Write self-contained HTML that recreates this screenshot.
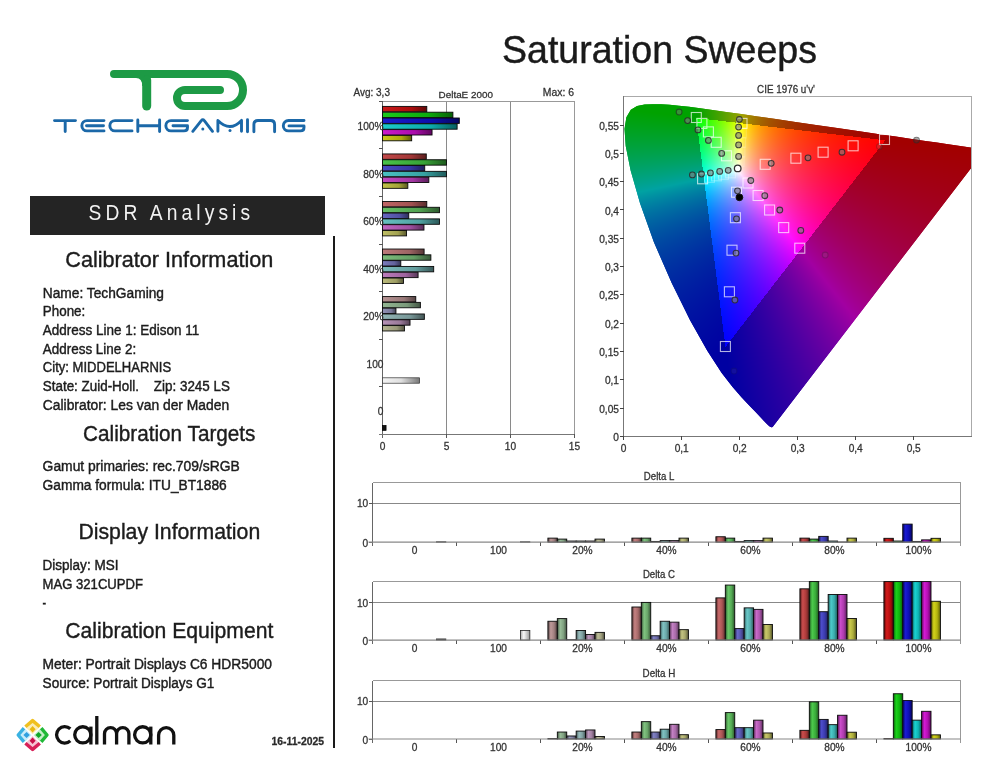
<!DOCTYPE html>
<html><head><meta charset="utf-8"><title>Saturation Sweeps</title>
<style>
html,body{margin:0;padding:0;background:#fff;}
body{width:994px;height:768px;position:relative;overflow:hidden;}
#cie{position:absolute;left:0;top:0;}
svg{position:absolute;left:0;top:0;}
text{font-family:"Liberation Sans",sans-serif;}
</style></head>
<body>
<svg id="fb" width="994" height="768" viewBox="0 0 994 768" style="position:absolute;left:0;top:0"><defs><clipPath id="fbclip"><polygon points="772.6,426.9 772.4,427.1 772.0,427.3 771.3,427.3 770.0,426.7 768.5,425.5 766.4,423.5 763.5,420.5 759.8,416.5 755.1,411.6 749.0,405.2 741.6,397.4 732.6,387.0 721.7,372.9 707.3,350.8 690.2,320.6 671.7,283.0 653.9,242.3 640.0,203.3 630.6,170.4 625.7,145.9 624.5,128.9 626.4,117.2 630.8,109.7 637.1,105.9 644.6,104.5 652.7,104.2 661.0,104.3 669.7,104.8 679.0,105.7 689.1,106.8 700.2,108.3 712.5,109.9 726.1,111.9 741.2,114.0 757.8,116.4 775.9,119.1 795.4,121.9 816.0,124.9 837.2,128.0 857.7,131.0 877.7,134.0 895.8,136.6 911.8,138.9 925.4,140.9 936.9,142.6 946.5,144.0 961.9,146.2 972.0,147.7 978.0,148.6 983.2,149.3 985.3,149.6"/></clipPath><linearGradient id="fb0" gradientUnits="userSpaceOnUse" x1="624" y1="0" x2="972" y2="0"><stop offset="0.0000" stop-color="#00a200"/><stop offset="0.0460" stop-color="#00a200"/><stop offset="0.0920" stop-color="#00a200"/><stop offset="0.1379" stop-color="#00a200"/><stop offset="0.1839" stop-color="#00a200"/><stop offset="0.2299" stop-color="#1ba200"/><stop offset="0.2759" stop-color="#4aa200"/><stop offset="0.3218" stop-color="#82a200"/><stop offset="0.3678" stop-color="#a28400"/><stop offset="0.4138" stop-color="#a25e00"/><stop offset="0.4598" stop-color="#a24500"/><stop offset="0.5057" stop-color="#a23300"/><stop offset="0.5517" stop-color="#a22600"/><stop offset="0.5977" stop-color="#a21d00"/><stop offset="0.6437" stop-color="#a21500"/><stop offset="0.6897" stop-color="#a20e00"/><stop offset="0.7356" stop-color="#a20900"/><stop offset="0.7816" stop-color="#a20500"/><stop offset="0.8276" stop-color="#a20100"/><stop offset="0.8736" stop-color="#a20000"/><stop offset="0.9195" stop-color="#a20000"/><stop offset="0.9655" stop-color="#a20000"/><stop offset="1.0000" stop-color="#a20000"/></linearGradient><linearGradient id="fb1" gradientUnits="userSpaceOnUse" x1="624" y1="0" x2="972" y2="0"><stop offset="0.0000" stop-color="#00a200"/><stop offset="0.0460" stop-color="#00a200"/><stop offset="0.0920" stop-color="#00a200"/><stop offset="0.1379" stop-color="#00a200"/><stop offset="0.1839" stop-color="#00a200"/><stop offset="0.2299" stop-color="#1aa200"/><stop offset="0.2759" stop-color="#4aa200"/><stop offset="0.3218" stop-color="#83a200"/><stop offset="0.3678" stop-color="#a28300"/><stop offset="0.4138" stop-color="#a25c00"/><stop offset="0.4598" stop-color="#a24400"/><stop offset="0.5057" stop-color="#a23200"/><stop offset="0.5517" stop-color="#a22500"/><stop offset="0.5977" stop-color="#a21c00"/><stop offset="0.6437" stop-color="#a21400"/><stop offset="0.6897" stop-color="#a20d00"/><stop offset="0.7356" stop-color="#a20800"/><stop offset="0.7816" stop-color="#a20400"/><stop offset="0.8276" stop-color="#a20000"/><stop offset="0.8736" stop-color="#a20000"/><stop offset="0.9195" stop-color="#a20000"/><stop offset="0.9655" stop-color="#a20000"/><stop offset="1.0000" stop-color="#a20000"/></linearGradient><linearGradient id="fb2" gradientUnits="userSpaceOnUse" x1="624" y1="0" x2="972" y2="0"><stop offset="0.0000" stop-color="#00a200"/><stop offset="0.0460" stop-color="#00a200"/><stop offset="0.0920" stop-color="#00a200"/><stop offset="0.1379" stop-color="#00a200"/><stop offset="0.1839" stop-color="#00a200"/><stop offset="0.2299" stop-color="#19a200"/><stop offset="0.2759" stop-color="#4aa200"/><stop offset="0.3218" stop-color="#84a200"/><stop offset="0.3678" stop-color="#a28200"/><stop offset="0.4138" stop-color="#a25b00"/><stop offset="0.4598" stop-color="#a24200"/><stop offset="0.5057" stop-color="#a23100"/><stop offset="0.5517" stop-color="#a22400"/><stop offset="0.5977" stop-color="#a21b00"/><stop offset="0.6437" stop-color="#a21300"/><stop offset="0.6897" stop-color="#a20d00"/><stop offset="0.7356" stop-color="#a20800"/><stop offset="0.7816" stop-color="#a20300"/><stop offset="0.8276" stop-color="#a20000"/><stop offset="0.8736" stop-color="#a20000"/><stop offset="0.9195" stop-color="#a20000"/><stop offset="0.9655" stop-color="#a20000"/><stop offset="1.0000" stop-color="#a20000"/></linearGradient><linearGradient id="fb3" gradientUnits="userSpaceOnUse" x1="624" y1="0" x2="972" y2="0"><stop offset="0.0000" stop-color="#00a200"/><stop offset="0.0460" stop-color="#00a200"/><stop offset="0.0920" stop-color="#00a200"/><stop offset="0.1379" stop-color="#00a200"/><stop offset="0.1839" stop-color="#00a200"/><stop offset="0.2299" stop-color="#18a200"/><stop offset="0.2759" stop-color="#49a200"/><stop offset="0.3218" stop-color="#84a200"/><stop offset="0.3678" stop-color="#a28000"/><stop offset="0.4138" stop-color="#a25a00"/><stop offset="0.4598" stop-color="#a24100"/><stop offset="0.5057" stop-color="#a23000"/><stop offset="0.5517" stop-color="#a22300"/><stop offset="0.5977" stop-color="#a21a00"/><stop offset="0.6437" stop-color="#a21200"/><stop offset="0.6897" stop-color="#a20c00"/><stop offset="0.7356" stop-color="#a20700"/><stop offset="0.7816" stop-color="#a20200"/><stop offset="0.8276" stop-color="#a20000"/><stop offset="0.8736" stop-color="#a20000"/><stop offset="0.9195" stop-color="#a20000"/><stop offset="0.9655" stop-color="#a20000"/><stop offset="1.0000" stop-color="#a20000"/></linearGradient><linearGradient id="fb4" gradientUnits="userSpaceOnUse" x1="624" y1="0" x2="972" y2="0"><stop offset="0.0000" stop-color="#00a206"/><stop offset="0.0460" stop-color="#00a204"/><stop offset="0.0920" stop-color="#00a201"/><stop offset="0.1379" stop-color="#00a200"/><stop offset="0.1839" stop-color="#00a200"/><stop offset="0.2299" stop-color="#17a200"/><stop offset="0.2759" stop-color="#49a200"/><stop offset="0.3218" stop-color="#85a200"/><stop offset="0.3678" stop-color="#a27f00"/><stop offset="0.4138" stop-color="#a25800"/><stop offset="0.4598" stop-color="#a24000"/><stop offset="0.5057" stop-color="#a22f00"/><stop offset="0.5517" stop-color="#a22200"/><stop offset="0.5977" stop-color="#a21900"/><stop offset="0.6437" stop-color="#a21100"/><stop offset="0.6897" stop-color="#a20b00"/><stop offset="0.7356" stop-color="#a20600"/><stop offset="0.7816" stop-color="#a20200"/><stop offset="0.8276" stop-color="#a20000"/><stop offset="0.8736" stop-color="#a20000"/><stop offset="0.9195" stop-color="#a20000"/><stop offset="0.9655" stop-color="#a20000"/><stop offset="1.0000" stop-color="#a20000"/></linearGradient><linearGradient id="fb5" gradientUnits="userSpaceOnUse" x1="624" y1="0" x2="972" y2="0"><stop offset="0.0000" stop-color="#00a20c"/><stop offset="0.0460" stop-color="#00a20a"/><stop offset="0.0920" stop-color="#00a208"/><stop offset="0.1379" stop-color="#00a205"/><stop offset="0.1839" stop-color="#00a202"/><stop offset="0.2299" stop-color="#16a200"/><stop offset="0.2759" stop-color="#49a200"/><stop offset="0.3218" stop-color="#86a200"/><stop offset="0.3678" stop-color="#a27e00"/><stop offset="0.4138" stop-color="#a25700"/><stop offset="0.4598" stop-color="#a23f00"/><stop offset="0.5057" stop-color="#a22e00"/><stop offset="0.5517" stop-color="#a22100"/><stop offset="0.5977" stop-color="#a21800"/><stop offset="0.6437" stop-color="#a21000"/><stop offset="0.6897" stop-color="#a20a00"/><stop offset="0.7356" stop-color="#a20500"/><stop offset="0.7816" stop-color="#a20100"/><stop offset="0.8276" stop-color="#a20000"/><stop offset="0.8736" stop-color="#a20000"/><stop offset="0.9195" stop-color="#a20000"/><stop offset="0.9655" stop-color="#a20000"/><stop offset="1.0000" stop-color="#a20000"/></linearGradient><linearGradient id="fb6" gradientUnits="userSpaceOnUse" x1="624" y1="0" x2="972" y2="0"><stop offset="0.0000" stop-color="#00a212"/><stop offset="0.0460" stop-color="#00a211"/><stop offset="0.0920" stop-color="#00a20e"/><stop offset="0.1379" stop-color="#00a20c"/><stop offset="0.1839" stop-color="#00a209"/><stop offset="0.2090" stop-color="#00a208"/><stop offset="0.2090" stop-color="#00ff0c"/><stop offset="0.2299" stop-color="#20ff0a"/><stop offset="0.2759" stop-color="#72ff04"/><stop offset="0.3062" stop-color="#b1ff00"/><stop offset="0.3062" stop-color="#70a200"/><stop offset="0.3218" stop-color="#87a200"/><stop offset="0.3678" stop-color="#a27c00"/><stop offset="0.4138" stop-color="#a25600"/><stop offset="0.4598" stop-color="#a23d00"/><stop offset="0.5057" stop-color="#a22c00"/><stop offset="0.5517" stop-color="#a22000"/><stop offset="0.5977" stop-color="#a21700"/><stop offset="0.6437" stop-color="#a20f00"/><stop offset="0.6897" stop-color="#a20900"/><stop offset="0.7356" stop-color="#a20400"/><stop offset="0.7816" stop-color="#a20000"/><stop offset="0.8276" stop-color="#a20000"/><stop offset="0.8736" stop-color="#a20000"/><stop offset="0.9195" stop-color="#a20000"/><stop offset="0.9655" stop-color="#a20000"/><stop offset="1.0000" stop-color="#a20000"/></linearGradient><linearGradient id="fb7" gradientUnits="userSpaceOnUse" x1="624" y1="0" x2="972" y2="0"><stop offset="0.0000" stop-color="#00a219"/><stop offset="0.0460" stop-color="#00a217"/><stop offset="0.0920" stop-color="#00a216"/><stop offset="0.1379" stop-color="#00a214"/><stop offset="0.1839" stop-color="#00a211"/><stop offset="0.2104" stop-color="#00a210"/><stop offset="0.2104" stop-color="#00ff19"/><stop offset="0.2299" stop-color="#1fff18"/><stop offset="0.2759" stop-color="#72ff13"/><stop offset="0.3218" stop-color="#d5ff0d"/><stop offset="0.3678" stop-color="#ffc104"/><stop offset="0.4030" stop-color="#ff9000"/><stop offset="0.4031" stop-color="#a25c00"/><stop offset="0.4138" stop-color="#a25400"/><stop offset="0.4598" stop-color="#a23c00"/><stop offset="0.5057" stop-color="#a22b00"/><stop offset="0.5517" stop-color="#a21f00"/><stop offset="0.5977" stop-color="#a21600"/><stop offset="0.6437" stop-color="#a20e00"/><stop offset="0.6897" stop-color="#a20900"/><stop offset="0.7356" stop-color="#a20400"/><stop offset="0.7816" stop-color="#a20000"/><stop offset="0.8276" stop-color="#a20000"/><stop offset="0.8736" stop-color="#a20000"/><stop offset="0.9195" stop-color="#a20000"/><stop offset="0.9655" stop-color="#a20000"/><stop offset="1.0000" stop-color="#a20000"/></linearGradient><linearGradient id="fb8" gradientUnits="userSpaceOnUse" x1="624" y1="0" x2="972" y2="0"><stop offset="0.0000" stop-color="#00a21f"/><stop offset="0.0460" stop-color="#00a21e"/><stop offset="0.0920" stop-color="#00a21d"/><stop offset="0.1379" stop-color="#00a21b"/><stop offset="0.1839" stop-color="#00a21a"/><stop offset="0.2119" stop-color="#00a219"/><stop offset="0.2119" stop-color="#00ff27"/><stop offset="0.2299" stop-color="#1dff26"/><stop offset="0.2759" stop-color="#71ff22"/><stop offset="0.3218" stop-color="#d7ff1e"/><stop offset="0.3678" stop-color="#ffbf12"/><stop offset="0.4138" stop-color="#ff8309"/><stop offset="0.4598" stop-color="#ff5d03"/><stop offset="0.4999" stop-color="#ff4500"/><stop offset="0.4999" stop-color="#a22c00"/><stop offset="0.5057" stop-color="#a22a00"/><stop offset="0.5517" stop-color="#a21e00"/><stop offset="0.5977" stop-color="#a21500"/><stop offset="0.6437" stop-color="#a20e00"/><stop offset="0.6897" stop-color="#a20800"/><stop offset="0.7356" stop-color="#a20300"/><stop offset="0.7816" stop-color="#a20000"/><stop offset="0.8276" stop-color="#a20000"/><stop offset="0.8736" stop-color="#a20000"/><stop offset="0.9195" stop-color="#a20000"/><stop offset="0.9655" stop-color="#a20000"/><stop offset="1.0000" stop-color="#a20000"/></linearGradient><linearGradient id="fb9" gradientUnits="userSpaceOnUse" x1="624" y1="0" x2="972" y2="0"><stop offset="0.0000" stop-color="#00a226"/><stop offset="0.0460" stop-color="#00a225"/><stop offset="0.0920" stop-color="#00a224"/><stop offset="0.1379" stop-color="#00a223"/><stop offset="0.1839" stop-color="#00a222"/><stop offset="0.2134" stop-color="#00a222"/><stop offset="0.2134" stop-color="#00ff35"/><stop offset="0.2299" stop-color="#1bff34"/><stop offset="0.2759" stop-color="#71ff32"/><stop offset="0.3218" stop-color="#d8ff2f"/><stop offset="0.3678" stop-color="#ffbc20"/><stop offset="0.4138" stop-color="#ff8014"/><stop offset="0.4598" stop-color="#ff5b0c"/><stop offset="0.5057" stop-color="#ff4106"/><stop offset="0.5517" stop-color="#ff2e02"/><stop offset="0.5968" stop-color="#ff2000"/><stop offset="0.5968" stop-color="#a21400"/><stop offset="0.5977" stop-color="#a21400"/><stop offset="0.6437" stop-color="#a20d00"/><stop offset="0.6897" stop-color="#a20700"/><stop offset="0.7356" stop-color="#a20200"/><stop offset="0.7816" stop-color="#a20000"/><stop offset="0.8276" stop-color="#a20000"/><stop offset="0.8736" stop-color="#a20000"/><stop offset="0.9195" stop-color="#a20000"/><stop offset="0.9655" stop-color="#a20000"/><stop offset="1.0000" stop-color="#a20000"/></linearGradient><linearGradient id="fb10" gradientUnits="userSpaceOnUse" x1="624" y1="0" x2="972" y2="0"><stop offset="0.0000" stop-color="#00a22c"/><stop offset="0.0460" stop-color="#00a22c"/><stop offset="0.0920" stop-color="#00a22c"/><stop offset="0.1379" stop-color="#00a22b"/><stop offset="0.1839" stop-color="#00a22b"/><stop offset="0.2148" stop-color="#00a22b"/><stop offset="0.2148" stop-color="#00ff44"/><stop offset="0.2299" stop-color="#19ff43"/><stop offset="0.2759" stop-color="#70ff43"/><stop offset="0.3218" stop-color="#d9ff41"/><stop offset="0.3678" stop-color="#ffba2f"/><stop offset="0.4138" stop-color="#ff7e1f"/><stop offset="0.4598" stop-color="#ff5815"/><stop offset="0.5057" stop-color="#ff3f0e"/><stop offset="0.5517" stop-color="#ff2c09"/><stop offset="0.5977" stop-color="#ff1e05"/><stop offset="0.6437" stop-color="#ff1302"/><stop offset="0.6897" stop-color="#ff0a00"/><stop offset="0.6937" stop-color="#ff0900"/><stop offset="0.6937" stop-color="#a20600"/><stop offset="0.7356" stop-color="#a20100"/><stop offset="0.7816" stop-color="#a20000"/><stop offset="0.8276" stop-color="#a20000"/><stop offset="0.8736" stop-color="#a20000"/><stop offset="0.9195" stop-color="#a20000"/><stop offset="0.9655" stop-color="#a20000"/><stop offset="1.0000" stop-color="#a20000"/></linearGradient><linearGradient id="fb11" gradientUnits="userSpaceOnUse" x1="624" y1="0" x2="972" y2="0"><stop offset="0.0000" stop-color="#00a233"/><stop offset="0.0460" stop-color="#00a233"/><stop offset="0.0920" stop-color="#00a234"/><stop offset="0.1379" stop-color="#00a234"/><stop offset="0.1839" stop-color="#00a234"/><stop offset="0.2163" stop-color="#00a234"/><stop offset="0.2163" stop-color="#00ff53"/><stop offset="0.2299" stop-color="#17ff53"/><stop offset="0.2759" stop-color="#6fff54"/><stop offset="0.3218" stop-color="#dbff54"/><stop offset="0.3678" stop-color="#ffb83d"/><stop offset="0.4138" stop-color="#ff7c2a"/><stop offset="0.4598" stop-color="#ff561e"/><stop offset="0.5057" stop-color="#ff3d15"/><stop offset="0.5517" stop-color="#ff2a0f"/><stop offset="0.5977" stop-color="#ff1c0b"/><stop offset="0.6437" stop-color="#ff1107"/><stop offset="0.6897" stop-color="#ff0804"/><stop offset="0.7356" stop-color="#ff0102"/><stop offset="0.7468" stop-color="#ff0001"/><stop offset="0.7468" stop-color="#a20001"/><stop offset="0.7816" stop-color="#a20000"/><stop offset="0.8276" stop-color="#a20000"/><stop offset="0.8736" stop-color="#a20000"/><stop offset="0.9195" stop-color="#a20000"/><stop offset="0.9655" stop-color="#a20000"/><stop offset="1.0000" stop-color="#a20000"/></linearGradient><linearGradient id="fb12" gradientUnits="userSpaceOnUse" x1="624" y1="0" x2="972" y2="0"><stop offset="0.0000" stop-color="#00a23a"/><stop offset="0.0460" stop-color="#00a23b"/><stop offset="0.0920" stop-color="#00a23c"/><stop offset="0.1379" stop-color="#00a23d"/><stop offset="0.1839" stop-color="#00a23e"/><stop offset="0.2178" stop-color="#00a23e"/><stop offset="0.2178" stop-color="#00ff63"/><stop offset="0.2299" stop-color="#15ff63"/><stop offset="0.2759" stop-color="#6fff65"/><stop offset="0.3218" stop-color="#ddff68"/><stop offset="0.3678" stop-color="#ffb54c"/><stop offset="0.4138" stop-color="#ff7935"/><stop offset="0.4598" stop-color="#ff5427"/><stop offset="0.5057" stop-color="#ff3b1d"/><stop offset="0.5517" stop-color="#ff2916"/><stop offset="0.5977" stop-color="#ff1b10"/><stop offset="0.6437" stop-color="#ff100c"/><stop offset="0.6897" stop-color="#ff0709"/><stop offset="0.7356" stop-color="#ff0006"/><stop offset="0.7379" stop-color="#ff0006"/><stop offset="0.7379" stop-color="#a20004"/><stop offset="0.7816" stop-color="#a20002"/><stop offset="0.8276" stop-color="#a20001"/><stop offset="0.8736" stop-color="#a20000"/><stop offset="0.9195" stop-color="#a20000"/><stop offset="0.9655" stop-color="#a20000"/><stop offset="1.0000" stop-color="#a20000"/></linearGradient><linearGradient id="fb13" gradientUnits="userSpaceOnUse" x1="624" y1="0" x2="972" y2="0"><stop offset="0.0000" stop-color="#00a242"/><stop offset="0.0460" stop-color="#00a243"/><stop offset="0.0920" stop-color="#00a244"/><stop offset="0.1379" stop-color="#00a246"/><stop offset="0.1839" stop-color="#00a247"/><stop offset="0.2192" stop-color="#00a249"/><stop offset="0.2192" stop-color="#00ff73"/><stop offset="0.2299" stop-color="#12ff74"/><stop offset="0.2759" stop-color="#6eff78"/><stop offset="0.3218" stop-color="#deff7d"/><stop offset="0.3678" stop-color="#ffb25c"/><stop offset="0.4138" stop-color="#ff7741"/><stop offset="0.4598" stop-color="#ff5230"/><stop offset="0.5057" stop-color="#ff3925"/><stop offset="0.5517" stop-color="#ff271c"/><stop offset="0.5977" stop-color="#ff1916"/><stop offset="0.6437" stop-color="#ff0e11"/><stop offset="0.6897" stop-color="#ff060d"/><stop offset="0.7291" stop-color="#ff000b"/><stop offset="0.7291" stop-color="#a20007"/><stop offset="0.7356" stop-color="#a20006"/><stop offset="0.7816" stop-color="#a20005"/><stop offset="0.8276" stop-color="#a20003"/><stop offset="0.8736" stop-color="#a20002"/><stop offset="0.9195" stop-color="#a20001"/><stop offset="0.9655" stop-color="#a20000"/><stop offset="1.0000" stop-color="#a20000"/></linearGradient><linearGradient id="fb14" gradientUnits="userSpaceOnUse" x1="624" y1="0" x2="972" y2="0"><stop offset="0.0000" stop-color="#00a249"/><stop offset="0.0460" stop-color="#00a24b"/><stop offset="0.0920" stop-color="#00a24c"/><stop offset="0.1379" stop-color="#00a24f"/><stop offset="0.1839" stop-color="#00a251"/><stop offset="0.2207" stop-color="#00a254"/><stop offset="0.2207" stop-color="#00ff84"/><stop offset="0.2299" stop-color="#10ff85"/><stop offset="0.2759" stop-color="#6dff8b"/><stop offset="0.3218" stop-color="#e0ff92"/><stop offset="0.3678" stop-color="#ffb06b"/><stop offset="0.4138" stop-color="#ff744c"/><stop offset="0.4598" stop-color="#ff5039"/><stop offset="0.5057" stop-color="#ff372c"/><stop offset="0.5517" stop-color="#ff2523"/><stop offset="0.5977" stop-color="#ff171c"/><stop offset="0.6437" stop-color="#ff0d16"/><stop offset="0.6897" stop-color="#ff0412"/><stop offset="0.7202" stop-color="#ff0010"/><stop offset="0.7202" stop-color="#a2000a"/><stop offset="0.7356" stop-color="#a20009"/><stop offset="0.7816" stop-color="#a20007"/><stop offset="0.8276" stop-color="#a20005"/><stop offset="0.8736" stop-color="#a20004"/><stop offset="0.9195" stop-color="#a20003"/><stop offset="0.9655" stop-color="#a20002"/><stop offset="1.0000" stop-color="#a20001"/></linearGradient><linearGradient id="fb15" gradientUnits="userSpaceOnUse" x1="624" y1="0" x2="972" y2="0"><stop offset="0.0000" stop-color="#00a251"/><stop offset="0.0460" stop-color="#00a253"/><stop offset="0.0920" stop-color="#00a255"/><stop offset="0.1379" stop-color="#00a258"/><stop offset="0.1839" stop-color="#00a25c"/><stop offset="0.2222" stop-color="#00a25f"/><stop offset="0.2222" stop-color="#00ff96"/><stop offset="0.2299" stop-color="#0eff97"/><stop offset="0.2759" stop-color="#6cff9f"/><stop offset="0.3218" stop-color="#e2ffa9"/><stop offset="0.3678" stop-color="#ffad7b"/><stop offset="0.4138" stop-color="#ff7258"/><stop offset="0.4598" stop-color="#ff4d43"/><stop offset="0.5057" stop-color="#ff3534"/><stop offset="0.5517" stop-color="#ff232a"/><stop offset="0.5977" stop-color="#ff1622"/><stop offset="0.6437" stop-color="#ff0b1c"/><stop offset="0.6897" stop-color="#ff0317"/><stop offset="0.7113" stop-color="#ff0015"/><stop offset="0.7113" stop-color="#a2000d"/><stop offset="0.7356" stop-color="#a2000c"/><stop offset="0.7816" stop-color="#a20009"/><stop offset="0.8276" stop-color="#a20008"/><stop offset="0.8736" stop-color="#a20006"/><stop offset="0.9195" stop-color="#a20005"/><stop offset="0.9655" stop-color="#a20004"/><stop offset="1.0000" stop-color="#a20003"/></linearGradient><linearGradient id="fb16" gradientUnits="userSpaceOnUse" x1="624" y1="0" x2="972" y2="0"><stop offset="0.0000" stop-color="#00a258"/><stop offset="0.0460" stop-color="#00a25b"/><stop offset="0.0920" stop-color="#00a25e"/><stop offset="0.1379" stop-color="#00a262"/><stop offset="0.1839" stop-color="#00a266"/><stop offset="0.2236" stop-color="#00a26b"/><stop offset="0.2237" stop-color="#00ffa9"/><stop offset="0.2299" stop-color="#0bffaa"/><stop offset="0.2759" stop-color="#6cffb4"/><stop offset="0.3218" stop-color="#e4ffc0"/><stop offset="0.3678" stop-color="#ffaa8b"/><stop offset="0.4138" stop-color="#ff6f64"/><stop offset="0.4598" stop-color="#ff4b4c"/><stop offset="0.5057" stop-color="#ff333c"/><stop offset="0.5517" stop-color="#ff2130"/><stop offset="0.5977" stop-color="#ff1428"/><stop offset="0.6437" stop-color="#ff0a21"/><stop offset="0.6897" stop-color="#ff021b"/><stop offset="0.7024" stop-color="#ff001a"/><stop offset="0.7024" stop-color="#a20010"/><stop offset="0.7356" stop-color="#a2000e"/><stop offset="0.7816" stop-color="#a2000c"/><stop offset="0.8276" stop-color="#a2000a"/><stop offset="0.8736" stop-color="#a20008"/><stop offset="0.9195" stop-color="#a20007"/><stop offset="0.9655" stop-color="#a20005"/><stop offset="1.0000" stop-color="#a20004"/></linearGradient><linearGradient id="fb17" gradientUnits="userSpaceOnUse" x1="624" y1="0" x2="972" y2="0"><stop offset="0.0000" stop-color="#00a260"/><stop offset="0.0460" stop-color="#00a264"/><stop offset="0.0920" stop-color="#00a268"/><stop offset="0.1379" stop-color="#00a26c"/><stop offset="0.1839" stop-color="#00a271"/><stop offset="0.2251" stop-color="#00a277"/><stop offset="0.2251" stop-color="#00ffbc"/><stop offset="0.2299" stop-color="#09ffbd"/><stop offset="0.2759" stop-color="#6bffc9"/><stop offset="0.3218" stop-color="#e6ffd9"/><stop offset="0.3678" stop-color="#ffa79c"/><stop offset="0.4138" stop-color="#ff6d70"/><stop offset="0.4598" stop-color="#ff4956"/><stop offset="0.5057" stop-color="#ff3144"/><stop offset="0.5517" stop-color="#ff1f37"/><stop offset="0.5977" stop-color="#ff122e"/><stop offset="0.6437" stop-color="#ff0826"/><stop offset="0.6897" stop-color="#ff0020"/><stop offset="0.6935" stop-color="#ff0020"/><stop offset="0.6935" stop-color="#a20014"/><stop offset="0.7356" stop-color="#a20011"/><stop offset="0.7816" stop-color="#a2000e"/><stop offset="0.8276" stop-color="#a2000c"/><stop offset="0.8736" stop-color="#a2000a"/><stop offset="0.9195" stop-color="#a20009"/><stop offset="0.9655" stop-color="#a20007"/><stop offset="1.0000" stop-color="#a20006"/></linearGradient><linearGradient id="fb18" gradientUnits="userSpaceOnUse" x1="624" y1="0" x2="972" y2="0"><stop offset="0.0000" stop-color="#00a269"/><stop offset="0.0460" stop-color="#00a26c"/><stop offset="0.0920" stop-color="#00a271"/><stop offset="0.1379" stop-color="#00a277"/><stop offset="0.1839" stop-color="#00a27d"/><stop offset="0.2266" stop-color="#00a284"/><stop offset="0.2266" stop-color="#00ffd0"/><stop offset="0.2299" stop-color="#06ffd1"/><stop offset="0.2759" stop-color="#6affe0"/><stop offset="0.3218" stop-color="#e8fff3"/><stop offset="0.3678" stop-color="#ffa5ad"/><stop offset="0.4138" stop-color="#ff6a7d"/><stop offset="0.4598" stop-color="#ff4660"/><stop offset="0.5057" stop-color="#ff2f4c"/><stop offset="0.5517" stop-color="#ff1e3e"/><stop offset="0.5977" stop-color="#ff1134"/><stop offset="0.6437" stop-color="#ff072b"/><stop offset="0.6846" stop-color="#ff0026"/><stop offset="0.6846" stop-color="#a20018"/><stop offset="0.6897" stop-color="#a20017"/><stop offset="0.7356" stop-color="#a20014"/><stop offset="0.7816" stop-color="#a20011"/><stop offset="0.8276" stop-color="#a2000f"/><stop offset="0.8736" stop-color="#a2000c"/><stop offset="0.9195" stop-color="#a2000b"/><stop offset="0.9655" stop-color="#a20009"/><stop offset="1.0000" stop-color="#a20008"/></linearGradient><linearGradient id="fb19" gradientUnits="userSpaceOnUse" x1="624" y1="0" x2="972" y2="0"><stop offset="0.0000" stop-color="#00a271"/><stop offset="0.0460" stop-color="#00a275"/><stop offset="0.0920" stop-color="#00a27b"/><stop offset="0.1379" stop-color="#00a281"/><stop offset="0.1839" stop-color="#00a289"/><stop offset="0.2281" stop-color="#00a292"/><stop offset="0.2281" stop-color="#00ffe5"/><stop offset="0.2299" stop-color="#03ffe6"/><stop offset="0.2759" stop-color="#69fff8"/><stop offset="0.3218" stop-color="#dcf0ff"/><stop offset="0.3678" stop-color="#ffa2be"/><stop offset="0.4138" stop-color="#ff6789"/><stop offset="0.4598" stop-color="#ff4469"/><stop offset="0.5057" stop-color="#ff2d54"/><stop offset="0.5517" stop-color="#ff1c45"/><stop offset="0.5977" stop-color="#ff0f3a"/><stop offset="0.6437" stop-color="#ff0531"/><stop offset="0.6757" stop-color="#ff002c"/><stop offset="0.6757" stop-color="#a2001c"/><stop offset="0.6897" stop-color="#a2001a"/><stop offset="0.7356" stop-color="#a20017"/><stop offset="0.7816" stop-color="#a20013"/><stop offset="0.8276" stop-color="#a20011"/><stop offset="0.8736" stop-color="#a2000f"/><stop offset="0.9195" stop-color="#a2000d"/><stop offset="0.9655" stop-color="#a2000b"/><stop offset="1.0000" stop-color="#a2000a"/></linearGradient><linearGradient id="fb20" gradientUnits="userSpaceOnUse" x1="624" y1="0" x2="972" y2="0"><stop offset="0.0000" stop-color="#00a27a"/><stop offset="0.0460" stop-color="#00a27f"/><stop offset="0.0920" stop-color="#00a285"/><stop offset="0.1379" stop-color="#00a28c"/><stop offset="0.1839" stop-color="#00a295"/><stop offset="0.2295" stop-color="#00a2a0"/><stop offset="0.2295" stop-color="#00fffc"/><stop offset="0.2299" stop-color="#00fffc"/><stop offset="0.2759" stop-color="#61eeff"/><stop offset="0.3218" stop-color="#c9d9ff"/><stop offset="0.3678" stop-color="#ff9fcf"/><stop offset="0.4138" stop-color="#ff6596"/><stop offset="0.4598" stop-color="#ff4273"/><stop offset="0.5057" stop-color="#ff2a5c"/><stop offset="0.5517" stop-color="#ff1a4c"/><stop offset="0.5977" stop-color="#ff0d40"/><stop offset="0.6437" stop-color="#ff0436"/><stop offset="0.6668" stop-color="#ff0032"/><stop offset="0.6669" stop-color="#a20020"/><stop offset="0.6897" stop-color="#a2001d"/><stop offset="0.7356" stop-color="#a20019"/><stop offset="0.7816" stop-color="#a20016"/><stop offset="0.8276" stop-color="#a20013"/><stop offset="0.8736" stop-color="#a20011"/><stop offset="0.9195" stop-color="#a2000f"/><stop offset="0.9655" stop-color="#a2000d"/><stop offset="1.0000" stop-color="#a2000c"/></linearGradient><linearGradient id="fb21" gradientUnits="userSpaceOnUse" x1="624" y1="0" x2="972" y2="0"><stop offset="0.0000" stop-color="#00a282"/><stop offset="0.0460" stop-color="#00a288"/><stop offset="0.0920" stop-color="#00a290"/><stop offset="0.1379" stop-color="#00a298"/><stop offset="0.1839" stop-color="#00a1a2"/><stop offset="0.2299" stop-color="#0096a2"/><stop offset="0.2310" stop-color="#0095a2"/><stop offset="0.2310" stop-color="#00ecff"/><stop offset="0.2759" stop-color="#58d9ff"/><stop offset="0.3218" stop-color="#b9c5ff"/><stop offset="0.3678" stop-color="#ff9be1"/><stop offset="0.4138" stop-color="#ff62a3"/><stop offset="0.4598" stop-color="#ff3f7e"/><stop offset="0.5057" stop-color="#ff2865"/><stop offset="0.5517" stop-color="#ff1853"/><stop offset="0.5977" stop-color="#ff0c46"/><stop offset="0.6437" stop-color="#ff023c"/><stop offset="0.6580" stop-color="#ff0039"/><stop offset="0.6580" stop-color="#a20024"/><stop offset="0.6897" stop-color="#a20020"/><stop offset="0.7356" stop-color="#a2001c"/><stop offset="0.7816" stop-color="#a20019"/><stop offset="0.8276" stop-color="#a20016"/><stop offset="0.8736" stop-color="#a20013"/><stop offset="0.9195" stop-color="#a20011"/><stop offset="0.9655" stop-color="#a2000f"/><stop offset="1.0000" stop-color="#a2000d"/></linearGradient><linearGradient id="fb22" gradientUnits="userSpaceOnUse" x1="624" y1="0" x2="972" y2="0"><stop offset="0.0000" stop-color="#00a28c"/><stop offset="0.0460" stop-color="#00a292"/><stop offset="0.0920" stop-color="#00a29a"/><stop offset="0.1379" stop-color="#009fa2"/><stop offset="0.1839" stop-color="#0095a2"/><stop offset="0.2299" stop-color="#008aa2"/><stop offset="0.2325" stop-color="#0089a2"/><stop offset="0.2325" stop-color="#00d8ff"/><stop offset="0.2759" stop-color="#50c7ff"/><stop offset="0.3218" stop-color="#aab4ff"/><stop offset="0.3678" stop-color="#ff98f4"/><stop offset="0.4138" stop-color="#ff5fb0"/><stop offset="0.4598" stop-color="#ff3d88"/><stop offset="0.5057" stop-color="#ff266d"/><stop offset="0.5517" stop-color="#ff165a"/><stop offset="0.5977" stop-color="#ff0a4c"/><stop offset="0.6437" stop-color="#ff0041"/><stop offset="0.6491" stop-color="#ff0040"/><stop offset="0.6491" stop-color="#a20028"/><stop offset="0.6897" stop-color="#a20023"/><stop offset="0.7356" stop-color="#a2001f"/><stop offset="0.7816" stop-color="#a2001b"/><stop offset="0.8276" stop-color="#a20018"/><stop offset="0.8736" stop-color="#a20015"/><stop offset="0.9195" stop-color="#a20013"/><stop offset="0.9655" stop-color="#a20011"/><stop offset="1.0000" stop-color="#a2000f"/></linearGradient><linearGradient id="fb23" gradientUnits="userSpaceOnUse" x1="624" y1="0" x2="972" y2="0"><stop offset="0.0000" stop-color="#00a295"/><stop offset="0.0460" stop-color="#00a29c"/><stop offset="0.0920" stop-color="#009ea2"/><stop offset="0.1379" stop-color="#0094a2"/><stop offset="0.1839" stop-color="#008aa2"/><stop offset="0.2299" stop-color="#007fa2"/><stop offset="0.2339" stop-color="#007ea2"/><stop offset="0.2339" stop-color="#00c7ff"/><stop offset="0.2759" stop-color="#49b7ff"/><stop offset="0.3218" stop-color="#9da4ff"/><stop offset="0.3678" stop-color="#f791ff"/><stop offset="0.4138" stop-color="#ff5cbe"/><stop offset="0.4598" stop-color="#ff3a92"/><stop offset="0.5057" stop-color="#ff2476"/><stop offset="0.5517" stop-color="#ff1461"/><stop offset="0.5977" stop-color="#ff0852"/><stop offset="0.6402" stop-color="#ff0047"/><stop offset="0.6402" stop-color="#a2002d"/><stop offset="0.6437" stop-color="#a2002d"/><stop offset="0.6897" stop-color="#a20027"/><stop offset="0.7356" stop-color="#a20022"/><stop offset="0.7816" stop-color="#a2001e"/><stop offset="0.8276" stop-color="#a2001a"/><stop offset="0.8736" stop-color="#a20017"/><stop offset="0.9195" stop-color="#a20015"/><stop offset="0.9655" stop-color="#a20013"/><stop offset="1.0000" stop-color="#a20011"/></linearGradient><linearGradient id="fb24" gradientUnits="userSpaceOnUse" x1="624" y1="0" x2="972" y2="0"><stop offset="0.0000" stop-color="#00a29f"/><stop offset="0.0460" stop-color="#009ca2"/><stop offset="0.0920" stop-color="#0093a2"/><stop offset="0.1379" stop-color="#008aa2"/><stop offset="0.1839" stop-color="#0080a2"/><stop offset="0.2299" stop-color="#0076a2"/><stop offset="0.2354" stop-color="#0075a2"/><stop offset="0.2354" stop-color="#00b8ff"/><stop offset="0.2759" stop-color="#42a9ff"/><stop offset="0.3218" stop-color="#9297ff"/><stop offset="0.3678" stop-color="#e684ff"/><stop offset="0.4138" stop-color="#ff59cb"/><stop offset="0.4598" stop-color="#ff389d"/><stop offset="0.5057" stop-color="#ff227e"/><stop offset="0.5517" stop-color="#ff1269"/><stop offset="0.5977" stop-color="#ff0658"/><stop offset="0.6313" stop-color="#ff004f"/><stop offset="0.6313" stop-color="#a20032"/><stop offset="0.6437" stop-color="#a20030"/><stop offset="0.6897" stop-color="#a2002a"/><stop offset="0.7356" stop-color="#a20025"/><stop offset="0.7816" stop-color="#a20020"/><stop offset="0.8276" stop-color="#a2001d"/><stop offset="0.8736" stop-color="#a20019"/><stop offset="0.9195" stop-color="#a20017"/><stop offset="0.9655" stop-color="#a20014"/><stop offset="1.0000" stop-color="#a20013"/></linearGradient><linearGradient id="fb25" gradientUnits="userSpaceOnUse" x1="624" y1="0" x2="972" y2="0"><stop offset="0.0000" stop-color="#009ba2"/><stop offset="0.0460" stop-color="#0093a2"/><stop offset="0.0920" stop-color="#008aa2"/><stop offset="0.1379" stop-color="#0081a2"/><stop offset="0.1839" stop-color="#0077a2"/><stop offset="0.2299" stop-color="#006da2"/><stop offset="0.2369" stop-color="#006ca2"/><stop offset="0.2369" stop-color="#00aaff"/><stop offset="0.2759" stop-color="#3d9cff"/><stop offset="0.3218" stop-color="#888bff"/><stop offset="0.3678" stop-color="#d778ff"/><stop offset="0.4138" stop-color="#ff56d9"/><stop offset="0.4598" stop-color="#ff35a8"/><stop offset="0.5057" stop-color="#ff1f87"/><stop offset="0.5517" stop-color="#ff1070"/><stop offset="0.5977" stop-color="#ff055f"/><stop offset="0.6224" stop-color="#ff0057"/><stop offset="0.6224" stop-color="#a20037"/><stop offset="0.6437" stop-color="#a20034"/><stop offset="0.6897" stop-color="#a2002d"/><stop offset="0.7356" stop-color="#a20027"/><stop offset="0.7816" stop-color="#a20023"/><stop offset="0.8276" stop-color="#a2001f"/><stop offset="0.8736" stop-color="#a2001c"/><stop offset="0.9195" stop-color="#a20019"/><stop offset="0.9655" stop-color="#a20016"/><stop offset="1.0000" stop-color="#a20015"/></linearGradient><linearGradient id="fb26" gradientUnits="userSpaceOnUse" x1="624" y1="0" x2="972" y2="0"><stop offset="0.0000" stop-color="#0092a2"/><stop offset="0.0460" stop-color="#008aa2"/><stop offset="0.0920" stop-color="#0082a2"/><stop offset="0.1379" stop-color="#0079a2"/><stop offset="0.1839" stop-color="#006fa2"/><stop offset="0.2299" stop-color="#0066a2"/><stop offset="0.2383" stop-color="#0064a2"/><stop offset="0.2383" stop-color="#009eff"/><stop offset="0.2759" stop-color="#3790ff"/><stop offset="0.3218" stop-color="#7f80ff"/><stop offset="0.3678" stop-color="#ca6eff"/><stop offset="0.4138" stop-color="#ff53e7"/><stop offset="0.4598" stop-color="#ff33b2"/><stop offset="0.5057" stop-color="#ff1d90"/><stop offset="0.5517" stop-color="#ff0e77"/><stop offset="0.5977" stop-color="#ff0365"/><stop offset="0.6135" stop-color="#ff0060"/><stop offset="0.6135" stop-color="#a2003d"/><stop offset="0.6437" stop-color="#a20037"/><stop offset="0.6897" stop-color="#a20030"/><stop offset="0.7356" stop-color="#a2002a"/><stop offset="0.7816" stop-color="#a20025"/><stop offset="0.8276" stop-color="#a20021"/><stop offset="0.8736" stop-color="#a2001e"/><stop offset="0.9195" stop-color="#a2001b"/><stop offset="0.9655" stop-color="#a20018"/><stop offset="1.0000" stop-color="#a20017"/></linearGradient><linearGradient id="fb27" gradientUnits="userSpaceOnUse" x1="624" y1="0" x2="972" y2="0"><stop offset="0.0000" stop-color="#008aa2"/><stop offset="0.0460" stop-color="#0082a2"/><stop offset="0.0920" stop-color="#007aa2"/><stop offset="0.1379" stop-color="#0071a2"/><stop offset="0.1839" stop-color="#0068a2"/><stop offset="0.2299" stop-color="#005fa2"/><stop offset="0.2398" stop-color="#005da2"/><stop offset="0.2398" stop-color="#0092ff"/><stop offset="0.2759" stop-color="#3386ff"/><stop offset="0.3218" stop-color="#7776ff"/><stop offset="0.3678" stop-color="#be65ff"/><stop offset="0.4138" stop-color="#ff50f5"/><stop offset="0.4598" stop-color="#ff30bd"/><stop offset="0.5057" stop-color="#ff1b99"/><stop offset="0.5517" stop-color="#ff0c7f"/><stop offset="0.5977" stop-color="#ff016c"/><stop offset="0.6046" stop-color="#ff0069"/><stop offset="0.6046" stop-color="#a20043"/><stop offset="0.6437" stop-color="#a2003b"/><stop offset="0.6897" stop-color="#a20033"/><stop offset="0.7356" stop-color="#a2002d"/><stop offset="0.7816" stop-color="#a20028"/><stop offset="0.8276" stop-color="#a20024"/><stop offset="0.8736" stop-color="#a20020"/><stop offset="0.9195" stop-color="#a2001d"/><stop offset="0.9655" stop-color="#a2001a"/><stop offset="1.0000" stop-color="#a20018"/></linearGradient><linearGradient id="fb28" gradientUnits="userSpaceOnUse" x1="624" y1="0" x2="972" y2="0"><stop offset="0.0000" stop-color="#0082a2"/><stop offset="0.0460" stop-color="#007ba2"/><stop offset="0.0920" stop-color="#0073a2"/><stop offset="0.1379" stop-color="#006aa2"/><stop offset="0.1839" stop-color="#0062a2"/><stop offset="0.2299" stop-color="#0058a2"/><stop offset="0.2413" stop-color="#0056a2"/><stop offset="0.2413" stop-color="#0088ff"/><stop offset="0.2759" stop-color="#2e7dff"/><stop offset="0.3218" stop-color="#6f6dff"/><stop offset="0.3678" stop-color="#b35dff"/><stop offset="0.4138" stop-color="#f94bff"/><stop offset="0.4598" stop-color="#ff2dc8"/><stop offset="0.5057" stop-color="#ff19a2"/><stop offset="0.5517" stop-color="#ff0a86"/><stop offset="0.5958" stop-color="#ff0073"/><stop offset="0.5958" stop-color="#a20049"/><stop offset="0.5977" stop-color="#a20048"/><stop offset="0.6437" stop-color="#a2003e"/><stop offset="0.6897" stop-color="#a20036"/><stop offset="0.7356" stop-color="#a20030"/><stop offset="0.7816" stop-color="#a2002b"/><stop offset="0.8276" stop-color="#a20026"/><stop offset="0.8736" stop-color="#a20022"/><stop offset="0.9195" stop-color="#a2001f"/><stop offset="0.9655" stop-color="#a2001c"/><stop offset="1.0000" stop-color="#a2001a"/></linearGradient><linearGradient id="fb29" gradientUnits="userSpaceOnUse" x1="624" y1="0" x2="972" y2="0"><stop offset="0.0000" stop-color="#007ca2"/><stop offset="0.0460" stop-color="#0074a2"/><stop offset="0.0920" stop-color="#006ca2"/><stop offset="0.1379" stop-color="#0064a2"/><stop offset="0.1839" stop-color="#005ca2"/><stop offset="0.2299" stop-color="#0053a2"/><stop offset="0.2427" stop-color="#0050a2"/><stop offset="0.2427" stop-color="#007eff"/><stop offset="0.2759" stop-color="#2a74ff"/><stop offset="0.3218" stop-color="#6865ff"/><stop offset="0.3678" stop-color="#a955ff"/><stop offset="0.4138" stop-color="#ec44ff"/><stop offset="0.4598" stop-color="#ff2bd4"/><stop offset="0.5057" stop-color="#ff16ab"/><stop offset="0.5517" stop-color="#ff088e"/><stop offset="0.5869" stop-color="#ff007d"/><stop offset="0.5869" stop-color="#a2004f"/><stop offset="0.5977" stop-color="#a2004c"/><stop offset="0.6437" stop-color="#a20042"/><stop offset="0.6897" stop-color="#a2003a"/><stop offset="0.7356" stop-color="#a20033"/><stop offset="0.7816" stop-color="#a2002d"/><stop offset="0.8276" stop-color="#a20029"/><stop offset="0.8736" stop-color="#a20025"/><stop offset="0.9195" stop-color="#a20021"/><stop offset="0.9655" stop-color="#a2001e"/><stop offset="1.0000" stop-color="#a2001c"/></linearGradient><linearGradient id="fb30" gradientUnits="userSpaceOnUse" x1="624" y1="0" x2="972" y2="0"><stop offset="0.0000" stop-color="#0075a2"/><stop offset="0.0460" stop-color="#006ea2"/><stop offset="0.0920" stop-color="#0066a2"/><stop offset="0.1379" stop-color="#005ea2"/><stop offset="0.1839" stop-color="#0056a2"/><stop offset="0.2299" stop-color="#004da2"/><stop offset="0.2442" stop-color="#004ba2"/><stop offset="0.2442" stop-color="#0076ff"/><stop offset="0.2759" stop-color="#276cff"/><stop offset="0.3218" stop-color="#625dff"/><stop offset="0.3678" stop-color="#9f4eff"/><stop offset="0.4138" stop-color="#df3eff"/><stop offset="0.4598" stop-color="#ff28df"/><stop offset="0.5057" stop-color="#ff14b4"/><stop offset="0.5517" stop-color="#ff0696"/><stop offset="0.5780" stop-color="#ff0088"/><stop offset="0.5780" stop-color="#a20056"/><stop offset="0.5977" stop-color="#a20051"/><stop offset="0.6437" stop-color="#a20046"/><stop offset="0.6897" stop-color="#a2003d"/><stop offset="0.7356" stop-color="#a20036"/><stop offset="0.7816" stop-color="#a20030"/><stop offset="0.8276" stop-color="#a2002b"/><stop offset="0.8736" stop-color="#a20027"/><stop offset="0.9195" stop-color="#a20023"/><stop offset="0.9655" stop-color="#a20020"/><stop offset="1.0000" stop-color="#a2001e"/></linearGradient><linearGradient id="fb31" gradientUnits="userSpaceOnUse" x1="624" y1="0" x2="972" y2="0"><stop offset="0.0000" stop-color="#006fa2"/><stop offset="0.0460" stop-color="#0068a2"/><stop offset="0.0920" stop-color="#0061a2"/><stop offset="0.1379" stop-color="#0059a2"/><stop offset="0.1839" stop-color="#0051a2"/><stop offset="0.2299" stop-color="#0048a2"/><stop offset="0.2457" stop-color="#0045a2"/><stop offset="0.2457" stop-color="#006eff"/><stop offset="0.2759" stop-color="#2465ff"/><stop offset="0.3218" stop-color="#5c56ff"/><stop offset="0.3678" stop-color="#9748ff"/><stop offset="0.4138" stop-color="#d438ff"/><stop offset="0.4598" stop-color="#ff25eb"/><stop offset="0.5057" stop-color="#ff11bd"/><stop offset="0.5517" stop-color="#ff049d"/><stop offset="0.5691" stop-color="#ff0094"/><stop offset="0.5691" stop-color="#a2005e"/><stop offset="0.5977" stop-color="#a20055"/><stop offset="0.6437" stop-color="#a20049"/><stop offset="0.6897" stop-color="#a20040"/><stop offset="0.7356" stop-color="#a20039"/><stop offset="0.7816" stop-color="#a20033"/><stop offset="0.8276" stop-color="#a2002e"/><stop offset="0.8736" stop-color="#a20029"/><stop offset="0.9195" stop-color="#a20025"/><stop offset="0.9655" stop-color="#a20022"/><stop offset="1.0000" stop-color="#a20020"/></linearGradient><linearGradient id="fb32" gradientUnits="userSpaceOnUse" x1="624" y1="0" x2="972" y2="0"><stop offset="0.0000" stop-color="#006aa2"/><stop offset="0.0460" stop-color="#0063a2"/><stop offset="0.0920" stop-color="#005ba2"/><stop offset="0.1379" stop-color="#0054a2"/><stop offset="0.1839" stop-color="#004ca2"/><stop offset="0.2299" stop-color="#0044a2"/><stop offset="0.2471" stop-color="#0041a2"/><stop offset="0.2472" stop-color="#0066ff"/><stop offset="0.2759" stop-color="#205eff"/><stop offset="0.3218" stop-color="#5750ff"/><stop offset="0.3678" stop-color="#8f42ff"/><stop offset="0.4138" stop-color="#ca33ff"/><stop offset="0.4598" stop-color="#ff22f6"/><stop offset="0.5057" stop-color="#ff0fc7"/><stop offset="0.5517" stop-color="#ff02a5"/><stop offset="0.5602" stop-color="#ff00a0"/><stop offset="0.5602" stop-color="#a20066"/><stop offset="0.5977" stop-color="#a20059"/><stop offset="0.6437" stop-color="#a2004d"/><stop offset="0.6897" stop-color="#a20044"/><stop offset="0.7356" stop-color="#a2003c"/><stop offset="0.7816" stop-color="#a20035"/><stop offset="0.8276" stop-color="#a20030"/><stop offset="0.8736" stop-color="#a2002b"/><stop offset="0.9195" stop-color="#a20027"/><stop offset="0.9655" stop-color="#a20024"/><stop offset="1.0000" stop-color="#a20022"/></linearGradient><linearGradient id="fb33" gradientUnits="userSpaceOnUse" x1="624" y1="0" x2="972" y2="0"><stop offset="0.0000" stop-color="#0065a2"/><stop offset="0.0460" stop-color="#005ea2"/><stop offset="0.0920" stop-color="#0057a2"/><stop offset="0.1379" stop-color="#004fa2"/><stop offset="0.1839" stop-color="#0048a2"/><stop offset="0.2299" stop-color="#0040a2"/><stop offset="0.2486" stop-color="#003ca2"/><stop offset="0.2486" stop-color="#005fff"/><stop offset="0.2759" stop-color="#1e57ff"/><stop offset="0.3218" stop-color="#524aff"/><stop offset="0.3678" stop-color="#883cff"/><stop offset="0.4138" stop-color="#c02eff"/><stop offset="0.4598" stop-color="#fb1fff"/><stop offset="0.5057" stop-color="#ff0dd0"/><stop offset="0.5513" stop-color="#ff00ad"/><stop offset="0.5513" stop-color="#a2006e"/><stop offset="0.5517" stop-color="#a2006e"/><stop offset="0.5977" stop-color="#a2005d"/><stop offset="0.6437" stop-color="#a20051"/><stop offset="0.6897" stop-color="#a20047"/><stop offset="0.7356" stop-color="#a2003f"/><stop offset="0.7816" stop-color="#a20038"/><stop offset="0.8276" stop-color="#a20033"/><stop offset="0.8736" stop-color="#a2002e"/><stop offset="0.9195" stop-color="#a2002a"/><stop offset="0.9655" stop-color="#a20026"/><stop offset="1.0000" stop-color="#a20024"/></linearGradient><linearGradient id="fb34" gradientUnits="userSpaceOnUse" x1="624" y1="0" x2="972" y2="0"><stop offset="0.0000" stop-color="#0060a2"/><stop offset="0.0460" stop-color="#0059a2"/><stop offset="0.0920" stop-color="#0052a2"/><stop offset="0.1379" stop-color="#004ba2"/><stop offset="0.1839" stop-color="#0043a2"/><stop offset="0.2299" stop-color="#003ca2"/><stop offset="0.2501" stop-color="#0038a2"/><stop offset="0.2501" stop-color="#0059ff"/><stop offset="0.2759" stop-color="#1b52ff"/><stop offset="0.3218" stop-color="#4d45ff"/><stop offset="0.3678" stop-color="#8237ff"/><stop offset="0.4138" stop-color="#b829ff"/><stop offset="0.4598" stop-color="#ef1bff"/><stop offset="0.5057" stop-color="#ff0ada"/><stop offset="0.5424" stop-color="#ff00bc"/><stop offset="0.5424" stop-color="#a20077"/><stop offset="0.5517" stop-color="#a20073"/><stop offset="0.5977" stop-color="#a20062"/><stop offset="0.6437" stop-color="#a20055"/><stop offset="0.6897" stop-color="#a2004a"/><stop offset="0.7356" stop-color="#a20042"/><stop offset="0.7816" stop-color="#a2003b"/><stop offset="0.8276" stop-color="#a20035"/><stop offset="0.8736" stop-color="#a20030"/><stop offset="0.9195" stop-color="#a2002c"/><stop offset="0.9655" stop-color="#a20028"/><stop offset="1.0000" stop-color="#a20025"/></linearGradient><linearGradient id="fb35" gradientUnits="userSpaceOnUse" x1="624" y1="0" x2="972" y2="0"><stop offset="0.0000" stop-color="#005ba2"/><stop offset="0.0460" stop-color="#0055a2"/><stop offset="0.0920" stop-color="#004ea2"/><stop offset="0.1379" stop-color="#0047a2"/><stop offset="0.1839" stop-color="#0040a2"/><stop offset="0.2299" stop-color="#0038a2"/><stop offset="0.2516" stop-color="#0034a2"/><stop offset="0.2516" stop-color="#0053ff"/><stop offset="0.2759" stop-color="#194cff"/><stop offset="0.3218" stop-color="#4940ff"/><stop offset="0.3678" stop-color="#7b32ff"/><stop offset="0.4138" stop-color="#af25ff"/><stop offset="0.4598" stop-color="#e517ff"/><stop offset="0.5057" stop-color="#ff08e3"/><stop offset="0.5335" stop-color="#ff00cb"/><stop offset="0.5336" stop-color="#a20081"/><stop offset="0.5517" stop-color="#a20078"/><stop offset="0.5977" stop-color="#a20066"/><stop offset="0.6437" stop-color="#a20058"/><stop offset="0.6897" stop-color="#a2004e"/><stop offset="0.7356" stop-color="#a20045"/><stop offset="0.7816" stop-color="#a2003e"/><stop offset="0.8276" stop-color="#a20038"/><stop offset="0.8736" stop-color="#a20032"/><stop offset="0.9195" stop-color="#a2002e"/><stop offset="0.9655" stop-color="#a2002a"/><stop offset="1.0000" stop-color="#a20027"/></linearGradient><linearGradient id="fb36" gradientUnits="userSpaceOnUse" x1="624" y1="0" x2="972" y2="0"><stop offset="0.0000" stop-color="#0057a2"/><stop offset="0.0460" stop-color="#0051a2"/><stop offset="0.0920" stop-color="#004aa2"/><stop offset="0.1379" stop-color="#0043a2"/><stop offset="0.1839" stop-color="#003ca2"/><stop offset="0.2299" stop-color="#0035a2"/><stop offset="0.2530" stop-color="#0031a2"/><stop offset="0.2530" stop-color="#004dff"/><stop offset="0.2759" stop-color="#1647ff"/><stop offset="0.3218" stop-color="#453bff"/><stop offset="0.3678" stop-color="#762eff"/><stop offset="0.4138" stop-color="#a821ff"/><stop offset="0.4598" stop-color="#db13ff"/><stop offset="0.5057" stop-color="#ff05ed"/><stop offset="0.5247" stop-color="#ff00db"/><stop offset="0.5247" stop-color="#a2008b"/><stop offset="0.5517" stop-color="#a2007d"/><stop offset="0.5977" stop-color="#a2006a"/><stop offset="0.6437" stop-color="#a2005c"/><stop offset="0.6897" stop-color="#a20051"/><stop offset="0.7356" stop-color="#a20048"/><stop offset="0.7816" stop-color="#a20040"/><stop offset="0.8276" stop-color="#a2003a"/><stop offset="0.8736" stop-color="#a20035"/><stop offset="0.9195" stop-color="#a20030"/><stop offset="0.9655" stop-color="#a2002c"/><stop offset="1.0000" stop-color="#a20029"/></linearGradient><linearGradient id="fb37" gradientUnits="userSpaceOnUse" x1="624" y1="0" x2="972" y2="0"><stop offset="0.0000" stop-color="#0053a2"/><stop offset="0.0460" stop-color="#004da2"/><stop offset="0.0920" stop-color="#0046a2"/><stop offset="0.1379" stop-color="#003fa2"/><stop offset="0.1839" stop-color="#0038a2"/><stop offset="0.2299" stop-color="#0031a2"/><stop offset="0.2545" stop-color="#002da2"/><stop offset="0.2545" stop-color="#0048ff"/><stop offset="0.2759" stop-color="#1442ff"/><stop offset="0.3218" stop-color="#4236ff"/><stop offset="0.3678" stop-color="#702aff"/><stop offset="0.4138" stop-color="#a11dff"/><stop offset="0.4598" stop-color="#d210ff"/><stop offset="0.5057" stop-color="#ff02f7"/><stop offset="0.5158" stop-color="#ff00ed"/><stop offset="0.5158" stop-color="#a20096"/><stop offset="0.5517" stop-color="#a20082"/><stop offset="0.5977" stop-color="#a2006f"/><stop offset="0.6437" stop-color="#a20060"/><stop offset="0.6897" stop-color="#a20054"/><stop offset="0.7356" stop-color="#a2004b"/><stop offset="0.7816" stop-color="#a20043"/><stop offset="0.8276" stop-color="#a2003d"/><stop offset="0.8736" stop-color="#a20037"/><stop offset="0.9195" stop-color="#a20032"/><stop offset="0.9655" stop-color="#a2002e"/><stop offset="1.0000" stop-color="#a2002b"/></linearGradient><linearGradient id="fb38" gradientUnits="userSpaceOnUse" x1="624" y1="0" x2="972" y2="0"><stop offset="0.0000" stop-color="#004fa2"/><stop offset="0.0460" stop-color="#0049a2"/><stop offset="0.0920" stop-color="#0043a2"/><stop offset="0.1379" stop-color="#003ca2"/><stop offset="0.1839" stop-color="#0035a2"/><stop offset="0.2299" stop-color="#002ea2"/><stop offset="0.2560" stop-color="#002aa2"/><stop offset="0.2560" stop-color="#0043ff"/><stop offset="0.2759" stop-color="#123eff"/><stop offset="0.3218" stop-color="#3e32ff"/><stop offset="0.3678" stop-color="#6b26ff"/><stop offset="0.4138" stop-color="#9a1aff"/><stop offset="0.4598" stop-color="#ca0dff"/><stop offset="0.5057" stop-color="#fc00ff"/><stop offset="0.5069" stop-color="#fd00ff"/><stop offset="0.5069" stop-color="#a100a2"/><stop offset="0.5517" stop-color="#a20088"/><stop offset="0.5977" stop-color="#a20073"/><stop offset="0.6437" stop-color="#a20064"/><stop offset="0.6897" stop-color="#a20058"/><stop offset="0.7356" stop-color="#a2004e"/><stop offset="0.7816" stop-color="#a20046"/><stop offset="0.8276" stop-color="#a2003f"/><stop offset="0.8736" stop-color="#a20039"/><stop offset="0.9195" stop-color="#a20034"/><stop offset="0.9655" stop-color="#a20030"/><stop offset="1.0000" stop-color="#a2002d"/></linearGradient><linearGradient id="fb39" gradientUnits="userSpaceOnUse" x1="624" y1="0" x2="972" y2="0"><stop offset="0.0000" stop-color="#004ca2"/><stop offset="0.0460" stop-color="#0046a2"/><stop offset="0.0920" stop-color="#003fa2"/><stop offset="0.1379" stop-color="#0039a2"/><stop offset="0.1839" stop-color="#0032a2"/><stop offset="0.2299" stop-color="#002ba2"/><stop offset="0.2574" stop-color="#0027a2"/><stop offset="0.2574" stop-color="#003eff"/><stop offset="0.2759" stop-color="#103aff"/><stop offset="0.3218" stop-color="#3b2eff"/><stop offset="0.3678" stop-color="#6723ff"/><stop offset="0.4138" stop-color="#9417ff"/><stop offset="0.4598" stop-color="#c20aff"/><stop offset="0.4980" stop-color="#ea00ff"/><stop offset="0.4980" stop-color="#9400a2"/><stop offset="0.5057" stop-color="#9a00a2"/><stop offset="0.5517" stop-color="#a2008d"/><stop offset="0.5977" stop-color="#a20078"/><stop offset="0.6437" stop-color="#a20068"/><stop offset="0.6897" stop-color="#a2005b"/><stop offset="0.7356" stop-color="#a20051"/><stop offset="0.7816" stop-color="#a20049"/><stop offset="0.8276" stop-color="#a20042"/><stop offset="0.8736" stop-color="#a2003c"/><stop offset="0.9195" stop-color="#a20037"/><stop offset="0.9655" stop-color="#a20032"/><stop offset="1.0000" stop-color="#a2002f"/></linearGradient><linearGradient id="fb40" gradientUnits="userSpaceOnUse" x1="624" y1="0" x2="972" y2="0"><stop offset="0.0000" stop-color="#0048a2"/><stop offset="0.0460" stop-color="#0042a2"/><stop offset="0.0920" stop-color="#003ca2"/><stop offset="0.1379" stop-color="#0036a2"/><stop offset="0.1839" stop-color="#002fa2"/><stop offset="0.2299" stop-color="#0029a2"/><stop offset="0.2589" stop-color="#0024a2"/><stop offset="0.2589" stop-color="#003aff"/><stop offset="0.2759" stop-color="#0e36ff"/><stop offset="0.3218" stop-color="#382bff"/><stop offset="0.3678" stop-color="#621fff"/><stop offset="0.4138" stop-color="#8e13ff"/><stop offset="0.4598" stop-color="#bb07ff"/><stop offset="0.4891" stop-color="#d800ff"/><stop offset="0.4891" stop-color="#8900a2"/><stop offset="0.5057" stop-color="#9400a2"/><stop offset="0.5517" stop-color="#a20092"/><stop offset="0.5977" stop-color="#a2007c"/><stop offset="0.6437" stop-color="#a2006c"/><stop offset="0.6897" stop-color="#a2005f"/><stop offset="0.7356" stop-color="#a20054"/><stop offset="0.7816" stop-color="#a2004c"/><stop offset="0.8276" stop-color="#a20044"/><stop offset="0.8736" stop-color="#a2003e"/><stop offset="0.9195" stop-color="#a20039"/><stop offset="0.9655" stop-color="#a20034"/><stop offset="1.0000" stop-color="#a20031"/></linearGradient><linearGradient id="fb41" gradientUnits="userSpaceOnUse" x1="624" y1="0" x2="972" y2="0"><stop offset="0.0000" stop-color="#0045a2"/><stop offset="0.0460" stop-color="#003fa2"/><stop offset="0.0920" stop-color="#0039a2"/><stop offset="0.1379" stop-color="#0033a2"/><stop offset="0.1839" stop-color="#002da2"/><stop offset="0.2299" stop-color="#0026a2"/><stop offset="0.2604" stop-color="#0022a2"/><stop offset="0.2604" stop-color="#0036ff"/><stop offset="0.2759" stop-color="#0d32ff"/><stop offset="0.3218" stop-color="#3527ff"/><stop offset="0.3678" stop-color="#5e1cff"/><stop offset="0.4138" stop-color="#8811ff"/><stop offset="0.4598" stop-color="#b405ff"/><stop offset="0.4802" stop-color="#c800ff"/><stop offset="0.4802" stop-color="#7f00a2"/><stop offset="0.5057" stop-color="#8f00a2"/><stop offset="0.5517" stop-color="#a20098"/><stop offset="0.5977" stop-color="#a20081"/><stop offset="0.6437" stop-color="#a20070"/><stop offset="0.6897" stop-color="#a20062"/><stop offset="0.7356" stop-color="#a20057"/><stop offset="0.7816" stop-color="#a2004e"/><stop offset="0.8276" stop-color="#a20047"/><stop offset="0.8736" stop-color="#a20040"/><stop offset="0.9195" stop-color="#a2003b"/><stop offset="0.9655" stop-color="#a20036"/><stop offset="1.0000" stop-color="#a20033"/></linearGradient><linearGradient id="fb42" gradientUnits="userSpaceOnUse" x1="624" y1="0" x2="972" y2="0"><stop offset="0.0000" stop-color="#0042a2"/><stop offset="0.0460" stop-color="#003ca2"/><stop offset="0.0920" stop-color="#0037a2"/><stop offset="0.1379" stop-color="#0030a2"/><stop offset="0.1839" stop-color="#002aa2"/><stop offset="0.2299" stop-color="#0024a2"/><stop offset="0.2618" stop-color="#001fa2"/><stop offset="0.2618" stop-color="#0032ff"/><stop offset="0.2759" stop-color="#0b2eff"/><stop offset="0.3218" stop-color="#3224ff"/><stop offset="0.3678" stop-color="#5a19ff"/><stop offset="0.4138" stop-color="#830eff"/><stop offset="0.4598" stop-color="#ad02ff"/><stop offset="0.4713" stop-color="#b800ff"/><stop offset="0.4713" stop-color="#7500a2"/><stop offset="0.5057" stop-color="#8a00a2"/><stop offset="0.5517" stop-color="#a2009d"/><stop offset="0.5977" stop-color="#a20086"/><stop offset="0.6437" stop-color="#a20074"/><stop offset="0.6897" stop-color="#a20066"/><stop offset="0.7356" stop-color="#a2005b"/><stop offset="0.7816" stop-color="#a20051"/><stop offset="0.8276" stop-color="#a20049"/><stop offset="0.8736" stop-color="#a20043"/><stop offset="0.9195" stop-color="#a2003d"/><stop offset="0.9655" stop-color="#a20038"/><stop offset="1.0000" stop-color="#a20035"/></linearGradient><linearGradient id="fb43" gradientUnits="userSpaceOnUse" x1="624" y1="0" x2="972" y2="0"><stop offset="0.0000" stop-color="#003fa2"/><stop offset="0.0460" stop-color="#003aa2"/><stop offset="0.0920" stop-color="#0034a2"/><stop offset="0.1379" stop-color="#002ea2"/><stop offset="0.1839" stop-color="#0028a2"/><stop offset="0.2299" stop-color="#0022a2"/><stop offset="0.2633" stop-color="#001da2"/><stop offset="0.2633" stop-color="#002eff"/><stop offset="0.2759" stop-color="#0a2bff"/><stop offset="0.3218" stop-color="#3021ff"/><stop offset="0.3678" stop-color="#5616ff"/><stop offset="0.4138" stop-color="#7e0bff"/><stop offset="0.4598" stop-color="#a700ff"/><stop offset="0.4624" stop-color="#aa00ff"/><stop offset="0.4625" stop-color="#6c00a2"/><stop offset="0.5057" stop-color="#8500a2"/><stop offset="0.5517" stop-color="#a000a2"/><stop offset="0.5977" stop-color="#a2008a"/><stop offset="0.6437" stop-color="#a20078"/><stop offset="0.6897" stop-color="#a20069"/><stop offset="0.7356" stop-color="#a2005e"/><stop offset="0.7816" stop-color="#a20054"/><stop offset="0.8276" stop-color="#a2004c"/><stop offset="0.8736" stop-color="#a20045"/><stop offset="0.9195" stop-color="#a2003f"/><stop offset="0.9655" stop-color="#a2003a"/><stop offset="1.0000" stop-color="#a20037"/></linearGradient><linearGradient id="fb44" gradientUnits="userSpaceOnUse" x1="624" y1="0" x2="972" y2="0"><stop offset="0.0000" stop-color="#003ca2"/><stop offset="0.0460" stop-color="#0037a2"/><stop offset="0.0920" stop-color="#0031a2"/><stop offset="0.1379" stop-color="#002ca2"/><stop offset="0.1839" stop-color="#0026a2"/><stop offset="0.2299" stop-color="#001fa2"/><stop offset="0.2648" stop-color="#001ba2"/><stop offset="0.2648" stop-color="#002aff"/><stop offset="0.2759" stop-color="#0828ff"/><stop offset="0.3218" stop-color="#2d1eff"/><stop offset="0.3678" stop-color="#5314ff"/><stop offset="0.4138" stop-color="#7a09ff"/><stop offset="0.4536" stop-color="#9c00ff"/><stop offset="0.4536" stop-color="#6300a2"/><stop offset="0.4598" stop-color="#6600a2"/><stop offset="0.5057" stop-color="#8000a2"/><stop offset="0.5517" stop-color="#9b00a2"/><stop offset="0.5977" stop-color="#a2008f"/><stop offset="0.6437" stop-color="#a2007c"/><stop offset="0.6897" stop-color="#a2006d"/><stop offset="0.7356" stop-color="#a20061"/><stop offset="0.7816" stop-color="#a20057"/><stop offset="0.8276" stop-color="#a2004f"/><stop offset="0.8736" stop-color="#a20048"/><stop offset="0.9195" stop-color="#a20042"/><stop offset="0.9655" stop-color="#a2003c"/><stop offset="1.0000" stop-color="#a20039"/></linearGradient><linearGradient id="fb45" gradientUnits="userSpaceOnUse" x1="624" y1="0" x2="972" y2="0"><stop offset="0.0000" stop-color="#003aa2"/><stop offset="0.0460" stop-color="#0034a2"/><stop offset="0.0920" stop-color="#002fa2"/><stop offset="0.1379" stop-color="#0029a2"/><stop offset="0.1839" stop-color="#0023a2"/><stop offset="0.2299" stop-color="#001da2"/><stop offset="0.2662" stop-color="#0019a2"/><stop offset="0.2662" stop-color="#0027ff"/><stop offset="0.2759" stop-color="#0725ff"/><stop offset="0.3218" stop-color="#2b1bff"/><stop offset="0.3678" stop-color="#5011ff"/><stop offset="0.4138" stop-color="#7507ff"/><stop offset="0.4447" stop-color="#8f00ff"/><stop offset="0.4447" stop-color="#5b00a2"/><stop offset="0.4598" stop-color="#6300a2"/><stop offset="0.5057" stop-color="#7c00a2"/><stop offset="0.5517" stop-color="#9600a2"/><stop offset="0.5977" stop-color="#a20094"/><stop offset="0.6437" stop-color="#a20080"/><stop offset="0.6897" stop-color="#a20071"/><stop offset="0.7356" stop-color="#a20064"/><stop offset="0.7816" stop-color="#a2005a"/><stop offset="0.8276" stop-color="#a20051"/><stop offset="0.8736" stop-color="#a2004a"/><stop offset="0.9195" stop-color="#a20044"/><stop offset="0.9655" stop-color="#a2003e"/><stop offset="1.0000" stop-color="#a2003b"/></linearGradient><linearGradient id="fb46" gradientUnits="userSpaceOnUse" x1="624" y1="0" x2="972" y2="0"><stop offset="0.0000" stop-color="#0037a2"/><stop offset="0.0460" stop-color="#0032a2"/><stop offset="0.0920" stop-color="#002da2"/><stop offset="0.1379" stop-color="#0027a2"/><stop offset="0.1839" stop-color="#0021a2"/><stop offset="0.2299" stop-color="#001ba2"/><stop offset="0.2677" stop-color="#0017a2"/><stop offset="0.2677" stop-color="#0024ff"/><stop offset="0.2759" stop-color="#0622ff"/><stop offset="0.3218" stop-color="#2918ff"/><stop offset="0.3678" stop-color="#4c0fff"/><stop offset="0.4138" stop-color="#7104ff"/><stop offset="0.4358" stop-color="#8300ff"/><stop offset="0.4358" stop-color="#5300a2"/><stop offset="0.4598" stop-color="#6000a2"/><stop offset="0.5057" stop-color="#7800a2"/><stop offset="0.5517" stop-color="#9100a2"/><stop offset="0.5977" stop-color="#a20099"/><stop offset="0.6437" stop-color="#a20084"/><stop offset="0.6897" stop-color="#a20074"/><stop offset="0.7356" stop-color="#a20067"/><stop offset="0.7816" stop-color="#a2005d"/><stop offset="0.8276" stop-color="#a20054"/><stop offset="0.8736" stop-color="#a2004d"/><stop offset="0.9195" stop-color="#a20046"/><stop offset="0.9655" stop-color="#a20040"/><stop offset="1.0000" stop-color="#a2003d"/></linearGradient><linearGradient id="fb47" gradientUnits="userSpaceOnUse" x1="624" y1="0" x2="972" y2="0"><stop offset="0.0000" stop-color="#0035a2"/><stop offset="0.0460" stop-color="#0030a2"/><stop offset="0.0920" stop-color="#002aa2"/><stop offset="0.1379" stop-color="#0025a2"/><stop offset="0.1839" stop-color="#001fa2"/><stop offset="0.2299" stop-color="#001aa2"/><stop offset="0.2692" stop-color="#0015a2"/><stop offset="0.2692" stop-color="#0021ff"/><stop offset="0.2759" stop-color="#041fff"/><stop offset="0.3218" stop-color="#2616ff"/><stop offset="0.3678" stop-color="#490cff"/><stop offset="0.4138" stop-color="#6d02ff"/><stop offset="0.4269" stop-color="#7700ff"/><stop offset="0.4269" stop-color="#4c00a2"/><stop offset="0.4598" stop-color="#5c00a2"/><stop offset="0.5057" stop-color="#7400a2"/><stop offset="0.5517" stop-color="#8d00a2"/><stop offset="0.5977" stop-color="#a2009e"/><stop offset="0.6437" stop-color="#a20088"/><stop offset="0.6897" stop-color="#a20078"/><stop offset="0.7356" stop-color="#a2006b"/><stop offset="0.7816" stop-color="#a20060"/><stop offset="0.8276" stop-color="#a20057"/><stop offset="0.8736" stop-color="#a2004f"/><stop offset="0.9195" stop-color="#a20048"/><stop offset="0.9655" stop-color="#a20043"/><stop offset="1.0000" stop-color="#a2003f"/></linearGradient><linearGradient id="fb48" gradientUnits="userSpaceOnUse" x1="624" y1="0" x2="972" y2="0"><stop offset="0.0000" stop-color="#0033a2"/><stop offset="0.0460" stop-color="#002ea2"/><stop offset="0.0920" stop-color="#0028a2"/><stop offset="0.1379" stop-color="#0023a2"/><stop offset="0.1839" stop-color="#001da2"/><stop offset="0.2299" stop-color="#0018a2"/><stop offset="0.2706" stop-color="#0013a2"/><stop offset="0.2707" stop-color="#001eff"/><stop offset="0.2759" stop-color="#031dff"/><stop offset="0.3218" stop-color="#2414ff"/><stop offset="0.3678" stop-color="#470aff"/><stop offset="0.4138" stop-color="#6900ff"/><stop offset="0.4180" stop-color="#6d00ff"/><stop offset="0.4180" stop-color="#4500a2"/><stop offset="0.4598" stop-color="#5900a2"/><stop offset="0.5057" stop-color="#7100a2"/><stop offset="0.5517" stop-color="#8800a2"/><stop offset="0.5977" stop-color="#a100a2"/><stop offset="0.6437" stop-color="#a2008d"/><stop offset="0.6897" stop-color="#a2007c"/><stop offset="0.7356" stop-color="#a2006e"/><stop offset="0.7816" stop-color="#a20063"/><stop offset="0.8276" stop-color="#a20059"/><stop offset="0.8736" stop-color="#a20051"/><stop offset="0.9195" stop-color="#a2004b"/><stop offset="0.9655" stop-color="#a20045"/><stop offset="1.0000" stop-color="#a20041"/></linearGradient><linearGradient id="fb49" gradientUnits="userSpaceOnUse" x1="624" y1="0" x2="972" y2="0"><stop offset="0.0000" stop-color="#0030a2"/><stop offset="0.0460" stop-color="#002ca2"/><stop offset="0.0920" stop-color="#0026a2"/><stop offset="0.1379" stop-color="#0021a2"/><stop offset="0.1839" stop-color="#001ca2"/><stop offset="0.2299" stop-color="#0016a2"/><stop offset="0.2721" stop-color="#0011a2"/><stop offset="0.2721" stop-color="#001bff"/><stop offset="0.2759" stop-color="#021aff"/><stop offset="0.3218" stop-color="#2311ff"/><stop offset="0.3678" stop-color="#4408ff"/><stop offset="0.4091" stop-color="#6200ff"/><stop offset="0.4091" stop-color="#3e00a2"/><stop offset="0.4138" stop-color="#4000a2"/><stop offset="0.4598" stop-color="#5700a2"/><stop offset="0.5057" stop-color="#6d00a2"/><stop offset="0.5517" stop-color="#8400a2"/><stop offset="0.5977" stop-color="#9c00a2"/><stop offset="0.6437" stop-color="#a20091"/><stop offset="0.6897" stop-color="#a2007f"/><stop offset="0.7356" stop-color="#a20071"/><stop offset="0.7816" stop-color="#a20066"/><stop offset="0.8276" stop-color="#a2005c"/><stop offset="0.8736" stop-color="#a20054"/><stop offset="0.9195" stop-color="#a2004d"/><stop offset="0.9655" stop-color="#a20047"/><stop offset="1.0000" stop-color="#a20043"/></linearGradient><linearGradient id="fb50" gradientUnits="userSpaceOnUse" x1="624" y1="0" x2="972" y2="0"><stop offset="0.0000" stop-color="#002ea2"/><stop offset="0.0460" stop-color="#002aa2"/><stop offset="0.0920" stop-color="#0024a2"/><stop offset="0.1379" stop-color="#001fa2"/><stop offset="0.1839" stop-color="#001aa2"/><stop offset="0.2299" stop-color="#0015a2"/><stop offset="0.2736" stop-color="#000fa2"/><stop offset="0.2736" stop-color="#0018ff"/><stop offset="0.2759" stop-color="#0118ff"/><stop offset="0.3218" stop-color="#210fff"/><stop offset="0.3678" stop-color="#4106ff"/><stop offset="0.4002" stop-color="#5800ff"/><stop offset="0.4002" stop-color="#3800a2"/><stop offset="0.4138" stop-color="#3e00a2"/><stop offset="0.4598" stop-color="#5400a2"/><stop offset="0.5057" stop-color="#6a00a2"/><stop offset="0.5517" stop-color="#8000a2"/><stop offset="0.5977" stop-color="#9700a2"/><stop offset="0.6437" stop-color="#a20095"/><stop offset="0.6897" stop-color="#a20083"/><stop offset="0.7356" stop-color="#a20075"/><stop offset="0.7816" stop-color="#a20069"/><stop offset="0.8276" stop-color="#a2005f"/><stop offset="0.8736" stop-color="#a20056"/><stop offset="0.9195" stop-color="#a2004f"/><stop offset="0.9655" stop-color="#a20049"/><stop offset="1.0000" stop-color="#a20045"/></linearGradient><linearGradient id="fb51" gradientUnits="userSpaceOnUse" x1="624" y1="0" x2="972" y2="0"><stop offset="0.0000" stop-color="#002ca2"/><stop offset="0.0460" stop-color="#0028a2"/><stop offset="0.0920" stop-color="#0023a2"/><stop offset="0.1379" stop-color="#001ea2"/><stop offset="0.1839" stop-color="#0018a2"/><stop offset="0.2299" stop-color="#0013a2"/><stop offset="0.2751" stop-color="#000ea2"/><stop offset="0.2751" stop-color="#0016ff"/><stop offset="0.2759" stop-color="#0016ff"/><stop offset="0.3218" stop-color="#1f0dff"/><stop offset="0.3678" stop-color="#3f04ff"/><stop offset="0.3914" stop-color="#4f00ff"/><stop offset="0.3914" stop-color="#3200a2"/><stop offset="0.4138" stop-color="#3c00a2"/><stop offset="0.4598" stop-color="#5100a2"/><stop offset="0.5057" stop-color="#6700a2"/><stop offset="0.5517" stop-color="#7d00a2"/><stop offset="0.5977" stop-color="#9300a2"/><stop offset="0.6437" stop-color="#a20099"/><stop offset="0.6897" stop-color="#a20087"/><stop offset="0.7356" stop-color="#a20078"/><stop offset="0.7816" stop-color="#a2006c"/><stop offset="0.8276" stop-color="#a20061"/><stop offset="0.8736" stop-color="#a20059"/><stop offset="0.9195" stop-color="#a20051"/><stop offset="0.9655" stop-color="#a2004b"/><stop offset="1.0000" stop-color="#a20047"/></linearGradient><linearGradient id="fb52" gradientUnits="userSpaceOnUse" x1="624" y1="0" x2="972" y2="0"><stop offset="0.0000" stop-color="#002aa2"/><stop offset="0.0460" stop-color="#0026a2"/><stop offset="0.0920" stop-color="#0021a2"/><stop offset="0.1379" stop-color="#001ca2"/><stop offset="0.1839" stop-color="#0017a2"/><stop offset="0.2299" stop-color="#0012a2"/><stop offset="0.2759" stop-color="#000ca2"/><stop offset="0.2765" stop-color="#000ca2"/><stop offset="0.2765" stop-color="#0013ff"/><stop offset="0.3218" stop-color="#1d0bff"/><stop offset="0.3678" stop-color="#3c02ff"/><stop offset="0.3825" stop-color="#4600ff"/><stop offset="0.3825" stop-color="#2d00a2"/><stop offset="0.4138" stop-color="#3a00a2"/><stop offset="0.4598" stop-color="#4f00a2"/><stop offset="0.5057" stop-color="#6400a2"/><stop offset="0.5517" stop-color="#7900a2"/><stop offset="0.5977" stop-color="#8f00a2"/><stop offset="0.6437" stop-color="#a2009e"/><stop offset="0.6897" stop-color="#a2008b"/><stop offset="0.7356" stop-color="#a2007b"/><stop offset="0.7816" stop-color="#a2006f"/><stop offset="0.8276" stop-color="#a20064"/><stop offset="0.8736" stop-color="#a2005b"/><stop offset="0.9195" stop-color="#a20054"/><stop offset="0.9655" stop-color="#a2004d"/><stop offset="1.0000" stop-color="#a20049"/></linearGradient><linearGradient id="fb53" gradientUnits="userSpaceOnUse" x1="624" y1="0" x2="972" y2="0"><stop offset="0.0000" stop-color="#0029a2"/><stop offset="0.0460" stop-color="#0024a2"/><stop offset="0.0920" stop-color="#001fa2"/><stop offset="0.1379" stop-color="#001aa2"/><stop offset="0.1839" stop-color="#0015a2"/><stop offset="0.2299" stop-color="#0010a2"/><stop offset="0.2759" stop-color="#000ba2"/><stop offset="0.2780" stop-color="#000ba2"/><stop offset="0.2780" stop-color="#0011ff"/><stop offset="0.3218" stop-color="#1c09ff"/><stop offset="0.3678" stop-color="#3a01ff"/><stop offset="0.3736" stop-color="#3e00ff"/><stop offset="0.3736" stop-color="#2700a2"/><stop offset="0.4138" stop-color="#3800a2"/><stop offset="0.4598" stop-color="#4c00a2"/><stop offset="0.5057" stop-color="#6100a2"/><stop offset="0.5517" stop-color="#7600a2"/><stop offset="0.5977" stop-color="#8b00a2"/><stop offset="0.6437" stop-color="#a100a2"/><stop offset="0.6897" stop-color="#a2008e"/><stop offset="0.7356" stop-color="#a2007f"/><stop offset="0.7816" stop-color="#a20072"/><stop offset="0.8276" stop-color="#a20067"/><stop offset="0.8736" stop-color="#a2005e"/><stop offset="0.9195" stop-color="#a20056"/><stop offset="0.9655" stop-color="#a2004f"/><stop offset="1.0000" stop-color="#a2004b"/></linearGradient><linearGradient id="fb54" gradientUnits="userSpaceOnUse" x1="624" y1="0" x2="972" y2="0"><stop offset="0.0000" stop-color="#0027a2"/><stop offset="0.0460" stop-color="#0022a2"/><stop offset="0.0920" stop-color="#001ea2"/><stop offset="0.1379" stop-color="#0019a2"/><stop offset="0.1839" stop-color="#0014a2"/><stop offset="0.2299" stop-color="#000fa2"/><stop offset="0.2759" stop-color="#000aa2"/><stop offset="0.2795" stop-color="#0009a2"/><stop offset="0.2795" stop-color="#000fff"/><stop offset="0.3218" stop-color="#1a07ff"/><stop offset="0.3647" stop-color="#3600ff"/><stop offset="0.3647" stop-color="#2200a2"/><stop offset="0.3678" stop-color="#2300a2"/><stop offset="0.4138" stop-color="#3700a2"/><stop offset="0.4598" stop-color="#4a00a2"/><stop offset="0.5057" stop-color="#5e00a2"/><stop offset="0.5517" stop-color="#7300a2"/><stop offset="0.5977" stop-color="#8700a2"/><stop offset="0.6437" stop-color="#9d00a2"/><stop offset="0.6897" stop-color="#a20092"/><stop offset="0.7356" stop-color="#a20082"/><stop offset="0.7816" stop-color="#a20075"/><stop offset="0.8276" stop-color="#a2006a"/><stop offset="0.8736" stop-color="#a20060"/><stop offset="0.9195" stop-color="#a20058"/><stop offset="0.9655" stop-color="#a20052"/><stop offset="1.0000" stop-color="#a2004d"/></linearGradient><linearGradient id="fb55" gradientUnits="userSpaceOnUse" x1="624" y1="0" x2="972" y2="0"><stop offset="0.0000" stop-color="#0025a2"/><stop offset="0.0460" stop-color="#0021a2"/><stop offset="0.0920" stop-color="#001ca2"/><stop offset="0.1379" stop-color="#0017a2"/><stop offset="0.1839" stop-color="#0012a2"/><stop offset="0.2299" stop-color="#000ea2"/><stop offset="0.2759" stop-color="#0008a2"/><stop offset="0.2809" stop-color="#0008a2"/><stop offset="0.2809" stop-color="#000dff"/><stop offset="0.3218" stop-color="#1906ff"/><stop offset="0.3558" stop-color="#2e00ff"/><stop offset="0.3558" stop-color="#1d00a2"/><stop offset="0.3678" stop-color="#2200a2"/><stop offset="0.4138" stop-color="#3500a2"/><stop offset="0.4598" stop-color="#4800a2"/><stop offset="0.5057" stop-color="#5b00a2"/><stop offset="0.5517" stop-color="#6f00a2"/><stop offset="0.5977" stop-color="#8400a2"/><stop offset="0.6437" stop-color="#9900a2"/><stop offset="0.6897" stop-color="#a20096"/><stop offset="0.7356" stop-color="#a20085"/><stop offset="0.7816" stop-color="#a20078"/><stop offset="0.8276" stop-color="#a2006d"/><stop offset="0.8736" stop-color="#a20063"/><stop offset="0.9195" stop-color="#a2005b"/><stop offset="0.9655" stop-color="#a20054"/><stop offset="1.0000" stop-color="#a2004f"/></linearGradient><linearGradient id="fb56" gradientUnits="userSpaceOnUse" x1="624" y1="0" x2="972" y2="0"><stop offset="0.0000" stop-color="#0024a2"/><stop offset="0.0460" stop-color="#001fa2"/><stop offset="0.0920" stop-color="#001ba2"/><stop offset="0.1379" stop-color="#0016a2"/><stop offset="0.1839" stop-color="#0011a2"/><stop offset="0.2299" stop-color="#000ca2"/><stop offset="0.2759" stop-color="#0007a2"/><stop offset="0.2824" stop-color="#0007a2"/><stop offset="0.2824" stop-color="#000bff"/><stop offset="0.3218" stop-color="#1704ff"/><stop offset="0.3469" stop-color="#2700ff"/><stop offset="0.3469" stop-color="#1800a2"/><stop offset="0.3678" stop-color="#2100a2"/><stop offset="0.4138" stop-color="#3300a2"/><stop offset="0.4598" stop-color="#4600a2"/><stop offset="0.5057" stop-color="#5900a2"/><stop offset="0.5517" stop-color="#6c00a2"/><stop offset="0.5977" stop-color="#8000a2"/><stop offset="0.6437" stop-color="#9500a2"/><stop offset="0.6897" stop-color="#a2009a"/><stop offset="0.7356" stop-color="#a20089"/><stop offset="0.7816" stop-color="#a2007b"/><stop offset="0.8276" stop-color="#a2006f"/><stop offset="0.8736" stop-color="#a20066"/><stop offset="0.9195" stop-color="#a2005d"/><stop offset="0.9655" stop-color="#a20056"/><stop offset="1.0000" stop-color="#a20051"/></linearGradient><linearGradient id="fb57" gradientUnits="userSpaceOnUse" x1="624" y1="0" x2="972" y2="0"><stop offset="0.0000" stop-color="#0022a2"/><stop offset="0.0460" stop-color="#001ea2"/><stop offset="0.0920" stop-color="#0019a2"/><stop offset="0.1379" stop-color="#0015a2"/><stop offset="0.1839" stop-color="#0010a2"/><stop offset="0.2299" stop-color="#000ba2"/><stop offset="0.2759" stop-color="#0006a2"/><stop offset="0.2839" stop-color="#0005a2"/><stop offset="0.2839" stop-color="#0009ff"/><stop offset="0.3218" stop-color="#1602ff"/><stop offset="0.3380" stop-color="#2000ff"/><stop offset="0.3380" stop-color="#1400a2"/><stop offset="0.3678" stop-color="#2000a2"/><stop offset="0.4138" stop-color="#3200a2"/><stop offset="0.4598" stop-color="#4400a2"/><stop offset="0.5057" stop-color="#5700a2"/><stop offset="0.5517" stop-color="#6a00a2"/><stop offset="0.5977" stop-color="#7d00a2"/><stop offset="0.6437" stop-color="#9100a2"/><stop offset="0.6897" stop-color="#a2009e"/><stop offset="0.7356" stop-color="#a2008c"/><stop offset="0.7816" stop-color="#a2007e"/><stop offset="0.8276" stop-color="#a20072"/><stop offset="0.8736" stop-color="#a20068"/><stop offset="0.9195" stop-color="#a20060"/><stop offset="0.9655" stop-color="#a20058"/><stop offset="1.0000" stop-color="#a20053"/></linearGradient><linearGradient id="fb58" gradientUnits="userSpaceOnUse" x1="624" y1="0" x2="972" y2="0"><stop offset="0.0000" stop-color="#0020a2"/><stop offset="0.0460" stop-color="#001ca2"/><stop offset="0.0920" stop-color="#0018a2"/><stop offset="0.1379" stop-color="#0013a2"/><stop offset="0.1839" stop-color="#000fa2"/><stop offset="0.2299" stop-color="#000aa2"/><stop offset="0.2759" stop-color="#0005a2"/><stop offset="0.2853" stop-color="#0004a2"/><stop offset="0.2853" stop-color="#0007ff"/><stop offset="0.3218" stop-color="#1501ff"/><stop offset="0.3291" stop-color="#1900ff"/><stop offset="0.3292" stop-color="#1000a2"/><stop offset="0.3678" stop-color="#1e00a2"/><stop offset="0.4138" stop-color="#3000a2"/><stop offset="0.4598" stop-color="#4200a2"/><stop offset="0.5057" stop-color="#5400a2"/><stop offset="0.5517" stop-color="#6700a2"/><stop offset="0.5977" stop-color="#7a00a2"/><stop offset="0.6437" stop-color="#8d00a2"/><stop offset="0.6897" stop-color="#a100a2"/><stop offset="0.7356" stop-color="#a20090"/><stop offset="0.7816" stop-color="#a20081"/><stop offset="0.8276" stop-color="#a20075"/><stop offset="0.8736" stop-color="#a2006b"/><stop offset="0.9195" stop-color="#a20062"/><stop offset="0.9655" stop-color="#a2005a"/><stop offset="1.0000" stop-color="#a20055"/></linearGradient><linearGradient id="fb59" gradientUnits="userSpaceOnUse" x1="624" y1="0" x2="972" y2="0"><stop offset="0.0000" stop-color="#001fa2"/><stop offset="0.0460" stop-color="#001ba2"/><stop offset="0.0920" stop-color="#0016a2"/><stop offset="0.1379" stop-color="#0012a2"/><stop offset="0.1839" stop-color="#000da2"/><stop offset="0.2299" stop-color="#0009a2"/><stop offset="0.2759" stop-color="#0004a2"/><stop offset="0.2868" stop-color="#0003a2"/><stop offset="0.2868" stop-color="#0005ff"/><stop offset="0.3203" stop-color="#1300ff"/><stop offset="0.3203" stop-color="#0c00a2"/><stop offset="0.3218" stop-color="#0c00a2"/><stop offset="0.3678" stop-color="#1d00a2"/><stop offset="0.4138" stop-color="#2f00a2"/><stop offset="0.4598" stop-color="#4000a2"/><stop offset="0.5057" stop-color="#5200a2"/><stop offset="0.5517" stop-color="#6400a2"/><stop offset="0.5977" stop-color="#7700a2"/><stop offset="0.6437" stop-color="#8a00a2"/><stop offset="0.6897" stop-color="#9d00a2"/><stop offset="0.7356" stop-color="#a20093"/><stop offset="0.7816" stop-color="#a20084"/><stop offset="0.8276" stop-color="#a20078"/><stop offset="0.8736" stop-color="#a2006d"/><stop offset="0.9195" stop-color="#a20064"/><stop offset="0.9655" stop-color="#a2005c"/><stop offset="1.0000" stop-color="#a20057"/></linearGradient><linearGradient id="fb60" gradientUnits="userSpaceOnUse" x1="624" y1="0" x2="972" y2="0"><stop offset="0.0000" stop-color="#001ea2"/><stop offset="0.0460" stop-color="#0019a2"/><stop offset="0.0920" stop-color="#0015a2"/><stop offset="0.1379" stop-color="#0011a2"/><stop offset="0.1839" stop-color="#000ca2"/><stop offset="0.2299" stop-color="#0008a2"/><stop offset="0.2759" stop-color="#0003a2"/><stop offset="0.2883" stop-color="#0002a2"/><stop offset="0.2883" stop-color="#0003ff"/><stop offset="0.3114" stop-color="#0c00ff"/><stop offset="0.3114" stop-color="#0800a2"/><stop offset="0.3218" stop-color="#0b00a2"/><stop offset="0.3678" stop-color="#1c00a2"/><stop offset="0.4138" stop-color="#2d00a2"/><stop offset="0.4598" stop-color="#3e00a2"/><stop offset="0.5057" stop-color="#5000a2"/><stop offset="0.5517" stop-color="#6200a2"/><stop offset="0.5977" stop-color="#7400a2"/><stop offset="0.6437" stop-color="#8700a2"/><stop offset="0.6897" stop-color="#9a00a2"/><stop offset="0.7356" stop-color="#a20097"/><stop offset="0.7816" stop-color="#a20087"/><stop offset="0.8276" stop-color="#a2007b"/><stop offset="0.8736" stop-color="#a20070"/><stop offset="0.9195" stop-color="#a20067"/><stop offset="0.9655" stop-color="#a2005f"/><stop offset="1.0000" stop-color="#a20059"/></linearGradient><linearGradient id="fb61" gradientUnits="userSpaceOnUse" x1="624" y1="0" x2="972" y2="0"><stop offset="0.0000" stop-color="#001ca2"/><stop offset="0.0460" stop-color="#0018a2"/><stop offset="0.0920" stop-color="#0014a2"/><stop offset="0.1379" stop-color="#0010a2"/><stop offset="0.1839" stop-color="#000ba2"/><stop offset="0.2299" stop-color="#0007a2"/><stop offset="0.2759" stop-color="#0002a2"/><stop offset="0.2897" stop-color="#0001a2"/><stop offset="0.2897" stop-color="#0002ff"/><stop offset="0.3025" stop-color="#0600ff"/><stop offset="0.3025" stop-color="#0400a2"/><stop offset="0.3218" stop-color="#0b00a2"/><stop offset="0.3678" stop-color="#1b00a2"/><stop offset="0.4138" stop-color="#2c00a2"/><stop offset="0.4598" stop-color="#3d00a2"/><stop offset="0.5057" stop-color="#4e00a2"/><stop offset="0.5517" stop-color="#5f00a2"/><stop offset="0.5977" stop-color="#7100a2"/><stop offset="0.6437" stop-color="#8300a2"/><stop offset="0.6897" stop-color="#9600a2"/><stop offset="0.7356" stop-color="#a2009a"/><stop offset="0.7816" stop-color="#a2008b"/><stop offset="0.8276" stop-color="#a2007e"/><stop offset="0.8736" stop-color="#a20073"/><stop offset="0.9195" stop-color="#a20069"/><stop offset="0.9655" stop-color="#a20061"/><stop offset="1.0000" stop-color="#a2005c"/></linearGradient><linearGradient id="fb62" gradientUnits="userSpaceOnUse" x1="624" y1="0" x2="972" y2="0"><stop offset="0.0000" stop-color="#001ba2"/><stop offset="0.0460" stop-color="#0017a2"/><stop offset="0.0920" stop-color="#0013a2"/><stop offset="0.1379" stop-color="#000ea2"/><stop offset="0.1839" stop-color="#000aa2"/><stop offset="0.2299" stop-color="#0006a2"/><stop offset="0.2759" stop-color="#0001a2"/><stop offset="0.2912" stop-color="#0000a2"/><stop offset="0.2912" stop-color="#0000ff"/><stop offset="0.2936" stop-color="#0100ff"/><stop offset="0.2936" stop-color="#0000a2"/><stop offset="0.3218" stop-color="#0a00a2"/><stop offset="0.3678" stop-color="#1a00a2"/><stop offset="0.4138" stop-color="#2a00a2"/><stop offset="0.4598" stop-color="#3b00a2"/><stop offset="0.5057" stop-color="#4c00a2"/><stop offset="0.5517" stop-color="#5d00a2"/><stop offset="0.5977" stop-color="#6f00a2"/><stop offset="0.6437" stop-color="#8000a2"/><stop offset="0.6897" stop-color="#9300a2"/><stop offset="0.7356" stop-color="#a2009e"/><stop offset="0.7816" stop-color="#a2008e"/><stop offset="0.8276" stop-color="#a20080"/><stop offset="0.8736" stop-color="#a20075"/><stop offset="0.9195" stop-color="#a2006c"/><stop offset="0.9655" stop-color="#a20063"/><stop offset="1.0000" stop-color="#a2005e"/></linearGradient><linearGradient id="fb63" gradientUnits="userSpaceOnUse" x1="624" y1="0" x2="972" y2="0"><stop offset="0.0000" stop-color="#001aa2"/><stop offset="0.0460" stop-color="#0016a2"/><stop offset="0.0920" stop-color="#0012a2"/><stop offset="0.1379" stop-color="#000da2"/><stop offset="0.1839" stop-color="#0009a2"/><stop offset="0.2299" stop-color="#0005a2"/><stop offset="0.2759" stop-color="#0000a2"/><stop offset="0.3218" stop-color="#0900a2"/><stop offset="0.3678" stop-color="#1900a2"/><stop offset="0.4138" stop-color="#2900a2"/><stop offset="0.4598" stop-color="#3900a2"/><stop offset="0.5057" stop-color="#4a00a2"/><stop offset="0.5517" stop-color="#5b00a2"/><stop offset="0.5977" stop-color="#6c00a2"/><stop offset="0.6437" stop-color="#7d00a2"/><stop offset="0.6897" stop-color="#8f00a2"/><stop offset="0.7356" stop-color="#a100a2"/><stop offset="0.7816" stop-color="#a20091"/><stop offset="0.8276" stop-color="#a20083"/><stop offset="0.8736" stop-color="#a20078"/><stop offset="0.9195" stop-color="#a2006e"/><stop offset="0.9655" stop-color="#a20065"/><stop offset="1.0000" stop-color="#a20060"/></linearGradient><linearGradient id="fb64" gradientUnits="userSpaceOnUse" x1="624" y1="0" x2="972" y2="0"><stop offset="0.0000" stop-color="#0018a2"/><stop offset="0.0460" stop-color="#0014a2"/><stop offset="0.0920" stop-color="#0010a2"/><stop offset="0.1379" stop-color="#000ca2"/><stop offset="0.1839" stop-color="#0008a2"/><stop offset="0.2299" stop-color="#0004a2"/><stop offset="0.2759" stop-color="#0000a2"/><stop offset="0.3218" stop-color="#0900a2"/><stop offset="0.3678" stop-color="#1800a2"/><stop offset="0.4138" stop-color="#2800a2"/><stop offset="0.4598" stop-color="#3800a2"/><stop offset="0.5057" stop-color="#4800a2"/><stop offset="0.5517" stop-color="#5900a2"/><stop offset="0.5977" stop-color="#6a00a2"/><stop offset="0.6437" stop-color="#7b00a2"/><stop offset="0.6897" stop-color="#8c00a2"/><stop offset="0.7356" stop-color="#9e00a2"/><stop offset="0.7816" stop-color="#a20094"/><stop offset="0.8276" stop-color="#a20086"/><stop offset="0.8736" stop-color="#a2007a"/><stop offset="0.9195" stop-color="#a20070"/><stop offset="0.9655" stop-color="#a20068"/><stop offset="1.0000" stop-color="#a20062"/></linearGradient><linearGradient id="fb65" gradientUnits="userSpaceOnUse" x1="624" y1="0" x2="972" y2="0"><stop offset="0.0000" stop-color="#0017a2"/><stop offset="0.0460" stop-color="#0013a2"/><stop offset="0.0920" stop-color="#000fa2"/><stop offset="0.1379" stop-color="#000ba2"/><stop offset="0.1839" stop-color="#0007a2"/><stop offset="0.2299" stop-color="#0003a2"/><stop offset="0.2759" stop-color="#0000a2"/><stop offset="0.3218" stop-color="#0800a2"/><stop offset="0.3678" stop-color="#1700a2"/><stop offset="0.4138" stop-color="#2700a2"/><stop offset="0.4598" stop-color="#3600a2"/><stop offset="0.5057" stop-color="#4600a2"/><stop offset="0.5517" stop-color="#5700a2"/><stop offset="0.5977" stop-color="#6700a2"/><stop offset="0.6437" stop-color="#7800a2"/><stop offset="0.6897" stop-color="#8900a2"/><stop offset="0.7356" stop-color="#9a00a2"/><stop offset="0.7816" stop-color="#a20098"/><stop offset="0.8276" stop-color="#a20089"/><stop offset="0.8736" stop-color="#a2007d"/><stop offset="0.9195" stop-color="#a20073"/><stop offset="0.9655" stop-color="#a2006a"/><stop offset="1.0000" stop-color="#a20064"/></linearGradient><linearGradient id="fb66" gradientUnits="userSpaceOnUse" x1="624" y1="0" x2="972" y2="0"><stop offset="0.0000" stop-color="#0016a2"/><stop offset="0.0460" stop-color="#0012a2"/><stop offset="0.0920" stop-color="#000ea2"/><stop offset="0.1379" stop-color="#000aa2"/><stop offset="0.1839" stop-color="#0006a2"/><stop offset="0.2299" stop-color="#0002a2"/><stop offset="0.2759" stop-color="#0000a2"/><stop offset="0.3218" stop-color="#0700a2"/><stop offset="0.3678" stop-color="#1600a2"/><stop offset="0.4138" stop-color="#2600a2"/><stop offset="0.4598" stop-color="#3500a2"/><stop offset="0.5057" stop-color="#4500a2"/><stop offset="0.5517" stop-color="#5500a2"/><stop offset="0.5977" stop-color="#6500a2"/><stop offset="0.6437" stop-color="#7500a2"/><stop offset="0.6897" stop-color="#8600a2"/><stop offset="0.7356" stop-color="#9700a2"/><stop offset="0.7816" stop-color="#a2009b"/><stop offset="0.8276" stop-color="#a2008c"/><stop offset="0.8736" stop-color="#a20080"/><stop offset="0.9195" stop-color="#a20075"/><stop offset="0.9655" stop-color="#a2006c"/><stop offset="1.0000" stop-color="#a20066"/></linearGradient><linearGradient id="fb67" gradientUnits="userSpaceOnUse" x1="624" y1="0" x2="972" y2="0"><stop offset="0.0000" stop-color="#0015a2"/><stop offset="0.0460" stop-color="#0011a2"/><stop offset="0.0920" stop-color="#000da2"/><stop offset="0.1379" stop-color="#0009a2"/><stop offset="0.1839" stop-color="#0005a2"/><stop offset="0.2299" stop-color="#0001a2"/><stop offset="0.2759" stop-color="#0000a2"/><stop offset="0.3218" stop-color="#0700a2"/><stop offset="0.3678" stop-color="#1600a2"/><stop offset="0.4138" stop-color="#2400a2"/><stop offset="0.4598" stop-color="#3400a2"/><stop offset="0.5057" stop-color="#4300a2"/><stop offset="0.5517" stop-color="#5300a2"/><stop offset="0.5977" stop-color="#6300a2"/><stop offset="0.6437" stop-color="#7300a2"/><stop offset="0.6897" stop-color="#8300a2"/><stop offset="0.7356" stop-color="#9400a2"/><stop offset="0.7816" stop-color="#a2009e"/><stop offset="0.8276" stop-color="#a2008f"/><stop offset="0.8736" stop-color="#a20083"/><stop offset="0.9195" stop-color="#a20078"/><stop offset="0.9655" stop-color="#a2006f"/><stop offset="1.0000" stop-color="#a20068"/></linearGradient><linearGradient id="fb68" gradientUnits="userSpaceOnUse" x1="624" y1="0" x2="972" y2="0"><stop offset="0.0000" stop-color="#0014a2"/><stop offset="0.0460" stop-color="#0010a2"/><stop offset="0.0920" stop-color="#000ca2"/><stop offset="0.1379" stop-color="#0008a2"/><stop offset="0.1839" stop-color="#0004a2"/><stop offset="0.2299" stop-color="#0000a2"/><stop offset="0.2759" stop-color="#0000a2"/><stop offset="0.3218" stop-color="#0600a2"/><stop offset="0.3678" stop-color="#1500a2"/><stop offset="0.4138" stop-color="#2300a2"/><stop offset="0.4598" stop-color="#3200a2"/><stop offset="0.5057" stop-color="#4100a2"/><stop offset="0.5517" stop-color="#5100a2"/><stop offset="0.5977" stop-color="#6000a2"/><stop offset="0.6437" stop-color="#7000a2"/><stop offset="0.6897" stop-color="#8000a2"/><stop offset="0.7356" stop-color="#9100a2"/><stop offset="0.7816" stop-color="#a200a1"/><stop offset="0.8276" stop-color="#a20092"/><stop offset="0.8736" stop-color="#a20085"/><stop offset="0.9195" stop-color="#a2007a"/><stop offset="0.9655" stop-color="#a20071"/><stop offset="1.0000" stop-color="#a2006b"/></linearGradient><linearGradient id="fb69" gradientUnits="userSpaceOnUse" x1="624" y1="0" x2="972" y2="0"><stop offset="0.0000" stop-color="#0013a2"/><stop offset="0.0460" stop-color="#000fa2"/><stop offset="0.0920" stop-color="#000ba2"/><stop offset="0.1379" stop-color="#0007a2"/><stop offset="0.1839" stop-color="#0004a2"/><stop offset="0.2299" stop-color="#0000a2"/><stop offset="0.2759" stop-color="#0000a2"/><stop offset="0.3218" stop-color="#0600a2"/><stop offset="0.3678" stop-color="#1400a2"/><stop offset="0.4138" stop-color="#2200a2"/><stop offset="0.4598" stop-color="#3100a2"/><stop offset="0.5057" stop-color="#4000a2"/><stop offset="0.5517" stop-color="#4f00a2"/><stop offset="0.5977" stop-color="#5e00a2"/><stop offset="0.6437" stop-color="#6e00a2"/><stop offset="0.6897" stop-color="#7e00a2"/><stop offset="0.7356" stop-color="#8e00a2"/><stop offset="0.7816" stop-color="#9e00a2"/><stop offset="0.8276" stop-color="#a20095"/><stop offset="0.8736" stop-color="#a20088"/><stop offset="0.9195" stop-color="#a2007d"/><stop offset="0.9655" stop-color="#a20073"/><stop offset="1.0000" stop-color="#a2006d"/></linearGradient><linearGradient id="fb70" gradientUnits="userSpaceOnUse" x1="624" y1="0" x2="972" y2="0"><stop offset="0.0000" stop-color="#0012a2"/><stop offset="0.0460" stop-color="#000ea2"/><stop offset="0.0920" stop-color="#000aa2"/><stop offset="0.1379" stop-color="#0007a2"/><stop offset="0.1839" stop-color="#0003a2"/><stop offset="0.2299" stop-color="#0000a2"/><stop offset="0.2759" stop-color="#0000a2"/><stop offset="0.3218" stop-color="#0500a2"/><stop offset="0.3678" stop-color="#1300a2"/><stop offset="0.4138" stop-color="#2100a2"/><stop offset="0.4598" stop-color="#3000a2"/><stop offset="0.5057" stop-color="#3e00a2"/><stop offset="0.5517" stop-color="#4d00a2"/><stop offset="0.5977" stop-color="#5c00a2"/><stop offset="0.6437" stop-color="#6c00a2"/><stop offset="0.6897" stop-color="#7b00a2"/><stop offset="0.7356" stop-color="#8b00a2"/><stop offset="0.7816" stop-color="#9b00a2"/><stop offset="0.8276" stop-color="#a20098"/><stop offset="0.8736" stop-color="#a2008b"/><stop offset="0.9195" stop-color="#a2007f"/><stop offset="0.9655" stop-color="#a20075"/><stop offset="1.0000" stop-color="#a2006f"/></linearGradient><linearGradient id="fb71" gradientUnits="userSpaceOnUse" x1="624" y1="0" x2="972" y2="0"><stop offset="0.0000" stop-color="#0011a2"/><stop offset="0.0460" stop-color="#000da2"/><stop offset="0.0920" stop-color="#000aa2"/><stop offset="0.1379" stop-color="#0006a2"/><stop offset="0.1839" stop-color="#0002a2"/><stop offset="0.2299" stop-color="#0000a2"/><stop offset="0.2759" stop-color="#0000a2"/><stop offset="0.3218" stop-color="#0500a2"/><stop offset="0.3678" stop-color="#1200a2"/><stop offset="0.4138" stop-color="#2000a2"/><stop offset="0.4598" stop-color="#2f00a2"/><stop offset="0.5057" stop-color="#3d00a2"/><stop offset="0.5517" stop-color="#4c00a2"/><stop offset="0.5977" stop-color="#5a00a2"/><stop offset="0.6437" stop-color="#6900a2"/><stop offset="0.6897" stop-color="#7900a2"/><stop offset="0.7356" stop-color="#8800a2"/><stop offset="0.7816" stop-color="#9800a2"/><stop offset="0.8276" stop-color="#a2009b"/><stop offset="0.8736" stop-color="#a2008d"/><stop offset="0.9195" stop-color="#a20082"/><stop offset="0.9655" stop-color="#a20078"/><stop offset="1.0000" stop-color="#a20071"/></linearGradient><linearGradient id="fb72" gradientUnits="userSpaceOnUse" x1="624" y1="0" x2="972" y2="0"><stop offset="0.0000" stop-color="#0010a2"/><stop offset="0.0460" stop-color="#000ca2"/><stop offset="0.0920" stop-color="#0009a2"/><stop offset="0.1379" stop-color="#0005a2"/><stop offset="0.1839" stop-color="#0001a2"/><stop offset="0.2299" stop-color="#0000a2"/><stop offset="0.2759" stop-color="#0000a2"/><stop offset="0.3218" stop-color="#0400a2"/><stop offset="0.3678" stop-color="#1200a2"/><stop offset="0.4138" stop-color="#1f00a2"/><stop offset="0.4598" stop-color="#2d00a2"/><stop offset="0.5057" stop-color="#3c00a2"/><stop offset="0.5517" stop-color="#4a00a2"/><stop offset="0.5977" stop-color="#5800a2"/><stop offset="0.6437" stop-color="#6700a2"/><stop offset="0.6897" stop-color="#7600a2"/><stop offset="0.7356" stop-color="#8600a2"/><stop offset="0.7816" stop-color="#9500a2"/><stop offset="0.8276" stop-color="#a2009e"/><stop offset="0.8736" stop-color="#a20090"/><stop offset="0.9195" stop-color="#a20084"/><stop offset="0.9655" stop-color="#a2007a"/><stop offset="1.0000" stop-color="#a20073"/></linearGradient><linearGradient id="fb73" gradientUnits="userSpaceOnUse" x1="624" y1="0" x2="972" y2="0"><stop offset="0.0000" stop-color="#000fa2"/><stop offset="0.0460" stop-color="#000ba2"/><stop offset="0.0920" stop-color="#0008a2"/><stop offset="0.1379" stop-color="#0004a2"/><stop offset="0.1839" stop-color="#0000a2"/><stop offset="0.2299" stop-color="#0000a2"/><stop offset="0.2759" stop-color="#0000a2"/><stop offset="0.3218" stop-color="#0400a2"/><stop offset="0.3678" stop-color="#1100a2"/><stop offset="0.4138" stop-color="#1f00a2"/><stop offset="0.4598" stop-color="#2c00a2"/><stop offset="0.5057" stop-color="#3a00a2"/><stop offset="0.5517" stop-color="#4800a2"/><stop offset="0.5977" stop-color="#5700a2"/><stop offset="0.6437" stop-color="#6500a2"/><stop offset="0.6897" stop-color="#7400a2"/><stop offset="0.7356" stop-color="#8300a2"/><stop offset="0.7816" stop-color="#9200a2"/><stop offset="0.8276" stop-color="#a200a1"/><stop offset="0.8736" stop-color="#a20093"/><stop offset="0.9195" stop-color="#a20087"/><stop offset="0.9655" stop-color="#a2007c"/><stop offset="1.0000" stop-color="#a20076"/></linearGradient><linearGradient id="fb74" gradientUnits="userSpaceOnUse" x1="624" y1="0" x2="972" y2="0"><stop offset="0.0000" stop-color="#000ea2"/><stop offset="0.0460" stop-color="#000ba2"/><stop offset="0.0920" stop-color="#0007a2"/><stop offset="0.1379" stop-color="#0003a2"/><stop offset="0.1839" stop-color="#0000a2"/><stop offset="0.2299" stop-color="#0000a2"/><stop offset="0.2759" stop-color="#0000a2"/><stop offset="0.3218" stop-color="#0300a2"/><stop offset="0.3678" stop-color="#1000a2"/><stop offset="0.4138" stop-color="#1e00a2"/><stop offset="0.4598" stop-color="#2b00a2"/><stop offset="0.5057" stop-color="#3900a2"/><stop offset="0.5517" stop-color="#4700a2"/><stop offset="0.5977" stop-color="#5500a2"/><stop offset="0.6437" stop-color="#6300a2"/><stop offset="0.6897" stop-color="#7200a2"/><stop offset="0.7356" stop-color="#8000a2"/><stop offset="0.7816" stop-color="#8f00a2"/><stop offset="0.8276" stop-color="#9f00a2"/><stop offset="0.8736" stop-color="#a20096"/><stop offset="0.9195" stop-color="#a20089"/><stop offset="0.9655" stop-color="#a2007f"/><stop offset="1.0000" stop-color="#a20078"/></linearGradient><linearGradient id="fb75" gradientUnits="userSpaceOnUse" x1="624" y1="0" x2="972" y2="0"><stop offset="0.0000" stop-color="#000da2"/><stop offset="0.0460" stop-color="#000aa2"/><stop offset="0.0920" stop-color="#0006a2"/><stop offset="0.1379" stop-color="#0003a2"/><stop offset="0.1839" stop-color="#0000a2"/><stop offset="0.2299" stop-color="#0000a2"/><stop offset="0.2759" stop-color="#0000a2"/><stop offset="0.3218" stop-color="#0300a2"/><stop offset="0.3678" stop-color="#1000a2"/><stop offset="0.4138" stop-color="#1d00a2"/><stop offset="0.4598" stop-color="#2a00a2"/><stop offset="0.5057" stop-color="#3800a2"/><stop offset="0.5517" stop-color="#4500a2"/><stop offset="0.5977" stop-color="#5300a2"/><stop offset="0.6437" stop-color="#6100a2"/><stop offset="0.6897" stop-color="#7000a2"/><stop offset="0.7356" stop-color="#7e00a2"/><stop offset="0.7816" stop-color="#8d00a2"/><stop offset="0.8276" stop-color="#9c00a2"/><stop offset="0.8736" stop-color="#a20099"/><stop offset="0.9195" stop-color="#a2008c"/><stop offset="0.9655" stop-color="#a20081"/><stop offset="1.0000" stop-color="#a2007a"/></linearGradient><linearGradient id="fb76" gradientUnits="userSpaceOnUse" x1="624" y1="0" x2="972" y2="0"><stop offset="0.0000" stop-color="#000ca2"/><stop offset="0.0460" stop-color="#0009a2"/><stop offset="0.0920" stop-color="#0005a2"/><stop offset="0.1379" stop-color="#0002a2"/><stop offset="0.1839" stop-color="#0000a2"/><stop offset="0.2299" stop-color="#0000a2"/><stop offset="0.2759" stop-color="#0000a2"/><stop offset="0.3218" stop-color="#0200a2"/><stop offset="0.3678" stop-color="#0f00a2"/><stop offset="0.4138" stop-color="#1c00a2"/><stop offset="0.4598" stop-color="#2900a2"/><stop offset="0.5057" stop-color="#3600a2"/><stop offset="0.5517" stop-color="#4400a2"/><stop offset="0.5977" stop-color="#5100a2"/><stop offset="0.6437" stop-color="#5f00a2"/><stop offset="0.6897" stop-color="#6d00a2"/><stop offset="0.7356" stop-color="#7c00a2"/><stop offset="0.7816" stop-color="#8a00a2"/><stop offset="0.8276" stop-color="#9900a2"/><stop offset="0.8736" stop-color="#a2009c"/><stop offset="0.9195" stop-color="#a2008f"/><stop offset="0.9655" stop-color="#a20084"/><stop offset="1.0000" stop-color="#a2007c"/></linearGradient><linearGradient id="fb77" gradientUnits="userSpaceOnUse" x1="624" y1="0" x2="972" y2="0"><stop offset="0.0000" stop-color="#000ba2"/><stop offset="0.0460" stop-color="#0008a2"/><stop offset="0.0920" stop-color="#0005a2"/><stop offset="0.1379" stop-color="#0001a2"/><stop offset="0.1839" stop-color="#0000a2"/><stop offset="0.2299" stop-color="#0000a2"/><stop offset="0.2759" stop-color="#0000a2"/><stop offset="0.3218" stop-color="#0200a2"/><stop offset="0.3678" stop-color="#0e00a2"/><stop offset="0.4138" stop-color="#1b00a2"/><stop offset="0.4598" stop-color="#2800a2"/><stop offset="0.5057" stop-color="#3500a2"/><stop offset="0.5517" stop-color="#4200a2"/><stop offset="0.5977" stop-color="#5000a2"/><stop offset="0.6437" stop-color="#5e00a2"/><stop offset="0.6897" stop-color="#6b00a2"/><stop offset="0.7356" stop-color="#7900a2"/><stop offset="0.7816" stop-color="#8800a2"/><stop offset="0.8276" stop-color="#9600a2"/><stop offset="0.8736" stop-color="#a2009e"/><stop offset="0.9195" stop-color="#a20091"/><stop offset="0.9655" stop-color="#a20086"/><stop offset="1.0000" stop-color="#a2007f"/></linearGradient><linearGradient id="fb78" gradientUnits="userSpaceOnUse" x1="624" y1="0" x2="972" y2="0"><stop offset="0.0000" stop-color="#000ba2"/><stop offset="0.0460" stop-color="#0007a2"/><stop offset="0.0920" stop-color="#0004a2"/><stop offset="0.1379" stop-color="#0001a2"/><stop offset="0.1839" stop-color="#0000a2"/><stop offset="0.2299" stop-color="#0000a2"/><stop offset="0.2759" stop-color="#0000a2"/><stop offset="0.3218" stop-color="#0100a2"/><stop offset="0.3678" stop-color="#0e00a2"/><stop offset="0.4138" stop-color="#1a00a2"/><stop offset="0.4598" stop-color="#2700a2"/><stop offset="0.5057" stop-color="#3400a2"/><stop offset="0.5517" stop-color="#4100a2"/><stop offset="0.5977" stop-color="#4e00a2"/><stop offset="0.6437" stop-color="#5c00a2"/><stop offset="0.6897" stop-color="#6900a2"/><stop offset="0.7356" stop-color="#7700a2"/><stop offset="0.7816" stop-color="#8500a2"/><stop offset="0.8276" stop-color="#9300a2"/><stop offset="0.8736" stop-color="#a200a1"/><stop offset="0.9195" stop-color="#a20094"/><stop offset="0.9655" stop-color="#a20088"/><stop offset="1.0000" stop-color="#a20081"/></linearGradient><linearGradient id="fb79" gradientUnits="userSpaceOnUse" x1="624" y1="0" x2="972" y2="0"><stop offset="0.0000" stop-color="#000aa2"/><stop offset="0.0460" stop-color="#0007a2"/><stop offset="0.0920" stop-color="#0003a2"/><stop offset="0.1379" stop-color="#0000a2"/><stop offset="0.1839" stop-color="#0000a2"/><stop offset="0.2299" stop-color="#0000a2"/><stop offset="0.2759" stop-color="#0000a2"/><stop offset="0.3218" stop-color="#0100a2"/><stop offset="0.3678" stop-color="#0d00a2"/><stop offset="0.4138" stop-color="#1a00a2"/><stop offset="0.4598" stop-color="#2600a2"/><stop offset="0.5057" stop-color="#3300a2"/><stop offset="0.5517" stop-color="#4000a2"/><stop offset="0.5977" stop-color="#4d00a2"/><stop offset="0.6437" stop-color="#5a00a2"/><stop offset="0.6897" stop-color="#6700a2"/><stop offset="0.7356" stop-color="#7500a2"/><stop offset="0.7816" stop-color="#8300a2"/><stop offset="0.8276" stop-color="#9100a2"/><stop offset="0.8736" stop-color="#9f00a2"/><stop offset="0.9195" stop-color="#a20096"/><stop offset="0.9655" stop-color="#a2008b"/><stop offset="1.0000" stop-color="#a20083"/></linearGradient><linearGradient id="fb80" gradientUnits="userSpaceOnUse" x1="624" y1="0" x2="972" y2="0"><stop offset="0.0000" stop-color="#0009a2"/><stop offset="0.0460" stop-color="#0006a2"/><stop offset="0.0920" stop-color="#0003a2"/><stop offset="0.1379" stop-color="#0000a2"/><stop offset="0.1839" stop-color="#0000a2"/><stop offset="0.2299" stop-color="#0000a2"/><stop offset="0.2759" stop-color="#0000a2"/><stop offset="0.3218" stop-color="#0100a2"/><stop offset="0.3678" stop-color="#0d00a2"/><stop offset="0.4138" stop-color="#1900a2"/><stop offset="0.4598" stop-color="#2500a2"/><stop offset="0.5057" stop-color="#3200a2"/><stop offset="0.5517" stop-color="#3e00a2"/><stop offset="0.5977" stop-color="#4b00a2"/><stop offset="0.6437" stop-color="#5800a2"/><stop offset="0.6897" stop-color="#6600a2"/><stop offset="0.7356" stop-color="#7300a2"/><stop offset="0.7816" stop-color="#8000a2"/><stop offset="0.8276" stop-color="#8e00a2"/><stop offset="0.8736" stop-color="#9c00a2"/><stop offset="0.9195" stop-color="#a20099"/><stop offset="0.9655" stop-color="#a2008d"/><stop offset="1.0000" stop-color="#a20085"/></linearGradient><linearGradient id="fb81" gradientUnits="userSpaceOnUse" x1="624" y1="0" x2="972" y2="0"><stop offset="0.0000" stop-color="#0008a2"/><stop offset="0.0460" stop-color="#0005a2"/><stop offset="0.0920" stop-color="#0002a2"/><stop offset="0.1379" stop-color="#0000a2"/><stop offset="0.1839" stop-color="#0000a2"/><stop offset="0.2299" stop-color="#0000a2"/><stop offset="0.2759" stop-color="#0000a2"/><stop offset="0.3218" stop-color="#0000a2"/><stop offset="0.3678" stop-color="#0c00a2"/><stop offset="0.4138" stop-color="#1800a2"/><stop offset="0.4598" stop-color="#2400a2"/><stop offset="0.5057" stop-color="#3100a2"/><stop offset="0.5517" stop-color="#3d00a2"/><stop offset="0.5977" stop-color="#4a00a2"/><stop offset="0.6437" stop-color="#5700a2"/><stop offset="0.6897" stop-color="#6400a2"/><stop offset="0.7356" stop-color="#7100a2"/><stop offset="0.7816" stop-color="#7e00a2"/><stop offset="0.8276" stop-color="#8c00a2"/><stop offset="0.8736" stop-color="#9a00a2"/><stop offset="0.9195" stop-color="#a2009c"/><stop offset="0.9655" stop-color="#a20090"/><stop offset="1.0000" stop-color="#a20088"/></linearGradient><linearGradient id="fb82" gradientUnits="userSpaceOnUse" x1="624" y1="0" x2="972" y2="0"><stop offset="0.0000" stop-color="#0008a2"/><stop offset="0.0460" stop-color="#0004a2"/><stop offset="0.0920" stop-color="#0001a2"/><stop offset="0.1379" stop-color="#0000a2"/><stop offset="0.1839" stop-color="#0000a2"/><stop offset="0.2299" stop-color="#0000a2"/><stop offset="0.2759" stop-color="#0000a2"/><stop offset="0.3218" stop-color="#0000a2"/><stop offset="0.3678" stop-color="#0c00a2"/><stop offset="0.4138" stop-color="#1700a2"/><stop offset="0.4598" stop-color="#2300a2"/><stop offset="0.5057" stop-color="#3000a2"/><stop offset="0.5517" stop-color="#3c00a2"/><stop offset="0.5977" stop-color="#4800a2"/><stop offset="0.6437" stop-color="#5500a2"/><stop offset="0.6897" stop-color="#6200a2"/><stop offset="0.7356" stop-color="#6f00a2"/><stop offset="0.7816" stop-color="#7c00a2"/><stop offset="0.8276" stop-color="#8900a2"/><stop offset="0.8736" stop-color="#9700a2"/><stop offset="0.9195" stop-color="#a2009e"/><stop offset="0.9655" stop-color="#a20092"/><stop offset="1.0000" stop-color="#a2008a"/></linearGradient><linearGradient id="fb83" gradientUnits="userSpaceOnUse" x1="624" y1="0" x2="972" y2="0"><stop offset="0.0000" stop-color="#0007a2"/><stop offset="0.0460" stop-color="#0004a2"/><stop offset="0.0920" stop-color="#0001a2"/><stop offset="0.1379" stop-color="#0000a2"/><stop offset="0.1839" stop-color="#0000a2"/><stop offset="0.2299" stop-color="#0000a2"/><stop offset="0.2759" stop-color="#0000a2"/><stop offset="0.3218" stop-color="#0000a2"/><stop offset="0.3678" stop-color="#0b00a2"/><stop offset="0.4138" stop-color="#1700a2"/><stop offset="0.4598" stop-color="#2300a2"/><stop offset="0.5057" stop-color="#2f00a2"/><stop offset="0.5517" stop-color="#3b00a2"/><stop offset="0.5977" stop-color="#4700a2"/><stop offset="0.6437" stop-color="#5400a2"/><stop offset="0.6897" stop-color="#6000a2"/><stop offset="0.7356" stop-color="#6d00a2"/><stop offset="0.7816" stop-color="#7a00a2"/><stop offset="0.8276" stop-color="#8700a2"/><stop offset="0.8736" stop-color="#9400a2"/><stop offset="0.9195" stop-color="#a200a1"/><stop offset="0.9655" stop-color="#a20095"/><stop offset="1.0000" stop-color="#a2008c"/></linearGradient><linearGradient id="fb84" gradientUnits="userSpaceOnUse" x1="624" y1="0" x2="972" y2="0"><stop offset="0.0000" stop-color="#0006a2"/><stop offset="0.0460" stop-color="#0003a2"/><stop offset="0.0920" stop-color="#0000a2"/><stop offset="0.1379" stop-color="#0000a2"/><stop offset="0.1839" stop-color="#0000a2"/><stop offset="0.2299" stop-color="#0000a2"/><stop offset="0.2759" stop-color="#0000a2"/><stop offset="0.3218" stop-color="#0000a2"/><stop offset="0.3678" stop-color="#0a00a2"/><stop offset="0.4138" stop-color="#1600a2"/><stop offset="0.4598" stop-color="#2200a2"/><stop offset="0.5057" stop-color="#2e00a2"/><stop offset="0.5517" stop-color="#3a00a2"/><stop offset="0.5977" stop-color="#4600a2"/><stop offset="0.6437" stop-color="#5200a2"/><stop offset="0.6897" stop-color="#5e00a2"/><stop offset="0.7356" stop-color="#6b00a2"/><stop offset="0.7816" stop-color="#7800a2"/><stop offset="0.8276" stop-color="#8500a2"/><stop offset="0.8736" stop-color="#9200a2"/><stop offset="0.9195" stop-color="#9f00a2"/><stop offset="0.9655" stop-color="#a20097"/><stop offset="1.0000" stop-color="#a2008f"/></linearGradient><linearGradient id="fb85" gradientUnits="userSpaceOnUse" x1="624" y1="0" x2="972" y2="0"><stop offset="0.0000" stop-color="#0006a2"/><stop offset="0.0460" stop-color="#0003a2"/><stop offset="0.0920" stop-color="#0000a2"/><stop offset="0.1379" stop-color="#0000a2"/><stop offset="0.1839" stop-color="#0000a2"/><stop offset="0.2299" stop-color="#0000a2"/><stop offset="0.2759" stop-color="#0000a2"/><stop offset="0.3218" stop-color="#0000a2"/><stop offset="0.3678" stop-color="#0a00a2"/><stop offset="0.4138" stop-color="#1600a2"/><stop offset="0.4598" stop-color="#2200a2"/><stop offset="0.5057" stop-color="#2d00a2"/><stop offset="0.5517" stop-color="#3900a2"/><stop offset="0.5977" stop-color="#4500a2"/><stop offset="0.6437" stop-color="#5200a2"/><stop offset="0.6897" stop-color="#5e00a2"/><stop offset="0.7356" stop-color="#6b00a2"/><stop offset="0.7816" stop-color="#7700a2"/><stop offset="0.8276" stop-color="#8400a2"/><stop offset="0.8736" stop-color="#9100a2"/><stop offset="0.9195" stop-color="#9e00a2"/><stop offset="0.9655" stop-color="#a20098"/><stop offset="1.0000" stop-color="#a2008f"/></linearGradient></defs><g clip-path="url(#fbclip)"><rect x="624" y="96" width="348" height="4" fill="url(#fb0)"/><rect x="624" y="100" width="348" height="4" fill="url(#fb1)"/><rect x="624" y="104" width="348" height="4" fill="url(#fb2)"/><rect x="624" y="108" width="348" height="4" fill="url(#fb3)"/><rect x="624" y="112" width="348" height="4" fill="url(#fb4)"/><rect x="624" y="116" width="348" height="4" fill="url(#fb5)"/><rect x="624" y="120" width="348" height="4" fill="url(#fb6)"/><rect x="624" y="124" width="348" height="4" fill="url(#fb7)"/><rect x="624" y="128" width="348" height="4" fill="url(#fb8)"/><rect x="624" y="132" width="348" height="4" fill="url(#fb9)"/><rect x="624" y="136" width="348" height="4" fill="url(#fb10)"/><rect x="624" y="140" width="348" height="4" fill="url(#fb11)"/><rect x="624" y="144" width="348" height="4" fill="url(#fb12)"/><rect x="624" y="148" width="348" height="4" fill="url(#fb13)"/><rect x="624" y="152" width="348" height="4" fill="url(#fb14)"/><rect x="624" y="156" width="348" height="4" fill="url(#fb15)"/><rect x="624" y="160" width="348" height="4" fill="url(#fb16)"/><rect x="624" y="164" width="348" height="4" fill="url(#fb17)"/><rect x="624" y="168" width="348" height="4" fill="url(#fb18)"/><rect x="624" y="172" width="348" height="4" fill="url(#fb19)"/><rect x="624" y="176" width="348" height="4" fill="url(#fb20)"/><rect x="624" y="180" width="348" height="4" fill="url(#fb21)"/><rect x="624" y="184" width="348" height="4" fill="url(#fb22)"/><rect x="624" y="188" width="348" height="4" fill="url(#fb23)"/><rect x="624" y="192" width="348" height="4" fill="url(#fb24)"/><rect x="624" y="196" width="348" height="4" fill="url(#fb25)"/><rect x="624" y="200" width="348" height="4" fill="url(#fb26)"/><rect x="624" y="204" width="348" height="4" fill="url(#fb27)"/><rect x="624" y="208" width="348" height="4" fill="url(#fb28)"/><rect x="624" y="212" width="348" height="4" fill="url(#fb29)"/><rect x="624" y="216" width="348" height="4" fill="url(#fb30)"/><rect x="624" y="220" width="348" height="4" fill="url(#fb31)"/><rect x="624" y="224" width="348" height="4" fill="url(#fb32)"/><rect x="624" y="228" width="348" height="4" fill="url(#fb33)"/><rect x="624" y="232" width="348" height="4" fill="url(#fb34)"/><rect x="624" y="236" width="348" height="4" fill="url(#fb35)"/><rect x="624" y="240" width="348" height="4" fill="url(#fb36)"/><rect x="624" y="244" width="348" height="4" fill="url(#fb37)"/><rect x="624" y="248" width="348" height="4" fill="url(#fb38)"/><rect x="624" y="252" width="348" height="4" fill="url(#fb39)"/><rect x="624" y="256" width="348" height="4" fill="url(#fb40)"/><rect x="624" y="260" width="348" height="4" fill="url(#fb41)"/><rect x="624" y="264" width="348" height="4" fill="url(#fb42)"/><rect x="624" y="268" width="348" height="4" fill="url(#fb43)"/><rect x="624" y="272" width="348" height="4" fill="url(#fb44)"/><rect x="624" y="276" width="348" height="4" fill="url(#fb45)"/><rect x="624" y="280" width="348" height="4" fill="url(#fb46)"/><rect x="624" y="284" width="348" height="4" fill="url(#fb47)"/><rect x="624" y="288" width="348" height="4" fill="url(#fb48)"/><rect x="624" y="292" width="348" height="4" fill="url(#fb49)"/><rect x="624" y="296" width="348" height="4" fill="url(#fb50)"/><rect x="624" y="300" width="348" height="4" fill="url(#fb51)"/><rect x="624" y="304" width="348" height="4" fill="url(#fb52)"/><rect x="624" y="308" width="348" height="4" fill="url(#fb53)"/><rect x="624" y="312" width="348" height="4" fill="url(#fb54)"/><rect x="624" y="316" width="348" height="4" fill="url(#fb55)"/><rect x="624" y="320" width="348" height="4" fill="url(#fb56)"/><rect x="624" y="324" width="348" height="4" fill="url(#fb57)"/><rect x="624" y="328" width="348" height="4" fill="url(#fb58)"/><rect x="624" y="332" width="348" height="4" fill="url(#fb59)"/><rect x="624" y="336" width="348" height="4" fill="url(#fb60)"/><rect x="624" y="340" width="348" height="4" fill="url(#fb61)"/><rect x="624" y="344" width="348" height="4" fill="url(#fb62)"/><rect x="624" y="348" width="348" height="4" fill="url(#fb63)"/><rect x="624" y="352" width="348" height="4" fill="url(#fb64)"/><rect x="624" y="356" width="348" height="4" fill="url(#fb65)"/><rect x="624" y="360" width="348" height="4" fill="url(#fb66)"/><rect x="624" y="364" width="348" height="4" fill="url(#fb67)"/><rect x="624" y="368" width="348" height="4" fill="url(#fb68)"/><rect x="624" y="372" width="348" height="4" fill="url(#fb69)"/><rect x="624" y="376" width="348" height="4" fill="url(#fb70)"/><rect x="624" y="380" width="348" height="4" fill="url(#fb71)"/><rect x="624" y="384" width="348" height="4" fill="url(#fb72)"/><rect x="624" y="388" width="348" height="4" fill="url(#fb73)"/><rect x="624" y="392" width="348" height="4" fill="url(#fb74)"/><rect x="624" y="396" width="348" height="4" fill="url(#fb75)"/><rect x="624" y="400" width="348" height="4" fill="url(#fb76)"/><rect x="624" y="404" width="348" height="4" fill="url(#fb77)"/><rect x="624" y="408" width="348" height="4" fill="url(#fb78)"/><rect x="624" y="412" width="348" height="4" fill="url(#fb79)"/><rect x="624" y="416" width="348" height="4" fill="url(#fb80)"/><rect x="624" y="420" width="348" height="4" fill="url(#fb81)"/><rect x="624" y="424" width="348" height="4" fill="url(#fb82)"/><rect x="624" y="428" width="348" height="4" fill="url(#fb83)"/><rect x="624" y="432" width="348" height="4" fill="url(#fb84)"/><rect x="624" y="436" width="348" height="1" fill="url(#fb85)"/></g></svg>
<canvas id="cie" width="994" height="768"></canvas>
<svg width="994" height="768" viewBox="0 0 994 768">
<defs>
<linearGradient id="h0_10" x1="0" y1="0" x2="1" y2="0"><stop offset="0" stop-color="#ca1b1b"/><stop offset="0.65" stop-color="#ab0d0d"/><stop offset="1" stop-color="#5f0707"/></linearGradient>
<linearGradient id="v0_10" x1="0" y1="0" x2="1" y2="0"><stop offset="0" stop-color="#5f0707"/><stop offset="0.3" stop-color="#d31b1b"/><stop offset="0.65" stop-color="#b40e0e"/><stop offset="1" stop-color="#5f0707"/></linearGradient>
<linearGradient id="h0_8" x1="0" y1="0" x2="1" y2="0"><stop offset="0" stop-color="#c24a4a"/><stop offset="0.65" stop-color="#a33737"/><stop offset="1" stop-color="#5b1f1f"/></linearGradient>
<linearGradient id="v0_8" x1="0" y1="0" x2="1" y2="0"><stop offset="0" stop-color="#5b1f1f"/><stop offset="0.3" stop-color="#cb4d4d"/><stop offset="0.65" stop-color="#ac3a3a"/><stop offset="1" stop-color="#5b1f1f"/></linearGradient>
<linearGradient id="h0_6" x1="0" y1="0" x2="1" y2="0"><stop offset="0" stop-color="#c06666"/><stop offset="0.65" stop-color="#a25151"/><stop offset="1" stop-color="#5a2d2d"/></linearGradient>
<linearGradient id="v0_6" x1="0" y1="0" x2="1" y2="0"><stop offset="0" stop-color="#5a2d2d"/><stop offset="0.3" stop-color="#c96a6a"/><stop offset="0.65" stop-color="#ab5555"/><stop offset="1" stop-color="#5a2d2d"/></linearGradient>
<linearGradient id="h0_4" x1="0" y1="0" x2="1" y2="0"><stop offset="0" stop-color="#bc7c7c"/><stop offset="0.65" stop-color="#9e6464"/><stop offset="1" stop-color="#583838"/></linearGradient>
<linearGradient id="v0_4" x1="0" y1="0" x2="1" y2="0"><stop offset="0" stop-color="#583838"/><stop offset="0.3" stop-color="#c48181"/><stop offset="0.65" stop-color="#a76a6a"/><stop offset="1" stop-color="#583838"/></linearGradient>
<linearGradient id="h0_2" x1="0" y1="0" x2="1" y2="0"><stop offset="0" stop-color="#b69393"/><stop offset="0.65" stop-color="#997979"/><stop offset="1" stop-color="#554343"/></linearGradient>
<linearGradient id="v0_2" x1="0" y1="0" x2="1" y2="0"><stop offset="0" stop-color="#554343"/><stop offset="0.3" stop-color="#be9999"/><stop offset="0.65" stop-color="#a18080"/><stop offset="1" stop-color="#554343"/></linearGradient>
<linearGradient id="h1_10" x1="0" y1="0" x2="1" y2="0"><stop offset="0" stop-color="#1bca1b"/><stop offset="0.65" stop-color="#0dab0d"/><stop offset="1" stop-color="#075f07"/></linearGradient>
<linearGradient id="v1_10" x1="0" y1="0" x2="1" y2="0"><stop offset="0" stop-color="#075f07"/><stop offset="0.3" stop-color="#1bd31b"/><stop offset="0.65" stop-color="#0eb40e"/><stop offset="1" stop-color="#075f07"/></linearGradient>
<linearGradient id="h1_8" x1="0" y1="0" x2="1" y2="0"><stop offset="0" stop-color="#4ac24a"/><stop offset="0.65" stop-color="#37a337"/><stop offset="1" stop-color="#1f5b1f"/></linearGradient>
<linearGradient id="v1_8" x1="0" y1="0" x2="1" y2="0"><stop offset="0" stop-color="#1f5b1f"/><stop offset="0.3" stop-color="#4dcb4d"/><stop offset="0.65" stop-color="#3aac3a"/><stop offset="1" stop-color="#1f5b1f"/></linearGradient>
<linearGradient id="h1_6" x1="0" y1="0" x2="1" y2="0"><stop offset="0" stop-color="#66c066"/><stop offset="0.65" stop-color="#51a251"/><stop offset="1" stop-color="#2d5a2d"/></linearGradient>
<linearGradient id="v1_6" x1="0" y1="0" x2="1" y2="0"><stop offset="0" stop-color="#2d5a2d"/><stop offset="0.3" stop-color="#6ac96a"/><stop offset="0.65" stop-color="#55ab55"/><stop offset="1" stop-color="#2d5a2d"/></linearGradient>
<linearGradient id="h1_4" x1="0" y1="0" x2="1" y2="0"><stop offset="0" stop-color="#7cbc7c"/><stop offset="0.65" stop-color="#649e64"/><stop offset="1" stop-color="#385838"/></linearGradient>
<linearGradient id="v1_4" x1="0" y1="0" x2="1" y2="0"><stop offset="0" stop-color="#385838"/><stop offset="0.3" stop-color="#81c481"/><stop offset="0.65" stop-color="#6aa76a"/><stop offset="1" stop-color="#385838"/></linearGradient>
<linearGradient id="h1_2" x1="0" y1="0" x2="1" y2="0"><stop offset="0" stop-color="#93b693"/><stop offset="0.65" stop-color="#799979"/><stop offset="1" stop-color="#435543"/></linearGradient>
<linearGradient id="v1_2" x1="0" y1="0" x2="1" y2="0"><stop offset="0" stop-color="#435543"/><stop offset="0.3" stop-color="#99be99"/><stop offset="0.65" stop-color="#80a180"/><stop offset="1" stop-color="#435543"/></linearGradient>
<linearGradient id="h2_10" x1="0" y1="0" x2="1" y2="0"><stop offset="0" stop-color="#1b1bca"/><stop offset="0.65" stop-color="#0d0dab"/><stop offset="1" stop-color="#07075f"/></linearGradient>
<linearGradient id="v2_10" x1="0" y1="0" x2="1" y2="0"><stop offset="0" stop-color="#07075f"/><stop offset="0.3" stop-color="#1b1bd3"/><stop offset="0.65" stop-color="#0e0eb4"/><stop offset="1" stop-color="#07075f"/></linearGradient>
<linearGradient id="h2_8" x1="0" y1="0" x2="1" y2="0"><stop offset="0" stop-color="#4a4ac2"/><stop offset="0.65" stop-color="#3737a3"/><stop offset="1" stop-color="#1f1f5b"/></linearGradient>
<linearGradient id="v2_8" x1="0" y1="0" x2="1" y2="0"><stop offset="0" stop-color="#1f1f5b"/><stop offset="0.3" stop-color="#4d4dcb"/><stop offset="0.65" stop-color="#3a3aac"/><stop offset="1" stop-color="#1f1f5b"/></linearGradient>
<linearGradient id="h2_6" x1="0" y1="0" x2="1" y2="0"><stop offset="0" stop-color="#6666c0"/><stop offset="0.65" stop-color="#5151a2"/><stop offset="1" stop-color="#2d2d5a"/></linearGradient>
<linearGradient id="v2_6" x1="0" y1="0" x2="1" y2="0"><stop offset="0" stop-color="#2d2d5a"/><stop offset="0.3" stop-color="#6a6ac9"/><stop offset="0.65" stop-color="#5555ab"/><stop offset="1" stop-color="#2d2d5a"/></linearGradient>
<linearGradient id="h2_4" x1="0" y1="0" x2="1" y2="0"><stop offset="0" stop-color="#7c7cbc"/><stop offset="0.65" stop-color="#64649e"/><stop offset="1" stop-color="#383858"/></linearGradient>
<linearGradient id="v2_4" x1="0" y1="0" x2="1" y2="0"><stop offset="0" stop-color="#383858"/><stop offset="0.3" stop-color="#8181c4"/><stop offset="0.65" stop-color="#6a6aa7"/><stop offset="1" stop-color="#383858"/></linearGradient>
<linearGradient id="h2_2" x1="0" y1="0" x2="1" y2="0"><stop offset="0" stop-color="#9393b6"/><stop offset="0.65" stop-color="#797999"/><stop offset="1" stop-color="#434355"/></linearGradient>
<linearGradient id="v2_2" x1="0" y1="0" x2="1" y2="0"><stop offset="0" stop-color="#434355"/><stop offset="0.3" stop-color="#9999be"/><stop offset="0.65" stop-color="#8080a1"/><stop offset="1" stop-color="#434355"/></linearGradient>
<linearGradient id="h3_10" x1="0" y1="0" x2="1" y2="0"><stop offset="0" stop-color="#1bcaca"/><stop offset="0.65" stop-color="#0dabab"/><stop offset="1" stop-color="#075f5f"/></linearGradient>
<linearGradient id="v3_10" x1="0" y1="0" x2="1" y2="0"><stop offset="0" stop-color="#075f5f"/><stop offset="0.3" stop-color="#1bd3d3"/><stop offset="0.65" stop-color="#0eb4b4"/><stop offset="1" stop-color="#075f5f"/></linearGradient>
<linearGradient id="h3_8" x1="0" y1="0" x2="1" y2="0"><stop offset="0" stop-color="#4ac2c2"/><stop offset="0.65" stop-color="#37a3a3"/><stop offset="1" stop-color="#1f5b5b"/></linearGradient>
<linearGradient id="v3_8" x1="0" y1="0" x2="1" y2="0"><stop offset="0" stop-color="#1f5b5b"/><stop offset="0.3" stop-color="#4dcbcb"/><stop offset="0.65" stop-color="#3aacac"/><stop offset="1" stop-color="#1f5b5b"/></linearGradient>
<linearGradient id="h3_6" x1="0" y1="0" x2="1" y2="0"><stop offset="0" stop-color="#66c0c0"/><stop offset="0.65" stop-color="#51a2a2"/><stop offset="1" stop-color="#2d5a5a"/></linearGradient>
<linearGradient id="v3_6" x1="0" y1="0" x2="1" y2="0"><stop offset="0" stop-color="#2d5a5a"/><stop offset="0.3" stop-color="#6ac9c9"/><stop offset="0.65" stop-color="#55abab"/><stop offset="1" stop-color="#2d5a5a"/></linearGradient>
<linearGradient id="h3_4" x1="0" y1="0" x2="1" y2="0"><stop offset="0" stop-color="#7cbcbc"/><stop offset="0.65" stop-color="#649e9e"/><stop offset="1" stop-color="#385858"/></linearGradient>
<linearGradient id="v3_4" x1="0" y1="0" x2="1" y2="0"><stop offset="0" stop-color="#385858"/><stop offset="0.3" stop-color="#81c4c4"/><stop offset="0.65" stop-color="#6aa7a7"/><stop offset="1" stop-color="#385858"/></linearGradient>
<linearGradient id="h3_2" x1="0" y1="0" x2="1" y2="0"><stop offset="0" stop-color="#93b6b6"/><stop offset="0.65" stop-color="#799999"/><stop offset="1" stop-color="#435555"/></linearGradient>
<linearGradient id="v3_2" x1="0" y1="0" x2="1" y2="0"><stop offset="0" stop-color="#435555"/><stop offset="0.3" stop-color="#99bebe"/><stop offset="0.65" stop-color="#80a1a1"/><stop offset="1" stop-color="#435555"/></linearGradient>
<linearGradient id="h4_10" x1="0" y1="0" x2="1" y2="0"><stop offset="0" stop-color="#ca1bca"/><stop offset="0.65" stop-color="#ab0dab"/><stop offset="1" stop-color="#5f075f"/></linearGradient>
<linearGradient id="v4_10" x1="0" y1="0" x2="1" y2="0"><stop offset="0" stop-color="#5f075f"/><stop offset="0.3" stop-color="#d31bd3"/><stop offset="0.65" stop-color="#b40eb4"/><stop offset="1" stop-color="#5f075f"/></linearGradient>
<linearGradient id="h4_8" x1="0" y1="0" x2="1" y2="0"><stop offset="0" stop-color="#c24ac2"/><stop offset="0.65" stop-color="#a337a3"/><stop offset="1" stop-color="#5b1f5b"/></linearGradient>
<linearGradient id="v4_8" x1="0" y1="0" x2="1" y2="0"><stop offset="0" stop-color="#5b1f5b"/><stop offset="0.3" stop-color="#cb4dcb"/><stop offset="0.65" stop-color="#ac3aac"/><stop offset="1" stop-color="#5b1f5b"/></linearGradient>
<linearGradient id="h4_6" x1="0" y1="0" x2="1" y2="0"><stop offset="0" stop-color="#c066c0"/><stop offset="0.65" stop-color="#a251a2"/><stop offset="1" stop-color="#5a2d5a"/></linearGradient>
<linearGradient id="v4_6" x1="0" y1="0" x2="1" y2="0"><stop offset="0" stop-color="#5a2d5a"/><stop offset="0.3" stop-color="#c96ac9"/><stop offset="0.65" stop-color="#ab55ab"/><stop offset="1" stop-color="#5a2d5a"/></linearGradient>
<linearGradient id="h4_4" x1="0" y1="0" x2="1" y2="0"><stop offset="0" stop-color="#bc7cbc"/><stop offset="0.65" stop-color="#9e649e"/><stop offset="1" stop-color="#583858"/></linearGradient>
<linearGradient id="v4_4" x1="0" y1="0" x2="1" y2="0"><stop offset="0" stop-color="#583858"/><stop offset="0.3" stop-color="#c481c4"/><stop offset="0.65" stop-color="#a76aa7"/><stop offset="1" stop-color="#583858"/></linearGradient>
<linearGradient id="h4_2" x1="0" y1="0" x2="1" y2="0"><stop offset="0" stop-color="#b693b6"/><stop offset="0.65" stop-color="#997999"/><stop offset="1" stop-color="#554355"/></linearGradient>
<linearGradient id="v4_2" x1="0" y1="0" x2="1" y2="0"><stop offset="0" stop-color="#554355"/><stop offset="0.3" stop-color="#be99be"/><stop offset="0.65" stop-color="#a180a1"/><stop offset="1" stop-color="#554355"/></linearGradient>
<linearGradient id="h5_10" x1="0" y1="0" x2="1" y2="0"><stop offset="0" stop-color="#caca1b"/><stop offset="0.65" stop-color="#abab0d"/><stop offset="1" stop-color="#5f5f07"/></linearGradient>
<linearGradient id="v5_10" x1="0" y1="0" x2="1" y2="0"><stop offset="0" stop-color="#5f5f07"/><stop offset="0.3" stop-color="#d3d31b"/><stop offset="0.65" stop-color="#b4b40e"/><stop offset="1" stop-color="#5f5f07"/></linearGradient>
<linearGradient id="h5_8" x1="0" y1="0" x2="1" y2="0"><stop offset="0" stop-color="#c2c24a"/><stop offset="0.65" stop-color="#a3a337"/><stop offset="1" stop-color="#5b5b1f"/></linearGradient>
<linearGradient id="v5_8" x1="0" y1="0" x2="1" y2="0"><stop offset="0" stop-color="#5b5b1f"/><stop offset="0.3" stop-color="#cbcb4d"/><stop offset="0.65" stop-color="#acac3a"/><stop offset="1" stop-color="#5b5b1f"/></linearGradient>
<linearGradient id="h5_6" x1="0" y1="0" x2="1" y2="0"><stop offset="0" stop-color="#c0c066"/><stop offset="0.65" stop-color="#a2a251"/><stop offset="1" stop-color="#5a5a2d"/></linearGradient>
<linearGradient id="v5_6" x1="0" y1="0" x2="1" y2="0"><stop offset="0" stop-color="#5a5a2d"/><stop offset="0.3" stop-color="#c9c96a"/><stop offset="0.65" stop-color="#abab55"/><stop offset="1" stop-color="#5a5a2d"/></linearGradient>
<linearGradient id="h5_4" x1="0" y1="0" x2="1" y2="0"><stop offset="0" stop-color="#bcbc7c"/><stop offset="0.65" stop-color="#9e9e64"/><stop offset="1" stop-color="#585838"/></linearGradient>
<linearGradient id="v5_4" x1="0" y1="0" x2="1" y2="0"><stop offset="0" stop-color="#585838"/><stop offset="0.3" stop-color="#c4c481"/><stop offset="0.65" stop-color="#a7a76a"/><stop offset="1" stop-color="#585838"/></linearGradient>
<linearGradient id="h5_2" x1="0" y1="0" x2="1" y2="0"><stop offset="0" stop-color="#b6b693"/><stop offset="0.65" stop-color="#999979"/><stop offset="1" stop-color="#555543"/></linearGradient>
<linearGradient id="v5_2" x1="0" y1="0" x2="1" y2="0"><stop offset="0" stop-color="#555543"/><stop offset="0.3" stop-color="#bebe99"/><stop offset="0.65" stop-color="#a1a180"/><stop offset="1" stop-color="#555543"/></linearGradient>
<linearGradient id="hw" x1="0" y1="0" x2="1" y2="0"><stop offset="0" stop-color="#f4f4f4"/><stop offset="0.5" stop-color="#e0e0e0"/><stop offset="1" stop-color="#777"/></linearGradient>
<linearGradient id="vw" x1="0" y1="0" x2="1" y2="0"><stop offset="0" stop-color="#aaa"/><stop offset="0.35" stop-color="#f8f8f8"/><stop offset="1" stop-color="#999"/></linearGradient>
</defs>
<text x="502.00" y="63.00" font-size="39.24" fill="#1a1a1a" stroke="#1a1a1a" stroke-width="0.45" textLength="315.00" lengthAdjust="spacingAndGlyphs" >Saturation Sweeps</text>
<rect x="30" y="196" width="295" height="39" fill="#242424"/>
<text transform="translate(88.6 220.4) scale(0.86 1)" font-size="22.4" fill="#f2f2f2" textLength="187.79" lengthAdjust="spacing">SDR Analysis</text>
<rect x="333" y="236" width="2" height="512" fill="#1a1a1a"/>
<text x="65.30" y="267.00" font-size="22.09" fill="#1c1c1c" stroke="#1c1c1c" stroke-width="0.40" textLength="208.00" lengthAdjust="spacingAndGlyphs" >Calibrator Information</text>
<text x="42.80" y="297.50" font-size="14.24" fill="#1c1c1c" stroke="#1c1c1c" stroke-width="0.42" textLength="121.20" lengthAdjust="spacingAndGlyphs" xml:space="preserve">Name: TechGaming</text>
<text x="42.80" y="316.00" font-size="14.24" fill="#1c1c1c" stroke="#1c1c1c" stroke-width="0.42" textLength="42.50" lengthAdjust="spacingAndGlyphs" xml:space="preserve">Phone:</text>
<text x="42.80" y="334.70" font-size="14.24" fill="#1c1c1c" stroke="#1c1c1c" stroke-width="0.42" textLength="156.50" lengthAdjust="spacingAndGlyphs" xml:space="preserve">Address Line 1: Edison 11</text>
<text x="42.80" y="353.60" font-size="14.24" fill="#1c1c1c" stroke="#1c1c1c" stroke-width="0.42" textLength="93.40" lengthAdjust="spacingAndGlyphs" xml:space="preserve">Address Line 2:</text>
<text x="42.80" y="372.40" font-size="14.24" fill="#1c1c1c" stroke="#1c1c1c" stroke-width="0.42" textLength="128.40" lengthAdjust="spacingAndGlyphs" xml:space="preserve">City: MIDDELHARNIS</text>
<text x="42.80" y="391.20" font-size="14.24" fill="#1c1c1c" stroke="#1c1c1c" stroke-width="0.42" textLength="187.10" lengthAdjust="spacingAndGlyphs" xml:space="preserve">State: Zuid-Holl.    Zip: 3245 LS</text>
<text x="42.80" y="410.00" font-size="14.24" fill="#1c1c1c" stroke="#1c1c1c" stroke-width="0.42" textLength="186.40" lengthAdjust="spacingAndGlyphs" xml:space="preserve">Calibrator: Les van der Maden</text>
<text x="83.10" y="441.20" font-size="22.09" fill="#1c1c1c" stroke="#1c1c1c" stroke-width="0.40" textLength="172.40" lengthAdjust="spacingAndGlyphs" >Calibration Targets</text>
<text x="42.60" y="471.20" font-size="14.24" fill="#1c1c1c" stroke="#1c1c1c" stroke-width="0.42" textLength="197.20" lengthAdjust="spacingAndGlyphs" >Gamut primaries: rec.709/sRGB</text>
<text x="42.60" y="489.50" font-size="14.24" fill="#1c1c1c" stroke="#1c1c1c" stroke-width="0.42" textLength="184.10" lengthAdjust="spacingAndGlyphs" >Gamma formula: ITU_BT1886</text>
<text x="78.40" y="539.20" font-size="22.09" fill="#1c1c1c" stroke="#1c1c1c" stroke-width="0.40" textLength="181.80" lengthAdjust="spacingAndGlyphs" >Display Information</text>
<text x="42.60" y="569.80" font-size="14.24" fill="#1c1c1c" stroke="#1c1c1c" stroke-width="0.42" textLength="75.80" lengthAdjust="spacingAndGlyphs" >Display: MSI</text>
<text x="42.60" y="589.00" font-size="14.24" fill="#1c1c1c" stroke="#1c1c1c" stroke-width="0.42" textLength="100.40" lengthAdjust="spacingAndGlyphs" >MAG 321CUPDF</text>
<text x="42.60" y="607.50" font-size="14.24" fill="#1c1c1c" stroke="#1c1c1c" stroke-width="0.42" textLength="3.60" lengthAdjust="spacingAndGlyphs" >-</text>
<text x="65.30" y="638.40" font-size="22.09" fill="#1c1c1c" stroke="#1c1c1c" stroke-width="0.40" textLength="208.00" lengthAdjust="spacingAndGlyphs" >Calibration Equipment</text>
<text x="42.60" y="669.20" font-size="14.24" fill="#1c1c1c" stroke="#1c1c1c" stroke-width="0.42" textLength="229.40" lengthAdjust="spacingAndGlyphs" >Meter: Portrait Displays C6 HDR5000</text>
<text x="42.60" y="687.60" font-size="14.24" fill="#1c1c1c" stroke="#1c1c1c" stroke-width="0.42" textLength="171.80" lengthAdjust="spacingAndGlyphs" >Source: Portrait Displays G1</text>
<text x="271.50" y="745.00" font-size="10.90" fill="#2a2a2a" stroke="#2a2a2a" stroke-width="0.28" textLength="52.50" lengthAdjust="spacingAndGlyphs" font-weight="bold">16-11-2025</text>
<g fill="none" stroke="#1d9a45" stroke-width="8" stroke-linecap="round" stroke-linejoin="round"><path d="M114 74 H227 A16 16 0 0 1 227 106 H185 A8 8 0 0 1 185 90 H220"/></g>
<path d="M146.7 80 V106" stroke="#1d9a45" stroke-width="9" stroke-linecap="round" fill="none"/>
<path d="M136 78 Q142.2 78 142.2 86 L146 86 L146 78 Z" fill="#1d9a45"/>
<g fill="none" stroke="#1b68a8" stroke-width="2.9" stroke-linecap="round" stroke-linejoin="round"><path d="M54.5 120.6 H75.5 M65.2 120.6 V131.5"/><path d="M104 120.6 H87 A5.15 5.15 0 0 0 87 130.9 H104 M86.5 125.7 H103.5"/><path d="M132 120.6 H115 A5.15 5.15 0 0 0 115 130.9 H132"/><path d="M137.8 120 V131.6 M159.6 120 V131.6 M137.8 125.7 H159.6"/><path d="M187.5 120.6 H171 A5.15 5.15 0 0 0 171 130.9 H184 Q187.5 130.9 187.5 127.5 V125.7 H173"/><path d="M192.8 131.3 L201.3 120.6 Q202.8 118.9 204.3 120.6 L212.5 131.3"/><path d="M217.9 131.3 V120.4 Q230 132.6 241.5 120.4 V131.3"/><path d="M247.5 119.8 V131.7"/><path d="M253.9 131.7 V124.5 Q253.9 120.5 258 120.5 H270.5 Q274.6 120.5 274.6 124.5 V131.7"/><path d="M304 120.5 H288.5 A5.2 5.2 0 0 0 288.5 130.9 H300.5 Q304 130.9 304 127.5 V125.9 H289"/></g>
<circle cx="202.8" cy="128.9" r="1.5" fill="#1b68a8"/><circle cx="230" cy="130.4" r="1.5" fill="#1b68a8"/>
<g fill="none" stroke="#111" stroke-width="3.3" stroke-linecap="butt"><path d="M70.3 728.8 A8.2 8.2 0 1 0 70.3 740.9"/><circle cx="82.8" cy="734.85" r="8.1"/><path d="M90.9 726.6 V744.5"/><path d="M96.8 716 V744.5"/><path d="M104.5 744.5 V733.7 A6.05 6.05 0 0 1 116.6 733.7 V744.5 M116.6 733.7 A6.15 6.15 0 0 1 128.9 733.7 V744.5"/><circle cx="142.7" cy="734.85" r="8.1"/><path d="M150.8 726.6 V744.5"/><path d="M158.6 744.5 V735.2 A7.6 7.6 0 0 1 173.8 735.2 V744.5"/></g>
<path d="M32.6 721.7 L38.9 728.0 L32.6 734.3 L26.3 728.0Z" fill="#fbedb8"/><path d="M25.3 728.9000000000001 L31.6 735.2 L25.3 741.5 L19.0 735.2Z" fill="#c8ecfa"/><path d="M39.9 728.9000000000001 L46.199999999999996 735.2 L39.9 741.5 L33.6 735.2Z" fill="#c4eec8"/><path d="M32.6 736.1 L38.9 742.4 L32.6 748.6999999999999 L26.3 742.4Z" fill="#f6c4d4"/>
<g fill="none" stroke-width="3.4" stroke-linejoin="round"><path d="M25.4 726.8 L32.6 720.6 L39.8 726.8" stroke="#f0c020"/><path d="M24 728.2 L18.2 735 L24 741.8" stroke="#3ab2e2"/><path d="M41.2 728.2 L47 735 L41.2 741.8" stroke="#20b838"/><path d="M25.4 743.2 L32.6 749.4 L39.8 743.2" stroke="#d82058"/></g>
<path d="M32.6 726 L35.6 729.2 L32.6 732.4 L29.6 729.2Z" fill="#e8b810"/><path d="M26.6 732 L29.8 735 L26.6 738 L23.4 735Z" fill="#30a0e0"/><path d="M38.6 732 L41.8 735 L38.6 738 L35.4 735Z" fill="#10a828"/><path d="M32.6 737.6 L35.6 740.8 L32.6 744 L29.6 740.8Z" fill="#c81048"/>
<g stroke="#8a8a8a" stroke-width="1" fill="none" shape-rendering="crispEdges">
<line x1="446.5" y1="101.4" x2="446.5" y2="434.2"/>
<line x1="510.5" y1="101.4" x2="510.5" y2="434.2"/>
<line x1="382.5" y1="101.4" x2="574.4" y2="101.4" stroke="#999"/>
<line x1="574.4" y1="101.4" x2="574.4" y2="434.2" stroke="#999"/>
<line x1="382.5" y1="101.4" x2="382.5" y2="438.2" stroke="#666"/>
<line x1="378.5" y1="434.2" x2="574.4" y2="434.2" stroke="#777"/>
<line x1="378.5" y1="101.4" x2="382.5" y2="101.4" stroke="#555"/>
<line x1="378.5" y1="148.9" x2="382.5" y2="148.9" stroke="#555"/>
<line x1="378.5" y1="196.5" x2="382.5" y2="196.5" stroke="#555"/>
<line x1="378.5" y1="244.0" x2="382.5" y2="244.0" stroke="#555"/>
<line x1="378.5" y1="291.6" x2="382.5" y2="291.6" stroke="#555"/>
<line x1="378.5" y1="339.1" x2="382.5" y2="339.1" stroke="#555"/>
<line x1="378.5" y1="386.7" x2="382.5" y2="386.7" stroke="#555"/>
<line x1="446.5" y1="434.2" x2="446.5" y2="438.2" stroke="#555"/>
<line x1="510.5" y1="434.2" x2="510.5" y2="438.2" stroke="#555"/>
<line x1="574.5" y1="434.2" x2="574.5" y2="438.2" stroke="#555"/>
</g>
<rect x="382.5" y="106.40" width="44.29" height="5.4" fill="url(#h0_10)" stroke="#0a0a0a" stroke-width="0.9"/>
<rect x="382.5" y="112.20" width="70.40" height="5.4" fill="url(#h1_10)" stroke="#0a0a0a" stroke-width="0.9"/>
<rect x="382.5" y="118.00" width="76.80" height="5.4" fill="url(#h2_10)" stroke="#0a0a0a" stroke-width="0.9"/>
<rect x="382.5" y="123.80" width="74.62" height="5.4" fill="url(#h3_10)" stroke="#0a0a0a" stroke-width="0.9"/>
<rect x="382.5" y="129.60" width="49.54" height="5.4" fill="url(#h4_10)" stroke="#0a0a0a" stroke-width="0.9"/>
<rect x="382.5" y="135.40" width="29.18" height="5.4" fill="url(#h5_10)" stroke="#0a0a0a" stroke-width="0.9"/>
<rect x="382.5" y="153.94" width="43.78" height="5.4" fill="url(#h0_8)" stroke="#0a0a0a" stroke-width="0.9"/>
<rect x="382.5" y="159.74" width="64.00" height="5.4" fill="url(#h1_8)" stroke="#0a0a0a" stroke-width="0.9"/>
<rect x="382.5" y="165.54" width="42.24" height="5.4" fill="url(#h2_8)" stroke="#0a0a0a" stroke-width="0.9"/>
<rect x="382.5" y="171.34" width="64.00" height="5.4" fill="url(#h3_8)" stroke="#0a0a0a" stroke-width="0.9"/>
<rect x="382.5" y="177.14" width="46.34" height="5.4" fill="url(#h4_8)" stroke="#0a0a0a" stroke-width="0.9"/>
<rect x="382.5" y="182.94" width="25.34" height="5.4" fill="url(#h5_8)" stroke="#0a0a0a" stroke-width="0.9"/>
<rect x="382.5" y="201.49" width="44.29" height="5.4" fill="url(#h0_6)" stroke="#0a0a0a" stroke-width="0.9"/>
<rect x="382.5" y="207.29" width="56.96" height="5.4" fill="url(#h1_6)" stroke="#0a0a0a" stroke-width="0.9"/>
<rect x="382.5" y="213.09" width="26.24" height="5.4" fill="url(#h2_6)" stroke="#0a0a0a" stroke-width="0.9"/>
<rect x="382.5" y="218.89" width="56.96" height="5.4" fill="url(#h3_6)" stroke="#0a0a0a" stroke-width="0.9"/>
<rect x="382.5" y="224.69" width="41.47" height="5.4" fill="url(#h4_6)" stroke="#0a0a0a" stroke-width="0.9"/>
<rect x="382.5" y="230.49" width="24.06" height="5.4" fill="url(#h5_6)" stroke="#0a0a0a" stroke-width="0.9"/>
<rect x="382.5" y="249.03" width="41.60" height="5.4" fill="url(#h0_4)" stroke="#0a0a0a" stroke-width="0.9"/>
<rect x="382.5" y="254.83" width="48.38" height="5.4" fill="url(#h1_4)" stroke="#0a0a0a" stroke-width="0.9"/>
<rect x="382.5" y="260.63" width="18.30" height="5.4" fill="url(#h2_4)" stroke="#0a0a0a" stroke-width="0.9"/>
<rect x="382.5" y="266.43" width="51.20" height="5.4" fill="url(#h3_4)" stroke="#0a0a0a" stroke-width="0.9"/>
<rect x="382.5" y="272.23" width="35.58" height="5.4" fill="url(#h4_4)" stroke="#0a0a0a" stroke-width="0.9"/>
<rect x="382.5" y="278.03" width="20.99" height="5.4" fill="url(#h5_4)" stroke="#0a0a0a" stroke-width="0.9"/>
<rect x="382.5" y="296.57" width="33.28" height="5.4" fill="url(#h0_2)" stroke="#0a0a0a" stroke-width="0.9"/>
<rect x="382.5" y="302.37" width="37.89" height="5.4" fill="url(#h1_2)" stroke="#0a0a0a" stroke-width="0.9"/>
<rect x="382.5" y="308.17" width="13.44" height="5.4" fill="url(#h2_2)" stroke="#0a0a0a" stroke-width="0.9"/>
<rect x="382.5" y="313.97" width="41.86" height="5.4" fill="url(#h3_2)" stroke="#0a0a0a" stroke-width="0.9"/>
<rect x="382.5" y="319.77" width="27.52" height="5.4" fill="url(#h4_2)" stroke="#0a0a0a" stroke-width="0.9"/>
<rect x="382.5" y="325.57" width="22.02" height="5.4" fill="url(#h5_2)" stroke="#0a0a0a" stroke-width="0.9"/>
<rect x="382.5" y="377.81" width="37.12" height="5.4" fill="url(#hw)" stroke="#333" stroke-width="0.7"/>
<rect x="382.5" y="425.36" width="3.58" height="5.0" fill="#111" stroke="#000" stroke-width="0.7"/>
<text x="353.40" y="95.80" font-size="10.17" fill="#333" stroke="#333" stroke-width="0.28" textLength="36.60" lengthAdjust="spacingAndGlyphs" >Avg: 3,3</text>
<text x="438.60" y="98.10" font-size="9.88" fill="#333" stroke="#333" stroke-width="0.28" textLength="54.30" lengthAdjust="spacingAndGlyphs" >DeltaE 2000</text>
<text x="542.80" y="95.70" font-size="10.17" fill="#333" stroke="#333" stroke-width="0.28" textLength="31.20" lengthAdjust="spacingAndGlyphs" >Max: 6</text>
<text x="383.50" y="130.07" font-size="10.17" fill="#333" stroke="#333" stroke-width="0.28" text-anchor="end" >100%</text>
<text x="383.50" y="177.61" font-size="10.17" fill="#333" stroke="#333" stroke-width="0.28" text-anchor="end" >80%</text>
<text x="383.50" y="225.16" font-size="10.17" fill="#333" stroke="#333" stroke-width="0.28" text-anchor="end" >60%</text>
<text x="383.50" y="272.70" font-size="10.17" fill="#333" stroke="#333" stroke-width="0.28" text-anchor="end" >40%</text>
<text x="383.50" y="320.24" font-size="10.17" fill="#333" stroke="#333" stroke-width="0.28" text-anchor="end" >20%</text>
<text x="383.50" y="367.79" font-size="10.17" fill="#333" stroke="#333" stroke-width="0.28" text-anchor="end" >100</text>
<text x="383.50" y="415.33" font-size="10.17" fill="#333" stroke="#333" stroke-width="0.28" text-anchor="end" >0</text>
<text x="382.50" y="449.80" font-size="10.17" fill="#333" stroke="#333" stroke-width="0.28" text-anchor="middle" >0</text>
<text x="446.50" y="449.80" font-size="10.17" fill="#333" stroke="#333" stroke-width="0.28" text-anchor="middle" >5</text>
<text x="510.50" y="449.80" font-size="10.17" fill="#333" stroke="#333" stroke-width="0.28" text-anchor="middle" >10</text>
<text x="574.50" y="449.80" font-size="10.17" fill="#333" stroke="#333" stroke-width="0.28" text-anchor="middle" >15</text>
<g fill="none" shape-rendering="crispEdges">
<rect x="623.7" y="96.0" width="348.0" height="340.3" stroke="#aaa"/>
<line x1="623.7" y1="96.0" x2="623.7" y2="440.3" stroke="#777"/>
<line x1="619.7" y1="436.3" x2="971.7" y2="436.3" stroke="#777"/>
<line x1="619.7" y1="436.3" x2="623.7" y2="436.3" stroke="#444"/>
<line x1="619.7" y1="408.0" x2="623.7" y2="408.0" stroke="#444"/>
<line x1="619.7" y1="379.7" x2="623.7" y2="379.7" stroke="#444"/>
<line x1="619.7" y1="351.4" x2="623.7" y2="351.4" stroke="#444"/>
<line x1="619.7" y1="323.1" x2="623.7" y2="323.1" stroke="#444"/>
<line x1="619.7" y1="294.8" x2="623.7" y2="294.8" stroke="#444"/>
<line x1="619.7" y1="266.5" x2="623.7" y2="266.5" stroke="#444"/>
<line x1="619.7" y1="238.2" x2="623.7" y2="238.2" stroke="#444"/>
<line x1="619.7" y1="209.9" x2="623.7" y2="209.9" stroke="#444"/>
<line x1="619.7" y1="181.6" x2="623.7" y2="181.6" stroke="#444"/>
<line x1="619.7" y1="153.3" x2="623.7" y2="153.3" stroke="#444"/>
<line x1="619.7" y1="125.0" x2="623.7" y2="125.0" stroke="#444"/>
<line x1="623.7" y1="436.3" x2="623.7" y2="440.3" stroke="#444"/>
<line x1="681.7" y1="436.3" x2="681.7" y2="440.3" stroke="#444"/>
<line x1="739.7" y1="436.3" x2="739.7" y2="440.3" stroke="#444"/>
<line x1="797.7" y1="436.3" x2="797.7" y2="440.3" stroke="#444"/>
<line x1="855.7" y1="436.3" x2="855.7" y2="440.3" stroke="#444"/>
<line x1="913.7" y1="436.3" x2="913.7" y2="440.3" stroke="#444"/>
</g>
<text x="757.10" y="92.90" font-size="10.76" fill="#333" stroke="#333" stroke-width="0.28" textLength="57.90" lengthAdjust="spacingAndGlyphs" >CIE 1976 u'v'</text>
<text x="619.00" y="440.90" font-size="10.17" fill="#333" stroke="#333" stroke-width="0.28" text-anchor="end" >0</text>
<text x="619.00" y="412.60" font-size="10.17" fill="#333" stroke="#333" stroke-width="0.28" text-anchor="end" >0,05</text>
<text x="619.00" y="384.30" font-size="10.17" fill="#333" stroke="#333" stroke-width="0.28" text-anchor="end" >0,1</text>
<text x="619.00" y="356.00" font-size="10.17" fill="#333" stroke="#333" stroke-width="0.28" text-anchor="end" >0,15</text>
<text x="619.00" y="327.70" font-size="10.17" fill="#333" stroke="#333" stroke-width="0.28" text-anchor="end" >0,2</text>
<text x="619.00" y="299.40" font-size="10.17" fill="#333" stroke="#333" stroke-width="0.28" text-anchor="end" >0,25</text>
<text x="619.00" y="271.10" font-size="10.17" fill="#333" stroke="#333" stroke-width="0.28" text-anchor="end" >0,3</text>
<text x="619.00" y="242.80" font-size="10.17" fill="#333" stroke="#333" stroke-width="0.28" text-anchor="end" >0,35</text>
<text x="619.00" y="214.50" font-size="10.17" fill="#333" stroke="#333" stroke-width="0.28" text-anchor="end" >0,4</text>
<text x="619.00" y="186.20" font-size="10.17" fill="#333" stroke="#333" stroke-width="0.28" text-anchor="end" >0,45</text>
<text x="619.00" y="157.90" font-size="10.17" fill="#333" stroke="#333" stroke-width="0.28" text-anchor="end" >0,5</text>
<text x="619.00" y="129.60" font-size="10.17" fill="#333" stroke="#333" stroke-width="0.28" text-anchor="end" >0,55</text>
<text x="623.70" y="451.70" font-size="10.17" fill="#333" stroke="#333" stroke-width="0.28" text-anchor="middle" >0</text>
<text x="681.70" y="451.70" font-size="10.17" fill="#333" stroke="#333" stroke-width="0.28" text-anchor="middle" >0,1</text>
<text x="739.70" y="451.70" font-size="10.17" fill="#333" stroke="#333" stroke-width="0.28" text-anchor="middle" >0,2</text>
<text x="797.70" y="451.70" font-size="10.17" fill="#333" stroke="#333" stroke-width="0.28" text-anchor="middle" >0,3</text>
<text x="855.70" y="451.70" font-size="10.17" fill="#333" stroke="#333" stroke-width="0.28" text-anchor="middle" >0,4</text>
<text x="913.70" y="451.70" font-size="10.17" fill="#333" stroke="#333" stroke-width="0.28" text-anchor="middle" >0,5</text>
<g fill="none" shape-rendering="crispEdges">
<line x1="372.5" y1="482.7" x2="960.5" y2="482.7" stroke="#999"/>
<line x1="372.5" y1="503.3" x2="960.5" y2="503.3" stroke="#888"/>
<line x1="960.5" y1="482.7" x2="960.5" y2="546.2" stroke="#999"/>
<line x1="372.5" y1="482.7" x2="372.5" y2="546.2" stroke="#666"/>
<line x1="368.5" y1="503.3" x2="372.5" y2="503.3" stroke="#555"/>
<line x1="368.5" y1="542.2" x2="372.5" y2="542.2" stroke="#555"/>
<line x1="456.5" y1="542.2" x2="456.5" y2="546.2" stroke="#555"/>
<line x1="540.5" y1="542.2" x2="540.5" y2="546.2" stroke="#555"/>
<line x1="624.5" y1="542.2" x2="624.5" y2="546.2" stroke="#555"/>
<line x1="708.5" y1="542.2" x2="708.5" y2="546.2" stroke="#555"/>
<line x1="792.5" y1="542.2" x2="792.5" y2="546.2" stroke="#555"/>
<line x1="876.5" y1="542.2" x2="876.5" y2="546.2" stroke="#555"/>
</g>
<rect x="436.42" y="541.81" width="9.42" height="0.39" fill="#555" stroke="#222" stroke-width="0.8"/>
<rect x="520.42" y="541.81" width="9.42" height="0.39" fill="url(#vw)" stroke="#222" stroke-width="0.8"/>
<rect x="547.90" y="538.12" width="9.42" height="4.08" fill="url(#v0_2)" stroke="#0a0a0a" stroke-width="0.9"/>
<rect x="557.32" y="539.09" width="9.42" height="3.11" fill="url(#v1_2)" stroke="#0a0a0a" stroke-width="0.9"/>
<rect x="566.74" y="541.03" width="9.42" height="1.17" fill="url(#v2_2)" stroke="#0a0a0a" stroke-width="0.9"/>
<rect x="576.16" y="541.03" width="9.42" height="1.17" fill="url(#v3_2)" stroke="#0a0a0a" stroke-width="0.9"/>
<rect x="585.58" y="541.03" width="9.42" height="1.17" fill="url(#v4_2)" stroke="#0a0a0a" stroke-width="0.9"/>
<rect x="595.00" y="539.09" width="9.42" height="3.11" fill="url(#v5_2)" stroke="#0a0a0a" stroke-width="0.9"/>
<rect x="631.90" y="538.12" width="9.42" height="4.08" fill="url(#v0_4)" stroke="#0a0a0a" stroke-width="0.9"/>
<rect x="641.32" y="538.12" width="9.42" height="4.08" fill="url(#v1_4)" stroke="#0a0a0a" stroke-width="0.9"/>
<rect x="650.74" y="541.42" width="9.42" height="0.78" fill="url(#v2_4)" stroke="#0a0a0a" stroke-width="0.9"/>
<rect x="660.16" y="540.64" width="9.42" height="1.56" fill="url(#v3_4)" stroke="#0a0a0a" stroke-width="0.9"/>
<rect x="669.58" y="540.64" width="9.42" height="1.56" fill="url(#v4_4)" stroke="#0a0a0a" stroke-width="0.9"/>
<rect x="679.00" y="538.12" width="9.42" height="4.08" fill="url(#v5_4)" stroke="#0a0a0a" stroke-width="0.9"/>
<rect x="715.90" y="536.75" width="9.42" height="5.45" fill="url(#v0_6)" stroke="#0a0a0a" stroke-width="0.9"/>
<rect x="725.32" y="538.12" width="9.42" height="4.08" fill="url(#v1_6)" stroke="#0a0a0a" stroke-width="0.9"/>
<rect x="734.74" y="541.42" width="9.42" height="0.78" fill="url(#v2_6)" stroke="#0a0a0a" stroke-width="0.9"/>
<rect x="744.16" y="540.64" width="9.42" height="1.56" fill="url(#v3_6)" stroke="#0a0a0a" stroke-width="0.9"/>
<rect x="753.58" y="540.64" width="9.42" height="1.56" fill="url(#v4_6)" stroke="#0a0a0a" stroke-width="0.9"/>
<rect x="763.00" y="538.12" width="9.42" height="4.08" fill="url(#v5_6)" stroke="#0a0a0a" stroke-width="0.9"/>
<rect x="799.90" y="538.12" width="9.42" height="4.08" fill="url(#v0_8)" stroke="#0a0a0a" stroke-width="0.9"/>
<rect x="809.32" y="539.09" width="9.42" height="3.11" fill="url(#v1_8)" stroke="#0a0a0a" stroke-width="0.9"/>
<rect x="818.74" y="536.37" width="9.42" height="5.84" fill="url(#v2_8)" stroke="#0a0a0a" stroke-width="0.9"/>
<rect x="828.16" y="541.03" width="9.42" height="1.17" fill="url(#v3_8)" stroke="#0a0a0a" stroke-width="0.9"/>
<rect x="837.58" y="542.01" width="9.42" height="0.19" fill="url(#v4_8)" stroke="#0a0a0a" stroke-width="0.9"/>
<rect x="847.00" y="538.12" width="9.42" height="4.08" fill="url(#v5_8)" stroke="#0a0a0a" stroke-width="0.9"/>
<rect x="883.90" y="538.31" width="9.42" height="3.89" fill="url(#v0_10)" stroke="#0a0a0a" stroke-width="0.9"/>
<rect x="893.32" y="541.03" width="9.42" height="1.17" fill="url(#v1_10)" stroke="#0a0a0a" stroke-width="0.9"/>
<rect x="902.74" y="524.11" width="9.42" height="18.09" fill="url(#v2_10)" stroke="#0a0a0a" stroke-width="0.9"/>
<rect x="912.16" y="541.42" width="9.42" height="0.78" fill="url(#v3_10)" stroke="#0a0a0a" stroke-width="0.9"/>
<rect x="921.58" y="539.87" width="9.42" height="2.33" fill="url(#v4_10)" stroke="#0a0a0a" stroke-width="0.9"/>
<rect x="931.00" y="538.31" width="9.42" height="3.89" fill="url(#v5_10)" stroke="#0a0a0a" stroke-width="0.9"/>
<line x1="368.5" y1="542.2" x2="960.5" y2="542.2" stroke="#888" stroke-width="1.2"/>
<text x="643.80" y="479.70" font-size="10.03" fill="#333" stroke="#333" stroke-width="0.28" textLength="30.60" lengthAdjust="spacingAndGlyphs" >Delta L</text>
<text x="368.20" y="507.40" font-size="10.17" fill="#333" stroke="#333" stroke-width="0.28" text-anchor="end" >10</text>
<text x="368.20" y="547.00" font-size="10.17" fill="#333" stroke="#333" stroke-width="0.28" text-anchor="end" >0</text>
<text x="414.50" y="553.60" font-size="10.17" fill="#333" stroke="#333" stroke-width="0.28" text-anchor="middle" >0</text>
<text x="498.50" y="553.60" font-size="10.17" fill="#333" stroke="#333" stroke-width="0.28" text-anchor="middle" >100</text>
<text x="582.50" y="553.60" font-size="10.17" fill="#333" stroke="#333" stroke-width="0.28" text-anchor="middle" >20%</text>
<text x="666.50" y="553.60" font-size="10.17" fill="#333" stroke="#333" stroke-width="0.28" text-anchor="middle" >40%</text>
<text x="750.50" y="553.60" font-size="10.17" fill="#333" stroke="#333" stroke-width="0.28" text-anchor="middle" >60%</text>
<text x="834.50" y="553.60" font-size="10.17" fill="#333" stroke="#333" stroke-width="0.28" text-anchor="middle" >80%</text>
<text x="918.50" y="553.60" font-size="10.17" fill="#333" stroke="#333" stroke-width="0.28" text-anchor="middle" >100%</text>
<g fill="none" shape-rendering="crispEdges">
<line x1="372.5" y1="581.6" x2="960.5" y2="581.6" stroke="#999"/>
<line x1="372.5" y1="602.4" x2="960.5" y2="602.4" stroke="#888"/>
<line x1="960.5" y1="581.6" x2="960.5" y2="644.1" stroke="#999"/>
<line x1="372.5" y1="581.6" x2="372.5" y2="644.1" stroke="#666"/>
<line x1="368.5" y1="602.4" x2="372.5" y2="602.4" stroke="#555"/>
<line x1="368.5" y1="640.1" x2="372.5" y2="640.1" stroke="#555"/>
<line x1="456.5" y1="640.1" x2="456.5" y2="644.1" stroke="#555"/>
<line x1="540.5" y1="640.1" x2="540.5" y2="644.1" stroke="#555"/>
<line x1="624.5" y1="640.1" x2="624.5" y2="644.1" stroke="#555"/>
<line x1="708.5" y1="640.1" x2="708.5" y2="644.1" stroke="#555"/>
<line x1="792.5" y1="640.1" x2="792.5" y2="644.1" stroke="#555"/>
<line x1="876.5" y1="640.1" x2="876.5" y2="644.1" stroke="#555"/>
</g>
<rect x="436.42" y="638.97" width="9.42" height="1.13" fill="#555" stroke="#222" stroke-width="0.8"/>
<rect x="520.42" y="630.49" width="9.42" height="9.61" fill="url(#vw)" stroke="#222" stroke-width="0.8"/>
<rect x="547.90" y="621.25" width="9.42" height="18.85" fill="url(#v0_2)" stroke="#0a0a0a" stroke-width="0.9"/>
<rect x="557.32" y="618.61" width="9.42" height="21.49" fill="url(#v1_2)" stroke="#0a0a0a" stroke-width="0.9"/>
<rect x="566.74" y="639.72" width="9.42" height="0.38" fill="url(#v2_2)" stroke="#0a0a0a" stroke-width="0.9"/>
<rect x="576.16" y="630.49" width="9.42" height="9.61" fill="url(#v3_2)" stroke="#0a0a0a" stroke-width="0.9"/>
<rect x="585.58" y="634.45" width="9.42" height="5.66" fill="url(#v4_2)" stroke="#0a0a0a" stroke-width="0.9"/>
<rect x="595.00" y="632.37" width="9.42" height="7.73" fill="url(#v5_2)" stroke="#0a0a0a" stroke-width="0.9"/>
<rect x="631.90" y="607.00" width="9.42" height="33.10" fill="url(#v0_4)" stroke="#0a0a0a" stroke-width="0.9"/>
<rect x="641.32" y="602.40" width="9.42" height="37.70" fill="url(#v1_4)" stroke="#0a0a0a" stroke-width="0.9"/>
<rect x="650.74" y="635.76" width="9.42" height="4.34" fill="url(#v2_4)" stroke="#0a0a0a" stroke-width="0.9"/>
<rect x="660.16" y="621.25" width="9.42" height="18.85" fill="url(#v3_4)" stroke="#0a0a0a" stroke-width="0.9"/>
<rect x="669.58" y="622.15" width="9.42" height="17.95" fill="url(#v4_4)" stroke="#0a0a0a" stroke-width="0.9"/>
<rect x="679.00" y="629.66" width="9.42" height="10.44" fill="url(#v5_4)" stroke="#0a0a0a" stroke-width="0.9"/>
<rect x="715.90" y="597.88" width="9.42" height="42.22" fill="url(#v0_6)" stroke="#0a0a0a" stroke-width="0.9"/>
<rect x="725.32" y="585.06" width="9.42" height="55.04" fill="url(#v1_6)" stroke="#0a0a0a" stroke-width="0.9"/>
<rect x="734.74" y="628.60" width="9.42" height="11.50" fill="url(#v2_6)" stroke="#0a0a0a" stroke-width="0.9"/>
<rect x="744.16" y="607.87" width="9.42" height="32.23" fill="url(#v3_6)" stroke="#0a0a0a" stroke-width="0.9"/>
<rect x="753.58" y="609.37" width="9.42" height="30.73" fill="url(#v4_6)" stroke="#0a0a0a" stroke-width="0.9"/>
<rect x="763.00" y="624.53" width="9.42" height="15.57" fill="url(#v5_6)" stroke="#0a0a0a" stroke-width="0.9"/>
<rect x="799.90" y="588.83" width="9.42" height="51.27" fill="url(#v0_8)" stroke="#0a0a0a" stroke-width="0.9"/>
<rect x="809.32" y="581.60" width="9.42" height="58.50" fill="url(#v1_8)" stroke="#0a0a0a" stroke-width="0.9"/>
<rect x="818.74" y="611.71" width="9.42" height="28.39" fill="url(#v2_8)" stroke="#0a0a0a" stroke-width="0.9"/>
<rect x="828.16" y="594.48" width="9.42" height="45.62" fill="url(#v3_8)" stroke="#0a0a0a" stroke-width="0.9"/>
<rect x="837.58" y="594.48" width="9.42" height="45.62" fill="url(#v4_8)" stroke="#0a0a0a" stroke-width="0.9"/>
<rect x="847.00" y="618.46" width="9.42" height="21.64" fill="url(#v5_8)" stroke="#0a0a0a" stroke-width="0.9"/>
<rect x="883.90" y="581.60" width="9.42" height="58.50" fill="url(#v0_10)" stroke="#0a0a0a" stroke-width="0.9"/>
<rect x="893.32" y="581.60" width="9.42" height="58.50" fill="url(#v1_10)" stroke="#0a0a0a" stroke-width="0.9"/>
<rect x="902.74" y="581.60" width="9.42" height="58.50" fill="url(#v2_10)" stroke="#0a0a0a" stroke-width="0.9"/>
<rect x="912.16" y="581.60" width="9.42" height="58.50" fill="url(#v3_10)" stroke="#0a0a0a" stroke-width="0.9"/>
<rect x="921.58" y="581.60" width="9.42" height="58.50" fill="url(#v4_10)" stroke="#0a0a0a" stroke-width="0.9"/>
<rect x="931.00" y="601.27" width="9.42" height="38.83" fill="url(#v5_10)" stroke="#0a0a0a" stroke-width="0.9"/>
<line x1="368.5" y1="640.1" x2="960.5" y2="640.1" stroke="#888" stroke-width="1.2"/>
<text x="642.90" y="578.30" font-size="10.03" fill="#333" stroke="#333" stroke-width="0.28" textLength="32.10" lengthAdjust="spacingAndGlyphs" >Delta C</text>
<text x="368.20" y="606.50" font-size="10.17" fill="#333" stroke="#333" stroke-width="0.28" text-anchor="end" >10</text>
<text x="368.20" y="644.90" font-size="10.17" fill="#333" stroke="#333" stroke-width="0.28" text-anchor="end" >0</text>
<text x="414.50" y="651.90" font-size="10.17" fill="#333" stroke="#333" stroke-width="0.28" text-anchor="middle" >0</text>
<text x="498.50" y="651.90" font-size="10.17" fill="#333" stroke="#333" stroke-width="0.28" text-anchor="middle" >100</text>
<text x="582.50" y="651.90" font-size="10.17" fill="#333" stroke="#333" stroke-width="0.28" text-anchor="middle" >20%</text>
<text x="666.50" y="651.90" font-size="10.17" fill="#333" stroke="#333" stroke-width="0.28" text-anchor="middle" >40%</text>
<text x="750.50" y="651.90" font-size="10.17" fill="#333" stroke="#333" stroke-width="0.28" text-anchor="middle" >60%</text>
<text x="834.50" y="651.90" font-size="10.17" fill="#333" stroke="#333" stroke-width="0.28" text-anchor="middle" >80%</text>
<text x="918.50" y="651.90" font-size="10.17" fill="#333" stroke="#333" stroke-width="0.28" text-anchor="middle" >100%</text>
<g fill="none" shape-rendering="crispEdges">
<line x1="372.5" y1="680.5" x2="960.5" y2="680.5" stroke="#999"/>
<line x1="372.5" y1="701.3" x2="960.5" y2="701.3" stroke="#888"/>
<line x1="960.5" y1="680.5" x2="960.5" y2="743.0" stroke="#999"/>
<line x1="372.5" y1="680.5" x2="372.5" y2="743.0" stroke="#666"/>
<line x1="368.5" y1="701.3" x2="372.5" y2="701.3" stroke="#555"/>
<line x1="368.5" y1="739.0" x2="372.5" y2="739.0" stroke="#555"/>
<line x1="456.5" y1="739.0" x2="456.5" y2="743.0" stroke="#555"/>
<line x1="540.5" y1="739.0" x2="540.5" y2="743.0" stroke="#555"/>
<line x1="624.5" y1="739.0" x2="624.5" y2="743.0" stroke="#555"/>
<line x1="708.5" y1="739.0" x2="708.5" y2="743.0" stroke="#555"/>
<line x1="792.5" y1="739.0" x2="792.5" y2="743.0" stroke="#555"/>
<line x1="876.5" y1="739.0" x2="876.5" y2="743.0" stroke="#555"/>
</g>
<rect x="547.90" y="738.62" width="9.42" height="0.38" fill="url(#v0_2)" stroke="#0a0a0a" stroke-width="0.9"/>
<rect x="557.32" y="732.03" width="9.42" height="6.97" fill="url(#v1_2)" stroke="#0a0a0a" stroke-width="0.9"/>
<rect x="566.74" y="735.98" width="9.42" height="3.02" fill="url(#v2_2)" stroke="#0a0a0a" stroke-width="0.9"/>
<rect x="576.16" y="731.08" width="9.42" height="7.92" fill="url(#v3_2)" stroke="#0a0a0a" stroke-width="0.9"/>
<rect x="585.58" y="729.95" width="9.42" height="9.05" fill="url(#v4_2)" stroke="#0a0a0a" stroke-width="0.9"/>
<rect x="595.00" y="736.51" width="9.42" height="2.49" fill="url(#v5_2)" stroke="#0a0a0a" stroke-width="0.9"/>
<rect x="631.90" y="732.03" width="9.42" height="6.97" fill="url(#v0_4)" stroke="#0a0a0a" stroke-width="0.9"/>
<rect x="641.32" y="721.66" width="9.42" height="17.34" fill="url(#v1_4)" stroke="#0a0a0a" stroke-width="0.9"/>
<rect x="650.74" y="732.03" width="9.42" height="6.97" fill="url(#v2_4)" stroke="#0a0a0a" stroke-width="0.9"/>
<rect x="660.16" y="729.20" width="9.42" height="9.80" fill="url(#v3_4)" stroke="#0a0a0a" stroke-width="0.9"/>
<rect x="669.58" y="724.30" width="9.42" height="14.70" fill="url(#v4_4)" stroke="#0a0a0a" stroke-width="0.9"/>
<rect x="679.00" y="734.70" width="9.42" height="4.30" fill="url(#v5_4)" stroke="#0a0a0a" stroke-width="0.9"/>
<rect x="715.90" y="729.58" width="9.42" height="9.43" fill="url(#v0_6)" stroke="#0a0a0a" stroke-width="0.9"/>
<rect x="725.32" y="712.61" width="9.42" height="26.39" fill="url(#v1_6)" stroke="#0a0a0a" stroke-width="0.9"/>
<rect x="734.74" y="727.69" width="9.42" height="11.31" fill="url(#v2_6)" stroke="#0a0a0a" stroke-width="0.9"/>
<rect x="744.16" y="727.69" width="9.42" height="11.31" fill="url(#v3_6)" stroke="#0a0a0a" stroke-width="0.9"/>
<rect x="753.58" y="720.15" width="9.42" height="18.85" fill="url(#v4_6)" stroke="#0a0a0a" stroke-width="0.9"/>
<rect x="763.00" y="732.97" width="9.42" height="6.03" fill="url(#v5_6)" stroke="#0a0a0a" stroke-width="0.9"/>
<rect x="799.90" y="730.33" width="9.42" height="8.67" fill="url(#v0_8)" stroke="#0a0a0a" stroke-width="0.9"/>
<rect x="809.32" y="701.87" width="9.42" height="37.13" fill="url(#v1_8)" stroke="#0a0a0a" stroke-width="0.9"/>
<rect x="818.74" y="719.40" width="9.42" height="19.60" fill="url(#v2_8)" stroke="#0a0a0a" stroke-width="0.9"/>
<rect x="828.16" y="724.67" width="9.42" height="14.33" fill="url(#v3_8)" stroke="#0a0a0a" stroke-width="0.9"/>
<rect x="837.58" y="715.25" width="9.42" height="23.75" fill="url(#v4_8)" stroke="#0a0a0a" stroke-width="0.9"/>
<rect x="847.00" y="732.21" width="9.42" height="6.79" fill="url(#v5_8)" stroke="#0a0a0a" stroke-width="0.9"/>
<rect x="883.90" y="738.62" width="9.42" height="0.38" fill="url(#v0_10)" stroke="#0a0a0a" stroke-width="0.9"/>
<rect x="893.32" y="693.76" width="9.42" height="45.24" fill="url(#v1_10)" stroke="#0a0a0a" stroke-width="0.9"/>
<rect x="902.74" y="700.55" width="9.42" height="38.45" fill="url(#v2_10)" stroke="#0a0a0a" stroke-width="0.9"/>
<rect x="912.16" y="720.15" width="9.42" height="18.85" fill="url(#v3_10)" stroke="#0a0a0a" stroke-width="0.9"/>
<rect x="921.58" y="711.29" width="9.42" height="27.71" fill="url(#v4_10)" stroke="#0a0a0a" stroke-width="0.9"/>
<rect x="931.00" y="734.85" width="9.42" height="4.15" fill="url(#v5_10)" stroke="#0a0a0a" stroke-width="0.9"/>
<line x1="368.5" y1="739.0" x2="960.5" y2="739.0" stroke="#888" stroke-width="1.2"/>
<text x="642.60" y="677.20" font-size="10.03" fill="#333" stroke="#333" stroke-width="0.28" textLength="32.80" lengthAdjust="spacingAndGlyphs" >Delta H</text>
<text x="368.20" y="705.40" font-size="10.17" fill="#333" stroke="#333" stroke-width="0.28" text-anchor="end" >10</text>
<text x="368.20" y="743.80" font-size="10.17" fill="#333" stroke="#333" stroke-width="0.28" text-anchor="end" >0</text>
<text x="414.50" y="750.80" font-size="10.17" fill="#333" stroke="#333" stroke-width="0.28" text-anchor="middle" >0</text>
<text x="498.50" y="750.80" font-size="10.17" fill="#333" stroke="#333" stroke-width="0.28" text-anchor="middle" >100</text>
<text x="582.50" y="750.80" font-size="10.17" fill="#333" stroke="#333" stroke-width="0.28" text-anchor="middle" >20%</text>
<text x="666.50" y="750.80" font-size="10.17" fill="#333" stroke="#333" stroke-width="0.28" text-anchor="middle" >40%</text>
<text x="750.50" y="750.80" font-size="10.17" fill="#333" stroke="#333" stroke-width="0.28" text-anchor="middle" >60%</text>
<text x="834.50" y="750.80" font-size="10.17" fill="#333" stroke="#333" stroke-width="0.28" text-anchor="middle" >80%</text>
<text x="918.50" y="750.80" font-size="10.17" fill="#333" stroke="#333" stroke-width="0.28" text-anchor="middle" >100%</text>
<g fill="none" stroke="#fff" stroke-width="1.1" opacity="0.7">
<rect x="691.3" y="112.5" width="10" height="10"/>
<rect x="696.9" y="118.4" width="10" height="10"/>
<rect x="703.4" y="126.9" width="10" height="10"/>
<rect x="711.2" y="137.3" width="10" height="10"/>
<rect x="721.5" y="150.8" width="10" height="10"/>
<rect x="737.0" y="118.4" width="10" height="10"/>
<rect x="736.3" y="128.0" width="10" height="10" opacity="0.25"/>
<rect x="735.6" y="137.5" width="10" height="10" opacity="0.25"/>
<rect x="734.9" y="147.0" width="10" height="10" opacity="0.25"/>
<rect x="734.1" y="156.6" width="10" height="10" opacity="0.25"/>
<rect x="697.6" y="173.8" width="10" height="10"/>
<rect x="704.5" y="172.3" width="10" height="10" opacity="0.45"/>
<rect x="711.5" y="170.8" width="10" height="10" opacity="0.45"/>
<rect x="718.5" y="169.3" width="10" height="10" opacity="0.45"/>
<rect x="725.5" y="167.8" width="10" height="10" opacity="0.45"/>
<rect x="760.2" y="159.3" width="10" height="10"/>
<rect x="790.9" y="153.2" width="10" height="10"/>
<rect x="818.1" y="147.2" width="10" height="10"/>
<rect x="848.1" y="140.8" width="10" height="10"/>
<rect x="879.5" y="134.5" width="10" height="10"/>
<rect x="743.0" y="178.0" width="10" height="10"/>
<rect x="753.1" y="190.5" width="10" height="10"/>
<rect x="764.6" y="205.0" width="10" height="10"/>
<rect x="778.7" y="222.6" width="10" height="10"/>
<rect x="794.8" y="243.2" width="10" height="10"/>
<rect x="731.5" y="187.2" width="10" height="10"/>
<rect x="730.4" y="212.7" width="10" height="10"/>
<rect x="727.0" y="245.2" width="10" height="10"/>
<rect x="724.4" y="286.8" width="10" height="10"/>
<rect x="720.4" y="341.5" width="10" height="10"/>
</g>
<g fill="#808080" fill-opacity="0.6" stroke="#2c2c2c" stroke-opacity="0.85" stroke-width="1.05">
<circle cx="679.1" cy="112" r="2.9" opacity="0.75"/>
<circle cx="687.6" cy="120.6" r="2.9"/>
<circle cx="698" cy="129.9" r="2.9"/>
<circle cx="708.4" cy="140.4" r="2.9"/>
<circle cx="721.7" cy="153.4" r="2.9"/>
<circle cx="739.4" cy="119.3" r="2.9"/>
<circle cx="738.6" cy="127.1" r="2.9"/>
<circle cx="738.6" cy="135.4" r="2.9"/>
<circle cx="738.6" cy="144.9" r="2.9"/>
<circle cx="738.6" cy="156.4" r="2.9"/>
<circle cx="692.4" cy="174.9" r="2.9"/>
<circle cx="701.5" cy="174" r="2.9"/>
<circle cx="710.4" cy="172.9" r="2.9"/>
<circle cx="719.7" cy="171.4" r="2.9"/>
<circle cx="728.2" cy="170.3" r="2.9"/>
<circle cx="771.2" cy="163.3" r="2.9"/>
<circle cx="808" cy="157.8" r="2.9"/>
<circle cx="842" cy="152.2" r="2.9"/>
<circle cx="879.4" cy="146.6" r="2.9" opacity="0.35"/>
<circle cx="916.5" cy="140.1" r="2.9" opacity="0.7" fill="#3a3a3a"/>
<circle cx="750.8" cy="180.5" r="2.9"/>
<circle cx="764.8" cy="195.7" r="2.9"/>
<circle cx="779.8" cy="210" r="2.9"/>
<circle cx="800.8" cy="230.4" r="2.9"/>
<circle cx="825.2" cy="255" r="2.9" opacity="0.3"/>
<circle cx="737.5" cy="190.8" r="2.9"/>
<circle cx="736.5" cy="218.8" r="2.9"/>
<circle cx="736" cy="253.1" r="2.9"/>
<circle cx="734.9" cy="300" r="2.9"/>
<circle cx="734" cy="371" r="2.9" opacity="0.2"/>
</g>
<circle cx="737.7" cy="168.4" r="3.3" fill="#fff" stroke="#303030" stroke-width="1.3"/>
<circle cx="739.4" cy="197.3" r="3.4" fill="#000" stroke="#111" stroke-width="1"/>
</svg>
<script>
(function(){
var cv=document.getElementById('cie'); if(!cv||!cv.getContext) return;
var ctx=cv.getContext('2d');
var X0=623.7,XS=580,Y0=436.3,YS=566,L=624,T=96,R=972,B=437;
var xy=[[0.1741,0.0050],[0.1738,0.0049],[0.1733,0.0048],[0.1726,0.0048],[0.1714,0.0051],[0.1703,0.0058],[0.1689,0.0069],[0.1669,0.0086],[0.1644,0.0109],[0.1611,0.0138],[0.1566,0.0177],[0.1510,0.0227],[0.1440,0.0297],[0.1355,0.0399],[0.1241,0.0578],[0.1096,0.0868],[0.0913,0.1327],[0.0687,0.2007],[0.0454,0.2950],[0.0235,0.4127],[0.0082,0.5384],[0.0039,0.6548],[0.0139,0.7502],[0.0389,0.8120],[0.0743,0.8338],[0.1142,0.8262],[0.1547,0.8059],[0.1929,0.7816],[0.2296,0.7543],[0.2658,0.7243],[0.3016,0.6923],[0.3373,0.6589],[0.3731,0.6245],[0.4087,0.5896],[0.4441,0.5547],[0.4788,0.5202],[0.5125,0.4866],[0.5448,0.4544],[0.5752,0.4242],[0.6029,0.3965],[0.6270,0.3725],[0.6482,0.3514],[0.6658,0.3340],[0.6801,0.3197],[0.6915,0.3083],[0.7006,0.2993],[0.7079,0.2920],[0.7190,0.2809],[0.7260,0.2740],[0.7300,0.2700],[0.7334,0.2666],[0.7347,0.2653]];
var pts=[];
for(var i=0;i<xy.length;i++){var x=xy[i][0],y=xy[i][1],d=-2*x+12*y+3;var u=4*x/d,v=9*y/d;pts.push([X0+u*XS,Y0-v*YS]);}
var W=R-L,H=B-T;
var off=document.createElement('canvas');off.width=W;off.height=H;
var oc=off.getContext('2d');var img=oc.createImageData(W,H);var dt=img.data;
function gm(c){return c<=0.0031308?12.92*c:1.055*Math.pow(c,1/2.4)-0.055;}
for(var py=0;py<H;py++){for(var px=0;px<W;px++){
 var u=(L+px+0.5-X0)/XS,v=(Y0-(T+py+0.5))/YS; if(v<0.002)v=0.002;
 var d=6*u-16*v+12,x=9*u/d,y=4*v/d;
 var X=x/y,Z=(1-x-y)/y;
 var r=3.2406*X-1.5372-0.4986*Z,g=-0.9689*X+1.8758+0.0415*Z,b=0.0557*X-0.2040+1.0570*Z;
 var ins=(r>=0&&g>=0&&b>=0);
 if(r<0)r=0;if(g<0)g=0;if(b<0)b=0;var m=Math.max(r,g,b)||1;
 r=r/m;g=g/m;b=b/m;
 var k=ins?255:162;
 var o=(py*W+px)*4;dt[o]=r*k;dt[o+1]=g*k;dt[o+2]=b*k;dt[o+3]=255;
}}
oc.putImageData(img,0,0);
ctx.save();ctx.beginPath();ctx.rect(L,T,W,H);ctx.clip();
ctx.beginPath();ctx.moveTo(pts[0][0],pts[0][1]);
for(var i=1;i<pts.length;i++)ctx.lineTo(pts[i][0],pts[i][1]);
ctx.closePath();ctx.clip();
ctx.drawImage(off,L,T);
ctx.restore();
})();

</script>
</body></html>
